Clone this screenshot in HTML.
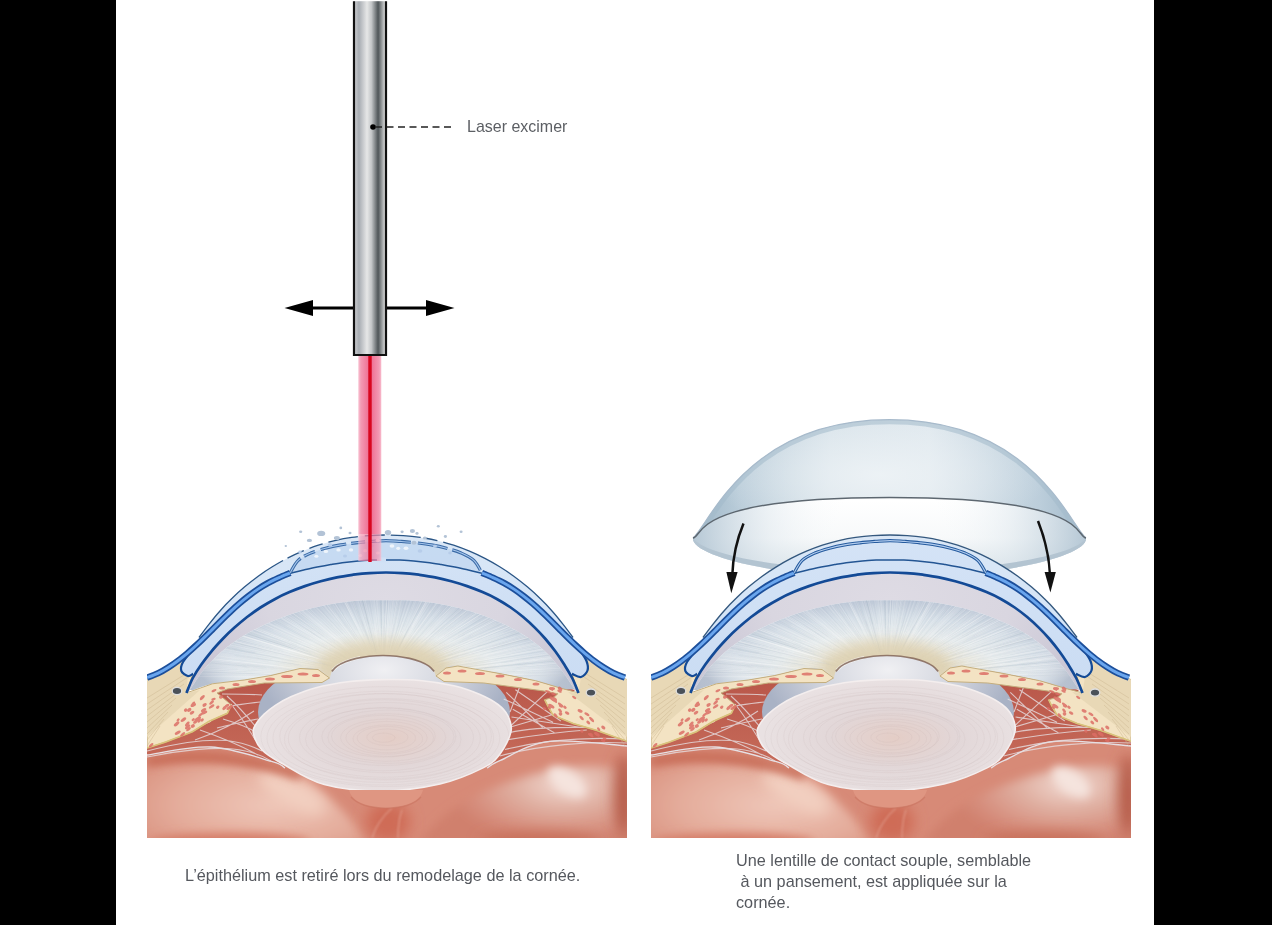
<!DOCTYPE html>
<html><head><meta charset="utf-8">
<style>
html,body{margin:0;padding:0;background:#000;}
body{width:1272px;height:925px;overflow:hidden;position:relative;}
#page{position:absolute;left:116px;top:0;width:1038px;height:925px;background:#fff;}
svg{position:absolute;left:0;top:0;}
.t{position:absolute;font-family:"Liberation Sans",sans-serif;font-size:17px;color:#55585e;white-space:pre;line-height:21.2px;transform-origin:0 0;transform:scaleX(0.955);}
</style></head>
<body>
<div id="page"></div>
<svg width="1272" height="925" viewBox="0 0 1272 925">
<defs>
  <linearGradient id="tube" x1="355" x2="385" y1="0" y2="0" gradientUnits="userSpaceOnUse">
    <stop offset="0" stop-color="#c9cacd"/>
    <stop offset="0.13" stop-color="#a7acb2"/>
    <stop offset="0.40" stop-color="#e6e7e7"/>
    <stop offset="0.55" stop-color="#c3c6c8"/>
    <stop offset="0.77" stop-color="#4e5558"/>
    <stop offset="1" stop-color="#d8d9d9"/>
  </linearGradient>
  <linearGradient id="beam" x1="358" x2="382" y1="0" y2="0" gradientUnits="userSpaceOnUse">
    <stop offset="0" stop-color="#f9c9d7"/>
    <stop offset="0.12" stop-color="#f39ab4"/>
    <stop offset="0.45" stop-color="#ee6f93"/>
    <stop offset="0.55" stop-color="#ee6f93"/>
    <stop offset="0.88" stop-color="#f39ab4"/>
    <stop offset="1" stop-color="#f9c9d7"/>
  </linearGradient>
</defs>
<defs>
<linearGradient id="pcL" x1="0" y1="680" x2="0" y2="780" gradientUnits="userSpaceOnUse"><stop offset="0" stop-color="#b9574a"/><stop offset="1" stop-color="#c86e5c"/></linearGradient>
<radialGradient id="vl1L" cx="265" cy="790" r="120" gradientUnits="userSpaceOnUse" gradientTransform="translate(265 790) rotate(14) scale(1 0.3) translate(-265 -790)"><stop offset="0" stop-color="#edc0af"/><stop offset="0.5" stop-color="#e6ab97" stop-opacity="0.7"/><stop offset="1" stop-color="#e6ab97" stop-opacity="0"/></radialGradient>
<radialGradient id="vl2L" cx="562" cy="780" r="48" gradientUnits="userSpaceOnUse" gradientTransform="translate(562 780) rotate(35) scale(1 0.5) translate(-562 -780)"><stop offset="0" stop-color="#f3ddd5"/><stop offset="0.5" stop-color="#e9bcac" stop-opacity="0.7"/><stop offset="1" stop-color="#e6ab97" stop-opacity="0"/></radialGradient>
<radialGradient id="vl3L" cx="392" cy="838" r="60" gradientUnits="userSpaceOnUse" gradientTransform="translate(392 838) scale(0.6 1) translate(-392 -838)"><stop offset="0" stop-color="#e9bcad"/><stop offset="1" stop-color="#e6b3a2" stop-opacity="0"/></radialGradient>
<linearGradient id="vtopL" x1="0" y1="745" x2="0" y2="800" gradientUnits="userSpaceOnUse"><stop offset="0" stop-color="#bd5f4b" stop-opacity="0.9"/><stop offset="1" stop-color="#bd5f4b" stop-opacity="0"/></linearGradient>
<radialGradient id="vd3L" cx="468" cy="805" r="50" gradientUnits="userSpaceOnUse" gradientTransform="translate(468 805) scale(0.7 1) translate(-468 -805)"><stop offset="0" stop-color="#c46a55" stop-opacity="0.8"/><stop offset="1" stop-color="#c46a55" stop-opacity="0"/></radialGradient>
<radialGradient id="vd1L" cx="620" cy="830" r="70" gradientUnits="userSpaceOnUse" gradientTransform="translate(620 830) scale(0.7 1) translate(-620 -830)"><stop offset="0" stop-color="#b4553f"/><stop offset="1" stop-color="#b4553f" stop-opacity="0"/></radialGradient>
<radialGradient id="vd2L" cx="150" cy="838" r="60" gradientUnits="userSpaceOnUse"><stop offset="0" stop-color="#c2624c"/><stop offset="1" stop-color="#c2624c" stop-opacity="0"/></radialGradient>
<radialGradient id="lbL" cx="384" cy="670" r="125" gradientUnits="userSpaceOnUse" gradientTransform="translate(384 670) scale(1 0.6) translate(-384 -670)"><stop offset="0" stop-color="#f0f0f3"/><stop offset="0.55" stop-color="#d2d5de"/><stop offset="1" stop-color="#a9b2c5"/></radialGradient>
<radialGradient id="lfL" cx="390" cy="738" r="130" gradientUnits="userSpaceOnUse" gradientTransform="translate(390 738) scale(1 0.45) translate(-390 -738)"><stop offset="0" stop-color="#e4cdc6"/><stop offset="0.5" stop-color="#e2d7d8"/><stop offset="1" stop-color="#e9e1e2"/></radialGradient>
<radialGradient id="acL" cx="386" cy="600" r="200" gradientUnits="userSpaceOnUse" gradientTransform="translate(386 600) scale(1 0.6) translate(-386 -600)"><stop offset="0" stop-color="#dedbe4"/><stop offset="0.6" stop-color="#d9d6e0"/><stop offset="1" stop-color="#cbc8d6"/></radialGradient>
<radialGradient id="irL" cx="384" cy="682" r="200" gradientUnits="userSpaceOnUse" gradientTransform="translate(384 682) scale(1 0.41) translate(-384 -682)"><stop offset="0" stop-color="#e0d4b6"/><stop offset="0.3" stop-color="#e3d9c0"/><stop offset="0.45" stop-color="#e9e6d9"/><stop offset="0.6" stop-color="#e8edee"/><stop offset="0.8" stop-color="#d8e1e9"/><stop offset="1" stop-color="#bfc9d8"/></radialGradient>
<filter id="blur4L" filterUnits="userSpaceOnUse" x="250" y="580" width="280" height="140"><feGaussianBlur stdDeviation="6"/></filter>
<radialGradient id="ir2L" cx="384" cy="640" r="200" gradientUnits="userSpaceOnUse" gradientTransform="translate(384 640) scale(1 0.45) translate(-384 -640)"><stop offset="0" stop-color="#fff" stop-opacity="0"/><stop offset="0.75" stop-color="#fff" stop-opacity="0"/><stop offset="1" stop-color="#a9b3c4" stop-opacity="0.6"/></radialGradient>
<linearGradient id="epL" x1="0" y1="534" x2="0" y2="640" gradientUnits="userSpaceOnUse"><stop offset="0" stop-color="#dae7f6"/><stop offset="1" stop-color="#d3e4f7"/></linearGradient>
<linearGradient id="stL" x1="0" y1="540" x2="0" y2="690" gradientUnits="userSpaceOnUse"><stop offset="0" stop-color="#d4e3f6"/><stop offset="1" stop-color="#cadcf3"/></linearGradient>
<radialGradient id="lobeLL" cx="270" cy="805" r="170" gradientUnits="userSpaceOnUse" gradientTransform="translate(270 805) scale(1 0.42) translate(-270 -805)"><stop offset="0" stop-color="#eec6b8"/><stop offset="0.55" stop-color="#e4ac9b"/><stop offset="1" stop-color="#d88d7a"/></radialGradient>
<radialGradient id="lobeRL" cx="565" cy="785" r="120" gradientUnits="userSpaceOnUse" gradientTransform="translate(565 785) scale(1 0.5) translate(-565 -785)"><stop offset="0" stop-color="#f0d8d0"/><stop offset="0.4" stop-color="#e0b0a2"/><stop offset="0.8" stop-color="#d68e7d"/><stop offset="1" stop-color="#d0806d"/></radialGradient>
<filter id="b10L" filterUnits="userSpaceOnUse" x="100" y="600" width="600" height="300"><feGaussianBlur stdDeviation="10"/></filter><filter id="b8L" filterUnits="userSpaceOnUse" x="100" y="600" width="600" height="300"><feGaussianBlur stdDeviation="7"/></filter><filter id="b1L" filterUnits="userSpaceOnUse" x="100" y="600" width="600" height="300"><feGaussianBlur stdDeviation="1.2"/></filter><filter id="b6L" filterUnits="userSpaceOnUse" x="100" y="600" width="600" height="300"><feGaussianBlur stdDeviation="5"/></filter>
<clipPath id="panelL"><rect x="147" y="440" width="480" height="398"/></clipPath>
<clipPath id="ircL"><path d="M190.0,690.0 C192.4,686.5 199.1,675.5 204.4,669.1 C209.7,662.7 215.6,656.7 221.8,651.4 C228.0,646.0 234.8,641.2 241.9,636.8 C248.9,632.4 256.4,628.5 263.9,625.0 C271.5,621.4 279.4,618.3 287.3,615.5 C295.2,612.7 303.3,610.3 311.5,608.3 C319.6,606.2 327.9,604.6 336.2,603.3 C344.5,602.0 352.8,601.1 361.1,600.6 C369.4,600.1 377.7,600.3 386.0,600.3 C394.3,600.3 402.6,600.1 410.8,600.6 C419.1,601.1 427.3,602.0 435.5,603.3 C443.6,604.6 451.7,606.2 459.7,608.3 C467.6,610.3 475.5,612.7 483.2,615.5 C490.8,618.3 498.4,621.4 505.6,625.0 C512.8,628.5 519.9,632.4 526.5,636.8 C533.0,641.2 539.4,646.0 545.1,651.4 C550.8,656.7 555.7,662.7 560.6,669.1 C565.6,675.5 572.6,686.5 575.0,690.0 L575.0,689.0 C572.8,688.9 568.2,689.8 561.7,688.4 C555.2,687.0 545.8,683.1 535.7,680.7 C525.6,678.3 514.0,676.2 501.0,673.8 C488.0,671.3 467.1,667.0 457.9,666.0 C448.7,665.0 449.6,666.3 446.0,668.0 C442.4,669.7 437.7,674.7 436.0,676.0 L436.0,677.0 C435.7,676.1 435.4,673.2 434.2,671.4 C433.0,669.6 431.2,667.9 428.9,666.2 C426.6,664.6 423.7,663.1 420.5,661.8 C417.2,660.5 413.5,659.3 409.5,658.4 C405.5,657.5 401.1,656.7 396.7,656.2 C392.3,655.8 387.6,655.5 383.0,655.5 C378.4,655.5 373.7,655.8 369.3,656.2 C364.9,656.7 360.5,657.5 356.5,658.4 C352.5,659.3 348.8,660.5 345.5,661.8 C342.3,663.1 339.4,664.6 337.1,666.2 C334.8,667.9 333.0,669.6 331.8,671.4 C330.6,673.2 330.3,676.1 330.0,677.0 L329.5,678.0 C327.6,676.6 322.9,671.1 318.0,669.5 C313.1,667.9 307.9,667.5 300.0,668.5 C292.1,669.5 280.0,673.6 270.8,675.5 C261.6,677.4 254.6,678.5 244.9,679.9 C235.2,681.3 221.1,682.1 212.4,683.8 C203.8,685.5 196.2,689.0 193.0,690.0 Z"/></clipPath>
<clipPath id="lfcL"><path d="M253.3,733.0 C252.4,728.6 254.6,726.5 256.4,723.4 C258.2,720.3 260.8,717.4 263.9,714.4 C267.0,711.4 270.9,708.2 275.3,705.3 C279.7,702.4 283.8,699.9 290.4,697.0 C297.0,694.1 305.1,690.5 315.0,687.9 C324.9,685.3 338.9,682.9 350.0,681.5 C361.1,680.1 369.9,679.8 381.6,679.6 C393.3,679.4 407.8,679.4 420.0,680.5 C432.2,681.6 445.0,683.7 455.0,686.0 C465.0,688.3 472.8,691.4 480.0,694.5 C487.2,697.6 493.3,700.9 498.0,704.5 C502.7,708.1 505.8,711.5 508.0,716.0 C510.2,720.5 512.3,725.3 511.0,731.6 C509.7,737.9 504.6,748.0 500.0,754.0 C495.4,760.0 493.5,762.6 483.5,767.6 C473.5,772.6 457.0,780.1 440.0,784.0 C423.0,787.9 400.9,790.9 381.6,791.0 C362.3,791.1 340.9,789.2 324.3,784.6 C307.7,780.0 292.2,769.2 281.8,763.4 C271.4,757.6 266.8,755.1 262.0,750.0 C257.2,744.9 254.2,737.4 253.3,733.0 Z"/></clipPath>

<linearGradient id="pcR" x1="0" y1="680" x2="0" y2="780" gradientUnits="userSpaceOnUse"><stop offset="0" stop-color="#b9574a"/><stop offset="1" stop-color="#c86e5c"/></linearGradient>
<radialGradient id="vl1R" cx="265" cy="790" r="120" gradientUnits="userSpaceOnUse" gradientTransform="translate(265 790) rotate(14) scale(1 0.3) translate(-265 -790)"><stop offset="0" stop-color="#edc0af"/><stop offset="0.5" stop-color="#e6ab97" stop-opacity="0.7"/><stop offset="1" stop-color="#e6ab97" stop-opacity="0"/></radialGradient>
<radialGradient id="vl2R" cx="562" cy="780" r="48" gradientUnits="userSpaceOnUse" gradientTransform="translate(562 780) rotate(35) scale(1 0.5) translate(-562 -780)"><stop offset="0" stop-color="#f3ddd5"/><stop offset="0.5" stop-color="#e9bcac" stop-opacity="0.7"/><stop offset="1" stop-color="#e6ab97" stop-opacity="0"/></radialGradient>
<radialGradient id="vl3R" cx="392" cy="838" r="60" gradientUnits="userSpaceOnUse" gradientTransform="translate(392 838) scale(0.6 1) translate(-392 -838)"><stop offset="0" stop-color="#e9bcad"/><stop offset="1" stop-color="#e6b3a2" stop-opacity="0"/></radialGradient>
<linearGradient id="vtopR" x1="0" y1="745" x2="0" y2="800" gradientUnits="userSpaceOnUse"><stop offset="0" stop-color="#bd5f4b" stop-opacity="0.9"/><stop offset="1" stop-color="#bd5f4b" stop-opacity="0"/></linearGradient>
<radialGradient id="vd3R" cx="468" cy="805" r="50" gradientUnits="userSpaceOnUse" gradientTransform="translate(468 805) scale(0.7 1) translate(-468 -805)"><stop offset="0" stop-color="#c46a55" stop-opacity="0.8"/><stop offset="1" stop-color="#c46a55" stop-opacity="0"/></radialGradient>
<radialGradient id="vd1R" cx="620" cy="830" r="70" gradientUnits="userSpaceOnUse" gradientTransform="translate(620 830) scale(0.7 1) translate(-620 -830)"><stop offset="0" stop-color="#b4553f"/><stop offset="1" stop-color="#b4553f" stop-opacity="0"/></radialGradient>
<radialGradient id="vd2R" cx="150" cy="838" r="60" gradientUnits="userSpaceOnUse"><stop offset="0" stop-color="#c2624c"/><stop offset="1" stop-color="#c2624c" stop-opacity="0"/></radialGradient>
<radialGradient id="lbR" cx="384" cy="670" r="125" gradientUnits="userSpaceOnUse" gradientTransform="translate(384 670) scale(1 0.6) translate(-384 -670)"><stop offset="0" stop-color="#f0f0f3"/><stop offset="0.55" stop-color="#d2d5de"/><stop offset="1" stop-color="#a9b2c5"/></radialGradient>
<radialGradient id="lfR" cx="390" cy="738" r="130" gradientUnits="userSpaceOnUse" gradientTransform="translate(390 738) scale(1 0.45) translate(-390 -738)"><stop offset="0" stop-color="#e4cdc6"/><stop offset="0.5" stop-color="#e2d7d8"/><stop offset="1" stop-color="#e9e1e2"/></radialGradient>
<radialGradient id="acR" cx="386" cy="600" r="200" gradientUnits="userSpaceOnUse" gradientTransform="translate(386 600) scale(1 0.6) translate(-386 -600)"><stop offset="0" stop-color="#dedbe4"/><stop offset="0.6" stop-color="#d9d6e0"/><stop offset="1" stop-color="#cbc8d6"/></radialGradient>
<radialGradient id="irR" cx="384" cy="682" r="200" gradientUnits="userSpaceOnUse" gradientTransform="translate(384 682) scale(1 0.41) translate(-384 -682)"><stop offset="0" stop-color="#e0d4b6"/><stop offset="0.3" stop-color="#e3d9c0"/><stop offset="0.45" stop-color="#e9e6d9"/><stop offset="0.6" stop-color="#e8edee"/><stop offset="0.8" stop-color="#d8e1e9"/><stop offset="1" stop-color="#bfc9d8"/></radialGradient>
<filter id="blur4R" filterUnits="userSpaceOnUse" x="250" y="580" width="280" height="140"><feGaussianBlur stdDeviation="6"/></filter>
<radialGradient id="ir2R" cx="384" cy="640" r="200" gradientUnits="userSpaceOnUse" gradientTransform="translate(384 640) scale(1 0.45) translate(-384 -640)"><stop offset="0" stop-color="#fff" stop-opacity="0"/><stop offset="0.75" stop-color="#fff" stop-opacity="0"/><stop offset="1" stop-color="#a9b3c4" stop-opacity="0.6"/></radialGradient>
<linearGradient id="epR" x1="0" y1="534" x2="0" y2="640" gradientUnits="userSpaceOnUse"><stop offset="0" stop-color="#dae7f6"/><stop offset="1" stop-color="#d3e4f7"/></linearGradient>
<linearGradient id="stR" x1="0" y1="540" x2="0" y2="690" gradientUnits="userSpaceOnUse"><stop offset="0" stop-color="#d4e3f6"/><stop offset="1" stop-color="#cadcf3"/></linearGradient>
<radialGradient id="lobeLR" cx="270" cy="805" r="170" gradientUnits="userSpaceOnUse" gradientTransform="translate(270 805) scale(1 0.42) translate(-270 -805)"><stop offset="0" stop-color="#eec6b8"/><stop offset="0.55" stop-color="#e4ac9b"/><stop offset="1" stop-color="#d88d7a"/></radialGradient>
<radialGradient id="lobeRR" cx="565" cy="785" r="120" gradientUnits="userSpaceOnUse" gradientTransform="translate(565 785) scale(1 0.5) translate(-565 -785)"><stop offset="0" stop-color="#f0d8d0"/><stop offset="0.4" stop-color="#e0b0a2"/><stop offset="0.8" stop-color="#d68e7d"/><stop offset="1" stop-color="#d0806d"/></radialGradient>
<filter id="b10R" filterUnits="userSpaceOnUse" x="100" y="600" width="600" height="300"><feGaussianBlur stdDeviation="10"/></filter><filter id="b8R" filterUnits="userSpaceOnUse" x="100" y="600" width="600" height="300"><feGaussianBlur stdDeviation="7"/></filter><filter id="b1R" filterUnits="userSpaceOnUse" x="100" y="600" width="600" height="300"><feGaussianBlur stdDeviation="1.2"/></filter><filter id="b6R" filterUnits="userSpaceOnUse" x="100" y="600" width="600" height="300"><feGaussianBlur stdDeviation="5"/></filter>
<clipPath id="panelR"><rect x="147" y="440" width="480" height="398"/></clipPath>
<clipPath id="ircR"><path d="M190.0,690.0 C192.4,686.5 199.1,675.5 204.4,669.1 C209.7,662.7 215.6,656.7 221.8,651.4 C228.0,646.0 234.8,641.2 241.9,636.8 C248.9,632.4 256.4,628.5 263.9,625.0 C271.5,621.4 279.4,618.3 287.3,615.5 C295.2,612.7 303.3,610.3 311.5,608.3 C319.6,606.2 327.9,604.6 336.2,603.3 C344.5,602.0 352.8,601.1 361.1,600.6 C369.4,600.1 377.7,600.3 386.0,600.3 C394.3,600.3 402.6,600.1 410.8,600.6 C419.1,601.1 427.3,602.0 435.5,603.3 C443.6,604.6 451.7,606.2 459.7,608.3 C467.6,610.3 475.5,612.7 483.2,615.5 C490.8,618.3 498.4,621.4 505.6,625.0 C512.8,628.5 519.9,632.4 526.5,636.8 C533.0,641.2 539.4,646.0 545.1,651.4 C550.8,656.7 555.7,662.7 560.6,669.1 C565.6,675.5 572.6,686.5 575.0,690.0 L575.0,689.0 C572.8,688.9 568.2,689.8 561.7,688.4 C555.2,687.0 545.8,683.1 535.7,680.7 C525.6,678.3 514.0,676.2 501.0,673.8 C488.0,671.3 467.1,667.0 457.9,666.0 C448.7,665.0 449.6,666.3 446.0,668.0 C442.4,669.7 437.7,674.7 436.0,676.0 L436.0,677.0 C435.7,676.1 435.4,673.2 434.2,671.4 C433.0,669.6 431.2,667.9 428.9,666.2 C426.6,664.6 423.7,663.1 420.5,661.8 C417.2,660.5 413.5,659.3 409.5,658.4 C405.5,657.5 401.1,656.7 396.7,656.2 C392.3,655.8 387.6,655.5 383.0,655.5 C378.4,655.5 373.7,655.8 369.3,656.2 C364.9,656.7 360.5,657.5 356.5,658.4 C352.5,659.3 348.8,660.5 345.5,661.8 C342.3,663.1 339.4,664.6 337.1,666.2 C334.8,667.9 333.0,669.6 331.8,671.4 C330.6,673.2 330.3,676.1 330.0,677.0 L329.5,678.0 C327.6,676.6 322.9,671.1 318.0,669.5 C313.1,667.9 307.9,667.5 300.0,668.5 C292.1,669.5 280.0,673.6 270.8,675.5 C261.6,677.4 254.6,678.5 244.9,679.9 C235.2,681.3 221.1,682.1 212.4,683.8 C203.8,685.5 196.2,689.0 193.0,690.0 Z"/></clipPath>
<clipPath id="lfcR"><path d="M253.3,733.0 C252.4,728.6 254.6,726.5 256.4,723.4 C258.2,720.3 260.8,717.4 263.9,714.4 C267.0,711.4 270.9,708.2 275.3,705.3 C279.7,702.4 283.8,699.9 290.4,697.0 C297.0,694.1 305.1,690.5 315.0,687.9 C324.9,685.3 338.9,682.9 350.0,681.5 C361.1,680.1 369.9,679.8 381.6,679.6 C393.3,679.4 407.8,679.4 420.0,680.5 C432.2,681.6 445.0,683.7 455.0,686.0 C465.0,688.3 472.8,691.4 480.0,694.5 C487.2,697.6 493.3,700.9 498.0,704.5 C502.7,708.1 505.8,711.5 508.0,716.0 C510.2,720.5 512.3,725.3 511.0,731.6 C509.7,737.9 504.6,748.0 500.0,754.0 C495.4,760.0 493.5,762.6 483.5,767.6 C473.5,772.6 457.0,780.1 440.0,784.0 C423.0,787.9 400.9,790.9 381.6,791.0 C362.3,791.1 340.9,789.2 324.3,784.6 C307.7,780.0 292.2,769.2 281.8,763.4 C271.4,757.6 266.8,755.1 262.0,750.0 C257.2,744.9 254.2,737.4 253.3,733.0 Z"/></clipPath>

<linearGradient id="clout" x1="692" y1="0" x2="1087" y2="0" gradientUnits="userSpaceOnUse"><stop offset="0" stop-color="#9db5c6"/><stop offset="0.12" stop-color="#b9ccd9"/><stop offset="0.35" stop-color="#d8e3ea"/><stop offset="0.6" stop-color="#dfe8ee"/><stop offset="0.88" stop-color="#bccedb"/><stop offset="1" stop-color="#a0b8c9"/></linearGradient>
<radialGradient id="clhl" cx="880" cy="475" r="130" gradientUnits="userSpaceOnUse" gradientTransform="translate(880 475) scale(1.3 0.5) translate(-880 -475)"><stop offset="0" stop-color="#eef3f6" stop-opacity="0.9"/><stop offset="1" stop-color="#eef3f6" stop-opacity="0"/></radialGradient>
<linearGradient id="clin2" x1="693" y1="0" x2="1086" y2="0" gradientUnits="userSpaceOnUse"><stop offset="0" stop-color="#aec2d1" stop-opacity="0.9"/><stop offset="0.2" stop-color="#dfe8ee" stop-opacity="0.5"/><stop offset="0.4" stop-color="#ffffff" stop-opacity="0"/><stop offset="0.6" stop-color="#ffffff" stop-opacity="0"/><stop offset="0.8" stop-color="#dfe8ee" stop-opacity="0.5"/><stop offset="1" stop-color="#aec2d1" stop-opacity="0.9"/></linearGradient>
<linearGradient id="clin" x1="0" y1="500" x2="0" y2="576" gradientUnits="userSpaceOnUse"><stop offset="0" stop-color="#ffffff"/><stop offset="0.5" stop-color="#f7f9fa"/><stop offset="1" stop-color="#cfdbe3"/></linearGradient>
</defs>
<path d="M693,538 C703.7,536.8 688.9,497.4 889.5,497.4 C1090.1,497.4 1075.3,536.8 1086,538 L1086,538 C1088,551 1040,567 975,573 C940,576 910,577 889.5,577 C869,577 839,576 804,573 C739,567 691,551 693,538 Z" fill="url(#clin)"/>
<path d="M693,538 C703.7,536.8 688.9,497.4 889.5,497.4 C1090.1,497.4 1075.3,536.8 1086,538 L1086,538 C1088,551 1040,567 975,573 C940,576 910,577 889.5,577 C869,577 839,576 804,573 C739,567 691,551 693,538 Z" fill="url(#clin2)"/>
<path d="M693,538 C691,551 739,567 804,573 C839,576 869,577 889.5,577 C910,577 940,576 975,573 C1040,567 1088,551 1086,538 C1080,549 1040,561 975,567 C940,570 910,571 889.5,571 C869,571 839,570 804,567 C739,561 700,549 693,538 Z" fill="#b3c4d1"/>
<path d="M693,538 C709.8,523.6 747.1,419.7 889.5,419.7 C1031.9,419.7 1069.2,523.6 1086,538 C1075.3,536.8 1090.1,497.4 889.5,497.4 C688.9,497.4 703.7,536.8 693,538 Z" fill="url(#clout)"/>
<path d="M693,538 C709.8,523.6 747.1,419.7 889.5,419.7 C1031.9,419.7 1069.2,523.6 1086,538 C1075.3,536.8 1090.1,497.4 889.5,497.4 C688.9,497.4 703.7,536.8 693,538 Z" fill="url(#clhl)"/>
<clipPath id="domec"><path d="M693,538 C709.8,523.6 747.1,419.7 889.5,419.7 C1031.9,419.7 1069.2,523.6 1086,538 C1075.3,536.8 1090.1,497.4 889.5,497.4 C688.9,497.4 703.7,536.8 693,538 Z"/></clipPath>
<path d="M693,538 C709.8,523.6 747.1,419.7 889.5,419.7 C1031.9,419.7 1069.2,523.6 1086,538" fill="none" stroke="#a3b9ca" stroke-width="9" opacity="0.55" clip-path="url(#domec)"/>
<path d="M693,538 C709.8,523.6 747.1,419.7 889.5,419.7 C1031.9,419.7 1069.2,523.6 1086,538" fill="none" stroke="#a7bacb" stroke-width="1.2"/>
<path d="M693,538 C703.7,536.8 688.9,497.4 889.5,497.4 C1090.1,497.4 1075.3,536.8 1086,538" fill="none" stroke="#5d6770" stroke-width="1.5"/>
<g clip-path="url(#panelL)">
<polygon points="147.0,745.0 172.5,738.3 211.0,721.8 215.0,706.4 200.0,690.0 271.6,672.0 330.0,668.0 440.0,668.0 500.0,672.0 575.0,690.0 560.0,705.0 553.0,715.2 597.0,730.6 627.0,741.3 627.0,840.0 147.0,840.0" fill="url(#pcL)"/>
<clipPath id="vcL"><path d="M147.0,755.0 C157.7,753.7 190.2,745.9 211.0,747.0 C231.8,748.1 256.8,757.6 271.6,761.4 C286.4,765.2 290.3,766.9 300.0,770.0 C309.7,773.1 315.7,777.3 330.0,780.0 C344.3,782.7 367.3,786.0 386.0,786.0 C404.7,786.0 427.7,782.7 442.0,780.0 C456.3,777.3 462.3,773.3 472.0,770.0 C481.7,766.7 487.5,765.2 500.4,760.4 C513.3,755.6 528.4,743.7 549.5,741.3 C570.6,738.9 614.1,745.2 627.0,746.0 L627,840 L147,840 Z"/></clipPath>
<g clip-path="url(#vcL)">
<rect x="147" y="740" width="480" height="100" fill="#d78a77"/>
<path d="M140,768 C175,758 255,758 298,778 C328,792 350,815 368,845 L140,845 Z" fill="url(#lobeLL)" filter="url(#b6L)"/>
<ellipse cx="292" cy="792" rx="38" ry="14" fill="#f2cfc0" transform="rotate(30 292 792)" filter="url(#b8L)"/>
<path d="M147,762 C200,752 250,758 300,776" stroke="#c4654f" stroke-width="8" fill="none" filter="url(#b6L)"/>
<ellipse cx="230" cy="842" rx="80" ry="9" fill="#d57c66" filter="url(#b6L)"/>
<ellipse cx="388" cy="822" rx="22" ry="20" fill="#cf6c56" filter="url(#b8L)"/>
<path d="M372,838 C376,825 384,815 392,808 M398,838 C398,828 399,818 402,810" stroke="#eab7a8" stroke-width="1.6" fill="none" opacity="0.45" filter="url(#b1L)"/>
<path d="M418,845 C440,812 475,792 520,778 C560,765 600,762 635,772 L635,845 Z" fill="url(#lobeRL)" filter="url(#b6L)"/>
<ellipse cx="567" cy="782" rx="22" ry="11" fill="#f5e4de" transform="rotate(35 567 782)" filter="url(#b6L)"/>
<ellipse cx="624" cy="795" rx="10" ry="40" fill="#b55a46" filter="url(#b8L)"/>
<ellipse cx="540" cy="842" rx="60" ry="10" fill="#c8705a" filter="url(#b8L)"/>
</g>
<path d="M147.0,755.0 C157.7,753.7 190.2,745.9 211.0,747.0 C231.8,748.1 259.3,757.9 271.6,761.4 C283.9,764.9 282.8,766.9 285.0,768.0" fill="none" stroke="#e6e0e4" stroke-width="1.3"/>
<path d="M487.0,768.0 C489.2,766.7 490.0,764.9 500.4,760.4 C510.8,755.9 528.4,743.7 549.5,741.3 C570.6,738.9 614.1,745.2 627.0,746.0" fill="none" stroke="#e6e0e4" stroke-width="1.3"/>
<ellipse cx="384" cy="712" rx="126" ry="58" fill="url(#lbL)"/>
<path d="M147,757 C180,750 215,747 233,749 C250,751 262,755 271,761 M147,751 C175,744 200,739 227,740.5 C240,742 252,746 262,751 M195,740 C215,733 238,722 254,711 M231,704 C240,715 248,728 256,741 M223,719 C233,722 245,726 254,731 M227,696 C237,705 247,716 256,727 M222,694 C237,694 250,694 262,695 M231,706 C242,704 252,703 260,702 M217,728 C230,725 245,721 258,719 M200,730 C220,737 240,745 258,755" fill="none" stroke="#e6dde0" stroke-width="1.1" opacity="0.8"/>
<path d="M508.9,727.5 L547.9,691.1 M508.9,727.5 L553,714.5 M508.9,732.7 C530,728 560,727 586.8,727.5 M503.7,698.9 L553,722.3 M506.3,692.4 L542.7,727.5 M515.4,689.8 L560.8,721 M499.8,756 C540,745 590,741 627,743 M505,749.5 C545,740 590,737 627,739.2 M502.4,740.5 C530,736 560,732 586.8,730 M512.8,709.3 L554.3,732.7 M511.5,717 L581.6,727.5 M520,686 L510,712" fill="none" stroke="#e6dde0" stroke-width="1.1" opacity="0.8"/>
<path d="M253.3,733.0 C252.4,728.6 254.6,726.5 256.4,723.4 C258.2,720.3 260.8,717.4 263.9,714.4 C267.0,711.4 270.9,708.2 275.3,705.3 C279.7,702.4 283.8,699.9 290.4,697.0 C297.0,694.1 305.1,690.5 315.0,687.9 C324.9,685.3 338.9,682.9 350.0,681.5 C361.1,680.1 369.9,679.8 381.6,679.6 C393.3,679.4 407.8,679.4 420.0,680.5 C432.2,681.6 445.0,683.7 455.0,686.0 C465.0,688.3 472.8,691.4 480.0,694.5 C487.2,697.6 493.3,700.9 498.0,704.5 C502.7,708.1 505.8,711.5 508.0,716.0 C510.2,720.5 512.3,725.3 511.0,731.6 C509.7,737.9 504.6,748.0 500.0,754.0 C495.4,760.0 493.5,762.6 483.5,767.6 C473.5,772.6 457.0,780.1 440.0,784.0 C423.0,787.9 400.9,790.9 381.6,791.0 C362.3,791.1 340.9,789.2 324.3,784.6 C307.7,780.0 292.2,769.2 281.8,763.4 C271.4,757.6 266.8,755.1 262.0,750.0 C257.2,744.9 254.2,737.4 253.3,733.0 Z" fill="url(#lfL)"/>
<g fill="none" stroke="#b09a9a" stroke-opacity="0.09" stroke-width="1" clip-path="url(#lfcL)"><ellipse cx="384.9" cy="736.6" rx="124.0" ry="50.0"/><ellipse cx="383.4" cy="738.1" rx="116.4" ry="46.9"/><ellipse cx="383.3" cy="738.0" rx="110.3" ry="44.5"/><ellipse cx="385.6" cy="736.3" rx="105.8" ry="42.6"/><ellipse cx="385.5" cy="739.3" rx="101.0" ry="40.7"/><ellipse cx="384.3" cy="738.5" rx="96.0" ry="38.7"/><ellipse cx="386.5" cy="737.6" rx="87.0" ry="35.1"/><ellipse cx="383.3" cy="739.4" rx="77.8" ry="31.4"/><ellipse cx="383.9" cy="736.5" rx="72.0" ry="29.0"/><ellipse cx="387.9" cy="736.7" rx="66.1" ry="26.7"/><ellipse cx="386.8" cy="737.5" rx="58.9" ry="23.8"/><ellipse cx="383.4" cy="736.2" rx="51.9" ry="20.9"/><ellipse cx="387.1" cy="737.7" rx="46.5" ry="18.7"/><ellipse cx="386.5" cy="737.8" rx="40.6" ry="16.4"/><ellipse cx="387.8" cy="738.8" rx="34.8" ry="14.0"/><ellipse cx="386.4" cy="738.1" rx="29.2" ry="11.8"/><ellipse cx="387.4" cy="737.2" rx="20.5" ry="8.3"/><ellipse cx="383.7" cy="737.7" rx="11.3" ry="4.6"/></g>
<path d="M253.3,733.0 C252.4,728.6 254.6,726.5 256.4,723.4 C258.2,720.3 260.8,717.4 263.9,714.4 C267.0,711.4 270.9,708.2 275.3,705.3 C279.7,702.4 283.8,699.9 290.4,697.0 C297.0,694.1 305.1,690.5 315.0,687.9 C324.9,685.3 338.9,682.9 350.0,681.5 C361.1,680.1 369.9,679.8 381.6,679.6 C393.3,679.4 407.8,679.4 420.0,680.5 C432.2,681.6 445.0,683.7 455.0,686.0 C465.0,688.3 472.8,691.4 480.0,694.5 C487.2,697.6 493.3,700.9 498.0,704.5 C502.7,708.1 505.8,711.5 508.0,716.0 C510.2,720.5 512.3,725.3 511.0,731.6 C509.7,737.9 504.6,748.0 500.0,754.0 C495.4,760.0 493.5,762.6 483.5,767.6 C473.5,772.6 457.0,780.1 440.0,784.0 C423.0,787.9 400.9,790.9 381.6,791.0 C362.3,791.1 340.9,789.2 324.3,784.6 C307.7,780.0 292.2,769.2 281.8,763.4 C271.4,757.6 266.8,755.1 262.0,750.0 C257.2,744.9 254.2,737.4 253.3,733.0 Z" fill="none" stroke="#f4eeee" stroke-width="1.6"/>
<path d="M349,790 C352,803 370,808 386,808 C402,808 420,803 423,790 Z" fill="#df9682"/><path d="M351,797 C358,805 372,808 386,808 C400,808 414,805 421,797" fill="none" stroke="#c97460" stroke-width="1.2" opacity="0.6"/>
<path d="M186.5,692.9 C187.5,690.4 190.3,682.8 192.8,678.0 C195.3,673.3 198.3,668.8 201.5,664.3 C204.6,659.9 208.0,655.5 211.5,651.3 C215.0,647.1 218.8,643.0 222.6,639.0 C226.4,635.1 230.4,631.2 234.5,627.6 C238.6,623.9 242.8,620.4 247.1,617.0 C251.5,613.7 255.9,610.5 260.5,607.5 C265.1,604.6 269.8,601.8 274.7,599.2 C279.5,596.6 284.5,594.2 289.5,592.1 C294.6,589.9 299.7,587.9 304.9,586.1 C310.1,584.3 315.4,582.6 320.7,581.2 C326.1,579.8 331.5,578.5 336.9,577.4 C342.3,576.3 347.8,575.5 353.2,574.7 C358.7,574.0 364.1,573.4 369.6,573.1 C375.1,572.7 380.5,572.5 386.0,572.5 C391.5,572.5 396.9,572.7 402.4,573.1 C407.9,573.4 413.3,574.0 418.8,574.7 C424.2,575.5 429.7,576.3 435.1,577.4 C440.5,578.5 445.9,579.8 451.3,581.2 C456.6,582.6 461.9,584.3 467.1,586.1 C472.3,587.9 477.4,589.9 482.5,592.1 C487.5,594.2 492.6,596.6 497.3,599.2 C502.0,601.8 506.4,604.6 510.7,607.5 C515.0,610.5 519.2,613.7 523.2,617.0 C527.2,620.4 531.1,623.9 534.8,627.6 C538.5,631.2 542.1,635.1 545.5,639.0 C548.9,643.0 552.2,647.1 555.3,651.3 C558.4,655.5 561.3,659.9 564.1,664.3 C566.9,668.8 569.8,673.3 572.2,678.0 C574.6,682.8 577.5,690.4 578.5,692.9 L575.0,690.0 C572.6,686.5 565.6,675.5 560.6,669.1 C555.7,662.7 550.8,656.7 545.1,651.4 C539.4,646.0 533.0,641.2 526.5,636.8 C519.9,632.4 512.8,628.5 505.6,625.0 C498.4,621.4 490.8,618.3 483.2,615.5 C475.5,612.7 467.6,610.3 459.7,608.3 C451.7,606.2 443.6,604.6 435.5,603.3 C427.3,602.0 419.1,601.1 410.8,600.6 C402.6,600.1 394.3,600.3 386.0,600.3 C377.7,600.3 369.4,600.1 361.1,600.6 C352.8,601.1 344.5,602.0 336.2,603.3 C327.9,604.6 319.6,606.2 311.5,608.3 C303.3,610.3 295.2,612.7 287.3,615.5 C279.4,618.3 271.5,621.4 263.9,625.0 C256.4,628.5 248.9,632.4 241.9,636.8 C234.8,641.2 228.0,646.0 221.8,651.4 C215.6,656.7 209.7,662.7 204.4,669.1 C199.1,675.5 192.4,686.5 190.0,690.0 Z" fill="url(#acL)"/>
<path d="M190.0,690.0 C192.4,686.5 199.1,675.5 204.4,669.1 C209.7,662.7 215.6,656.7 221.8,651.4 C228.0,646.0 234.8,641.2 241.9,636.8 C248.9,632.4 256.4,628.5 263.9,625.0 C271.5,621.4 279.4,618.3 287.3,615.5 C295.2,612.7 303.3,610.3 311.5,608.3 C319.6,606.2 327.9,604.6 336.2,603.3 C344.5,602.0 352.8,601.1 361.1,600.6 C369.4,600.1 377.7,600.3 386.0,600.3 C394.3,600.3 402.6,600.1 410.8,600.6 C419.1,601.1 427.3,602.0 435.5,603.3 C443.6,604.6 451.7,606.2 459.7,608.3 C467.6,610.3 475.5,612.7 483.2,615.5 C490.8,618.3 498.4,621.4 505.6,625.0 C512.8,628.5 519.9,632.4 526.5,636.8 C533.0,641.2 539.4,646.0 545.1,651.4 C550.8,656.7 555.7,662.7 560.6,669.1 C565.6,675.5 572.6,686.5 575.0,690.0 L575.0,689.0 C572.8,688.9 568.2,689.8 561.7,688.4 C555.2,687.0 545.8,683.1 535.7,680.7 C525.6,678.3 514.0,676.2 501.0,673.8 C488.0,671.3 467.1,667.0 457.9,666.0 C448.7,665.0 449.6,666.3 446.0,668.0 C442.4,669.7 437.7,674.7 436.0,676.0 L436.0,677.0 C435.7,676.1 435.4,673.2 434.2,671.4 C433.0,669.6 431.2,667.9 428.9,666.2 C426.6,664.6 423.7,663.1 420.5,661.8 C417.2,660.5 413.5,659.3 409.5,658.4 C405.5,657.5 401.1,656.7 396.7,656.2 C392.3,655.8 387.6,655.5 383.0,655.5 C378.4,655.5 373.7,655.8 369.3,656.2 C364.9,656.7 360.5,657.5 356.5,658.4 C352.5,659.3 348.8,660.5 345.5,661.8 C342.3,663.1 339.4,664.6 337.1,666.2 C334.8,667.9 333.0,669.6 331.8,671.4 C330.6,673.2 330.3,676.1 330.0,677.0 L329.5,678.0 C327.6,676.6 322.9,671.1 318.0,669.5 C313.1,667.9 307.9,667.5 300.0,668.5 C292.1,669.5 280.0,673.6 270.8,675.5 C261.6,677.4 254.6,678.5 244.9,679.9 C235.2,681.3 221.1,682.1 212.4,683.8 C203.8,685.5 196.2,689.0 193.0,690.0 Z" fill="url(#irL)"/>
<path d="M371.9,639.5 L350.3,565.0 M436.5,662.6 L544.8,631.4 M237.7,670.0 L-48.1,654.3 M276.7,675.5 L195.7,673.6 M372.0,641.7 L342.8,545.7 M431.4,645.5 L494.9,603.0 M435.6,652.1 L508.0,616.6 M341.9,630.4 L294.4,575.3 M272.8,645.7 L135.2,605.4 M433.4,634.1 L484.1,590.0 M433.2,660.0 L522.4,628.0 M291.0,656.2 L147.7,622.2 M413.1,654.7 L484.0,599.9 M453.0,659.2 L671.9,600.3 M412.1,655.1 L537.8,556.4 M339.5,650.6 L296.8,623.7 M411.6,645.4 L464.7,585.0 M451.7,666.3 L545.2,650.3 M280.1,651.5 L47.4,591.7 M413.6,643.9 L442.5,611.8 M431.9,653.5 L584.1,577.0 M424.4,659.2 L500.3,624.8 M293.9,637.4 L221.8,604.6 M309.5,672.3 L160.5,660.8 M520.5,659.0 L725.1,630.8 M322.5,675.2 L48.3,662.2 M425.0,643.4 L521.6,564.0 M400.8,632.2 L440.0,531.7 M470.2,668.7 L686.1,645.5 M490.0,646.7 L646.2,601.1 M405.1,654.7 L476.2,579.9 M340.6,634.5 L272.4,564.5 M426.5,661.6 L570.7,607.4 M382.0,635.7 L379.6,532.5 M423.7,653.6 L479.6,620.1 M466.0,666.6 L672.7,638.4 M515.3,663.7 L664.8,647.5 M381.5,628.4 L378.7,531.2 M297.8,659.0 L185.9,634.0 M381.3,645.6 L376.4,549.3 M246.7,672.2 L170.2,668.9 M431.1,664.0 L508.7,641.5 M330.6,659.7 L273.6,639.9 M443.8,634.9 L577.0,540.5 M332.3,665.9 L184.4,630.6 M327.0,638.1 L240.8,576.6 M493.4,646.0 L562.3,626.0 M366.4,635.8 L326.7,534.5 M497.4,645.9 L635.9,607.0 M480.4,654.3 L674.4,607.0 M489.8,674.5 L737.9,666.4 M352.7,656.0 L276.2,600.3 M252.2,672.9 L170.5,669.6 M439.1,661.3 L518.3,637.8 M462.7,633.7 L562.9,578.1 M390.1,646.5 L409.5,559.9 M399.1,646.3 L427.9,589.9 M512.2,653.0 L678.6,620.8 M384.1,636.0 L384.8,608.7 M471.2,653.9 L616.2,614.3 M344.7,626.3 L270.8,526.5 M356.0,630.1 L299.9,530.7 M433.8,629.0 L468.6,595.3 M292.6,648.4 L186.6,613.8 M429.2,658.4 L550.6,606.8 M364.9,644.3 L333.2,585.3 M429.1,638.5 L504.1,574.2 M290.4,646.7 L103.2,583.3 M459.2,670.6 L746.1,642.6 M436.4,654.7 L494.5,629.4 M295.6,664.0 L89.3,630.9 M522.5,662.4 L612.5,652.4 M424.6,654.3 L470.2,628.4 M388.1,637.3 L392.7,599.9 M524.8,675.5 L614.1,673.9 M447.9,655.7 L575.9,611.7 M261.3,675.4 L0.5,669.7 M360.7,650.8 L330.2,613.4 M481.5,651.2 L695.1,593.1 M385.0,623.6 L388.3,530.2 M483.3,646.2 L605.4,607.6 M477.2,646.1 L595.7,606.0 M377.2,655.8 L362.8,600.8 M499.6,669.7 L642.1,659.6 M333.1,626.2 L260.8,551.3 M269.2,674.3 L33.1,666.5 M307.7,657.9 L234.6,638.4 M386.5,624.1 L391.3,550.8 M274.0,667.5 L40.0,645.0 M376.5,650.5 L360.6,583.7 M357.1,639.8 L307.1,566.3 M398.9,647.2 L442.3,562.8 M310.5,673.9 L72.5,660.6 M237.7,668.6 L-42.3,650.4 M372.8,624.0 L364.3,578.4 M368.6,624.0 L343.6,530.0 M372.4,649.6 L361.5,620.4 M432.8,645.9 L496.4,604.9 M397.2,623.3 L424.5,517.8 M504.4,661.5 L702.5,634.7 M405.4,637.3 L448.1,560.1 M523.5,673.8 L791.8,665.8 M356.5,636.6 L335.6,603.8 M439.5,643.7 L550.0,576.6 M324.3,636.8 L203.0,551.7 M431.0,634.1 L474.6,594.1 M336.4,638.0 L219.8,537.8 M477.1,668.6 L624.1,653.9 M277.5,667.0 L105.4,649.0 M307.1,670.7 L94.7,650.3 M431.0,652.2 L487.8,621.6 M269.2,661.1 L85.4,633.7 M357.9,630.4 L331.6,580.4 M459.7,667.8 L601.4,649.0 M356.7,651.3 L289.4,582.8 M397.6,650.7 L444.4,562.9 M388.2,638.1 L397.8,564.9 M277.4,669.4 L34.8,649.6 M446.3,669.9 L647.8,644.3 M326.8,657.4 L153.9,594.1 M312.7,630.8 L205.6,558.8 M467.9,636.3 L565.4,588.5 M491.8,649.2 L712.6,590.8 M462.5,639.5 L562.2,591.2 M475.8,676.4 L581.6,674.7 M447.3,675.3 L584.7,669.6 M328.5,664.9 L183.5,630.1 M311.9,668.2 L201.8,653.1 M325.6,659.6 L225.8,627.6 M402.7,629.6 L429.2,564.6 M332.0,642.7 L196.7,548.9 M511.7,669.3 L665.0,658.9 M500.9,675.9 L622.7,673.8 M481.0,650.5 L645.6,604.2 M290.0,640.8 L163.6,590.3 M390.8,651.2 L417.0,561.2 M439.2,664.7 L548.2,638.8 M369.0,624.7 L349.3,550.2 M347.0,627.5 L324.5,595.8 M388.9,650.9 L409.4,555.5 M325.7,647.2 L194.2,576.6 M350.6,642.8 L257.2,541.3 M337.3,635.8 L291.9,593.9 M513.5,675.9 L628.3,674.0 M393.6,646.4 L411.5,593.1 M283.0,650.5 L168.1,618.9 M316.5,635.3 L272.2,606.8 M428.5,655.7 L524.8,608.5 M327.9,660.0 L255.8,636.6 M359.4,640.1 L310.8,562.1 M334.9,647.2 L299.4,624.4 M475.6,650.8 L637.9,603.1 M414.1,655.2 L483.7,604.3 M407.9,652.4 L490.5,567.6 M383.1,651.3 L383.4,565.7 M449.5,663.6 L695.0,610.5 M304.0,649.2 L141.9,590.1 M374.9,652.1 L341.6,545.0 M403.5,638.2 L427.5,591.6 M404.8,653.2 L484.4,562.8 M413.2,629.9 L438.2,590.2 M259.5,648.2 L22.2,591.0 M445.9,652.4 L582.7,596.7 M375.8,651.4 L360.4,593.9 M309.3,647.8 L213.0,608.2 M253.6,653.8 L70.4,619.6 M453.4,638.9 L586.6,564.9 M468.5,662.0 L617.7,634.1 M390.6,641.8 L411.9,540.3 M501.0,663.1 L694.7,638.8 M314.4,671.9 L149.0,657.3 M443.5,645.6 L513.2,608.4 M246.1,666.1 L-35.6,641.7 M447.3,660.9 L641.4,609.3 M438.5,662.0 L589.0,618.5 M331.4,651.4 L283.6,626.8 M334.9,640.7 L301.2,614.6 M382.3,625.2 L380.9,517.1 M517.7,664.8 L626.4,654.2 M265.6,651.3 L13.6,593.8 M442.1,669.0 L527.0,656.1 M495.1,659.3 L584.9,644.4 M306.4,670.4 L173.2,657.1 M296.1,648.1 L113.8,585.3 M405.0,649.6 L442.6,601.0 M411.4,655.4 L534.8,556.9 M271.6,671.4 L140.4,663.7 M304.6,641.1 L227.8,605.1 M522.1,659.9 L593.1,650.7 M484.0,669.0 L589.8,659.5 M444.0,635.8 L531.8,575.1 M392.2,624.7 L399.0,585.0 M310.7,653.1 L131.3,591.4 M380.3,648.7 L373.5,574.5 M451.3,645.9 L617.0,567.9 M381.8,641.7 L379.8,579.1 M488.0,665.7 L671.3,644.3 M348.0,658.5 L270.6,615.5 M401.3,654.0 L470.9,562.8 M457.5,637.0 L596.0,560.8 M270.5,643.6 L210.9,625.4 M293.7,661.3 L80.7,621.6 M298.3,662.6 L176.3,640.3 M510.4,676.6 L746.2,674.0 M310.7,652.1 L108.3,579.7 M404.3,656.1 L458.3,600.3 M460.6,636.4 L576.0,574.6 M464.7,661.3 L680.7,617.0 M394.3,650.9 L411.9,609.1 M358.8,624.0 L322.3,542.3 M265.6,667.2 L119.3,653.7 M319.5,652.1 L131.4,575.6 M257.3,652.9 L125.2,626.5 M295.2,675.4 L140.0,670.7 M461.8,651.9 L521.5,632.1 M283.6,658.5 L217.5,645.6 M272.3,658.7 L157.2,638.6 M316.0,659.0 L132.6,606.9 M318.8,657.1 L208.5,621.3 M426.3,640.6 L526.0,554.5 M458.8,670.3 L676.4,648.1 M298.0,648.9 L233.3,626.7 M351.6,647.3 L287.2,584.4 M377.3,650.6 L360.4,569.3 M365.6,651.8 L317.5,579.4 M289.1,674.9 L138.6,669.9 M381.5,636.7 L379.0,571.8 M319.5,632.3 L229.2,567.3 M372.1,635.9 L344.8,530.2 M469.1,649.6 L625.9,597.9 M500.7,651.5 L633.2,621.6 M384.9,645.8 L388.2,590.2 M293.4,648.4 L202.7,618.6 M308.1,651.6 L151.2,596.2 M507.8,650.2 L631.2,622.6 M458.4,642.8 L598.4,577.5 M421.0,642.5 L493.7,574.7 M391.5,648.3 L404.6,602.4 M323.3,668.4 L246.9,656.2 M363.8,631.1 L337.1,565.9 M302.4,672.5 L121.5,660.0 M297.2,645.3 L197.9,607.4 M476.7,656.7 L616.6,624.9 M439.8,662.5 L563.8,628.7 M271.6,675.5 L-11.3,669.2 M354.3,636.5 L315.0,579.6 M426.0,657.6 L473.5,635.0 M300.9,665.5 L232.8,655.1 M310.0,637.8 L164.7,558.0 M490.8,641.1 L605.9,601.6 M316.3,665.3 L234.3,649.8 M301.4,665.5 L235.0,655.4 M331.5,655.5 L216.5,605.1 M247.3,666.9 L112.1,655.8 M460.4,677.2 L726.8,674.7 M362.5,655.3 L300.9,587.3 M516.5,667.6 L805.9,645.1 M330.8,665.8 L241.0,644.7 M444.7,655.3 L576.2,606.8 M276.8,676.0 L23.7,671.1 M490.6,649.0 L687.7,595.9 M346.5,634.8 L309.1,590.6 M312.5,655.0 L198.4,617.6 M420.8,647.4 L475.5,603.0 M321.4,637.5 L264.4,600.1 M325.0,664.3 L240.4,644.3 M383.8,642.7 L384.9,590.4 M464.4,665.6 L687.0,631.9 M461.3,674.1 L621.0,666.2 M458.3,632.6 L532.3,588.0 M280.0,658.3 L143.0,632.0 M509.7,660.0 L707.4,631.9 M487.7,655.7 L636.4,624.0 M299.0,650.0 L151.0,600.8 M364.5,637.0 L331.0,562.5 M508.1,676.2 L647.3,674.1 M447.3,667.1 L715.3,621.7 M446.9,630.6 L562.2,545.2 M249.3,667.0 L24.0,648.4 M398.4,627.8 L411.0,586.4 M405.0,630.7 L435.7,565.0 M463.8,651.3 L669.0,583.3 M323.7,670.5 L184.7,652.9 M304.5,658.9 L85.3,605.4 M460.7,676.4 L672.3,672.1 M431.9,646.6 L467.3,623.8 M311.2,645.6 L167.0,580.7 M375.6,651.9 L365.8,617.2 M263.1,645.8 L79.9,596.7 M362.6,652.3 L302.9,576.8 M369.0,639.6 L331.1,535.5 M403.7,647.5 L468.9,551.4 M363.1,625.7 L341.3,568.3 M288.5,670.3 L159.6,659.8 M450.9,641.7 L521.3,604.0 M315.5,652.3 L213.7,613.5 M392.7,653.0 L431.6,552.8 M459.0,644.1 L552.6,602.4 M423.6,643.7 L484.1,592.6 M430.0,626.9 L523.9,524.6 M437.7,637.7 L570.9,539.6 M419.7,652.2 L557.1,555.6 M342.7,634.0 L314.8,603.6 M439.0,655.8 L612.3,587.2 M377.1,655.6 L351.4,558.0 M335.2,642.5 L250.4,579.5 M384.6,651.9 L389.1,578.6 M306.2,639.8 L232.0,602.9 M366.7,638.0 L340.8,574.7 M254.9,652.2 L89.8,618.9 M478.4,673.4 L547.8,670.0 M428.0,656.5 L544.2,601.2 M498.8,672.7 L758.9,660.9 M336.1,659.1 L147.8,583.2 M517.0,658.8 L701.5,632.3 M309.9,640.3 L235.9,602.2 M341.4,645.2 L268.6,587.9 M392.4,638.1 L406.1,579.3 M327.1,646.2 L261.5,608.8 M341.4,626.4 L321.6,601.8 M410.7,645.4 L451.7,597.1 M382.2,639.0 L380.5,549.9 M297.7,641.5 L189.5,595.3 M418.5,657.0 L574.1,564.8 M491.5,651.7 L671.4,608.2 M424.0,640.8 L529.9,544.6 M461.5,648.9 L510.1,630.9 M523.8,674.4 L608.3,672.3 M346.2,643.8 L284.1,586.1 M315.3,671.9 L63.7,649.1 M302.4,665.9 L36.9,626.0 M355.0,639.7 L286.9,546.7 M285.8,673.8 L132.6,667.3 M435.2,649.1 L571.9,573.2 M403.4,650.3 L442.1,597.8 M388.8,643.2 L401.2,569.6 M374.1,623.7 L365.4,571.0 M455.6,647.1 L538.6,611.7 M444.0,649.6 L574.4,589.0 M368.9,640.3 L352.4,596.1 M438.1,667.1 L639.0,627.3 M255.7,653.0 L41.1,610.7 M323.8,659.7 L177.8,614.5 M418.3,628.0 L489.2,527.8 M436.6,653.4 L602.6,577.2 M276.1,674.8 L150.8,671.1 M379.1,647.0 L372.8,597.9 M264.6,653.2 L35.2,605.1 M395.7,634.5 L425.5,531.9 M472.6,670.8 L715.1,651.2 M476.8,637.8 L596.7,586.3 M451.2,673.6 L730.3,655.5 M279.3,664.7 L189.6,653.1 M266.8,668.9 L185.5,662.5 M456.8,635.9 L591.5,558.9 M294.7,656.1 L171.1,625.4 M356.9,641.2 L335.1,610.6 M396.6,652.0 L422.4,602.4 M526.4,673.1 L805.1,663.6 M379.4,636.5 L372.2,553.3 M281.6,667.0 L5.6,636.9 M443.8,674.6 L517.8,670.4 M414.2,632.5 L476.5,541.7 M516.1,673.4 L676.4,667.8 M444.6,657.5 L594.9,607.6 M371.8,648.6 L334.1,549.6 M374.6,630.2 L365.2,577.1 M388.8,647.7 L407.8,548.4 M320.3,638.3 L208.1,567.3 M442.3,657.5 L528.1,627.7 M322.4,631.0 L195.2,532.5 M451.8,656.8 L643.2,597.8 M452.4,650.4 L626.5,581.3 M245.5,666.6 L147.5,658.5 M470.5,670.4 L744.2,646.6 M324.6,662.7 L142.5,614.9 M369.7,644.1 L356.1,609.2 M308.0,659.3 L242.6,643.1 M392.0,638.3 L408.5,565.3 M306.6,670.2 L224.6,661.7 M383.9,650.7 L385.6,597.6 M482.8,674.2 L687.7,666.4 M526.9,667.7 L598.6,662.5 M318.2,664.2 L113.3,620.4 M466.2,655.0 L640.4,606.8 M347.0,658.8 L274.2,620.1 M415.9,647.9 L472.0,596.7 M395.5,641.1 L413.4,588.3 M505.8,654.7 L599.0,636.9 M277.3,654.1 L173.7,630.6 M340.7,658.3 L200.7,592.9 M484.7,668.1 L634.1,653.5 M409.4,636.3 L449.1,573.7 M445.0,629.1 L501.0,584.9 M285.1,644.5 L101.0,581.5 M358.3,638.7 L293.6,536.1 M473.9,659.1 L601.3,632.7 M501.6,646.1 L726.6,585.6 M490.3,650.3 L578.8,627.4 M442.3,672.0 L620.6,653.9" stroke="#9aa6b8" stroke-width="0.5" opacity="0.12" fill="none" clip-path="url(#ircL)"/>
<path d="M366.9,638.0 L325.7,535.5 M295.8,656.3 L119.7,612.6 M257.3,663.6 L40.7,638.9 M435.6,640.4 L483.3,606.4 M316.6,660.9 L255.5,645.1 M389.9,634.9 L400.7,567.6 M531.1,676.6 L791.3,674.3 M343.0,658.7 L194.7,587.3 M516.4,670.6 L583.3,667.0 M477.5,675.2 L561.5,672.8 M297.6,668.6 L20.8,638.2 M321.8,670.2 L85.0,640.0 M280.9,651.6 L200.9,630.9 M318.1,658.6 L92.1,591.1 M309.0,656.2 L102.8,595.4 M318.9,658.8 L128.5,601.8 M276.6,665.9 L158.7,652.5 M484.4,672.5 L681.7,661.9 M509.3,663.4 L628.4,649.7 M266.4,646.6 L48.0,587.9 M239.2,670.6 L118.1,664.4 M408.3,647.7 L440.1,609.6 M407.8,628.7 L446.1,552.8 M299.8,675.9 L130.4,671.5 M398.8,652.3 L432.3,597.9 M445.4,643.8 L501.2,613.2 M467.9,634.4 L510.2,612.6 M303.8,631.5 L258.6,604.9 M465.0,644.5 L632.7,576.0 M512.8,661.8 L667.5,642.4 M418.4,646.0 L494.6,577.0 M520.7,676.1 L755.1,672.7 M358.4,629.2 L342.4,597.6 M378.3,648.5 L364.8,564.2 M341.4,661.8 L247.5,625.0 M495.6,664.6 L656.4,645.5 M304.2,656.5 L100.8,601.1 M405.4,646.6 L430.6,611.3 M470.9,635.7 L550.8,597.3 M308.3,655.5 L144.5,606.2 M482.4,675.3 L566.9,673.0 M449.6,645.5 L533.1,604.6 M374.4,655.4 L338.3,560.8 M421.7,644.2 L504.6,571.9 M424.8,654.0 L520.6,599.1 M429.5,656.0 L509.8,618.2 M427.1,634.0 L482.1,579.2 M503.6,667.7 L598.4,659.6 M341.9,640.2 L241.3,547.7 M418.2,652.4 L523.8,575.4 M274.5,645.5 L47.0,577.4 M308.6,633.9 L168.9,550.9 M402.9,631.2 L430.8,565.6 M443.0,661.5 L558.9,629.6 M389.4,632.2 L402.7,535.9 M449.0,673.7 L565.5,666.0 M427.3,642.3 L536.5,554.5 M505.7,653.3 L606.9,632.9 M400.4,650.1 L443.2,581.4 M487.7,673.6 L646.1,667.0 M419.5,658.0 L526.4,599.3 M316.3,649.6 L252.8,622.7 M376.6,645.6 L368.5,604.5 M429.9,663.3 L515.3,636.5 M333.2,639.8 L293.4,609.2 M329.1,657.6 L196.7,607.6 M389.7,650.8 L400.1,608.7 M484.1,658.5 L718.4,613.4 M466.1,667.8 L598.8,651.5 M449.6,668.5 L563.9,652.3 M466.2,659.6 L679.8,612.3 M305.9,675.9 L82.4,669.9 M385.2,631.0 L388.5,563.3 M324.0,670.1 L141.5,645.6 M318.6,662.0 L102.4,608.3 M242.0,666.9 L72.2,653.5 M387.6,641.8 L397.4,565.9 M299.5,657.7 L101.2,609.5 M385.4,655.5 L396.0,554.7 M420.3,645.5 L500.6,575.6 M287.1,639.9 L124.4,575.4 M513.0,661.0 L727.0,633.1 M424.9,659.3 L518.0,617.6 M431.0,639.3 L481.5,598.7 M435.5,642.1 L525.9,580.3 M457.5,639.8 L628.6,552.0 M317.7,652.4 L263.4,631.0 M285.1,640.9 L149.7,589.6 M499.2,676.6 L752.3,673.5 M242.5,669.7 L139.6,663.7 M404.9,655.5 L501.2,556.4 M348.6,649.3 L260.2,575.5 M347.1,659.9 L273.8,623.0 M336.3,629.4 L256.1,545.9 M247.1,665.4 L86.0,650.4 M393.4,625.2 L410.3,539.0 M405.0,653.5 L471.7,579.5 M389.1,652.0 L403.9,589.6 M407.5,643.3 L469.6,555.1 M436.6,655.7 L498.9,629.8 M347.6,650.0 L252.4,574.6 M437.1,658.0 L525.3,625.5 M318.8,674.6 L190.4,667.9 M391.5,653.8 L402.8,621.7 M343.8,643.1 L299.4,603.5 M315.1,671.6 L69.6,648.6 M363.8,648.3 L304.8,557.1 M327.1,643.7 L203.9,567.9 M252.5,662.0 L171.3,652.1 M429.8,651.3 L563.5,575.0 M299.7,669.4 L74.4,646.2 M329.9,636.5 L265.1,585.7 M520.9,663.8 L788.0,636.4 M332.0,648.3 L180.6,560.2 M345.8,646.9 L281.6,593.3 M468.8,654.0 L675.6,596.0 M461.2,666.2 L528.4,656.0 M499.6,672.7 L749.8,661.4 M318.9,671.2 L91.4,647.1 M270.5,657.1 L77.0,621.2 M391.5,630.9 L402.1,572.5 M380.9,638.3 L376.3,552.0 M483.8,654.7 L707.4,603.1 M498.2,671.6 L683.8,661.3 M365.3,652.0 L307.2,566.7 M305.7,656.1 L198.8,625.9 M274.0,662.1 L45.4,628.9 M419.3,627.8 L438.8,600.6 M292.7,646.9 L143.2,595.5 M275.0,653.3 L156.8,626.2 M289.2,640.3 L101.4,564.7 M378.7,648.7 L374.5,619.6 M392.0,639.1 L403.2,591.0 M281.6,676.1 L129.0,673.2 M318.8,664.8 L195.2,639.4 M444.0,628.1 L497.2,584.7 M250.4,676.9 L-11.2,674.8 M425.4,658.3 L536.1,606.8 M460.4,663.8 L683.2,622.8 M449.2,662.7 L612.3,625.1 M334.8,651.1 L287.9,624.9 M332.1,637.5 L293.3,606.7 M483.5,655.4 L543.6,641.8 M402.8,641.6 L416.7,616.2 M413.1,648.4 L467.3,595.2 M344.0,636.4 L302.4,592.2 M490.6,670.4 L720.1,654.2 M322.1,667.0 L121.7,630.7 M480.2,657.2 L556.5,640.9 M364.2,654.6 L284.6,555.7 M480.7,644.8 L595.8,605.8 M346.0,635.0 L257.1,531.7 M294.4,675.5 L148.7,671.5 M386.8,630.0 L394.2,534.9 M485.8,665.4 L626.7,648.2 M488.2,675.7 L719.5,670.7 M412.6,651.7 L446.0,622.1 M311.0,632.6 L234.9,584.5 M256.3,656.0 L82.3,625.7 M524.2,661.9 L768.0,634.0 M297.9,637.1 L223.0,601.1 M392.8,653.8 L403.9,626.3 M424.0,649.7 L528.7,577.3 M432.3,664.8 L524.0,640.2 M399.0,650.9 L439.1,583.3 M409.8,657.0 L504.1,582.8 M374.0,642.6 L354.4,564.9 M376.5,623.2 L365.0,527.1 M411.5,627.2 L449.8,559.0 M349.0,657.8 L225.3,584.2 M444.0,655.3 L587.6,601.8 M383.8,642.9 L384.4,613.5 M329.4,649.1 L260.6,612.0 M450.3,634.0 L531.1,581.0 M411.8,627.3 L430.4,594.6 M441.6,674.3 L563.3,666.6 M507.4,661.5 L656.8,641.8 M244.5,672.1 L107.2,666.3 M376.4,649.3 L364.9,599.4 M461.9,661.2 L614.5,628.8 M290.5,652.2 L201.5,627.4 M439.3,653.3 L616.2,575.7 M464.8,634.6 L561.8,583.0 M429.8,655.4 L496.1,623.3 M337.3,637.5 L233.0,545.1 M498.3,667.3 L625.4,655.6 M363.4,639.2 L328.5,570.3 M291.5,643.3 L230.3,620.1 M314.4,647.0 L244.5,615.4 M368.0,631.6 L349.5,574.3 M403.2,635.4 L429.2,580.6 M385.4,628.1 L389.3,545.0 M439.6,660.3 L597.7,610.8 M484.0,647.7 L578.5,619.4 M382.8,654.8 L382.1,579.1 M321.9,663.3 L261.9,648.8 M295.3,642.2 L238.8,619.1 M446.4,659.6 L526.0,636.5 M422.1,641.4 L469.2,597.2 M313.0,662.1 L224.2,641.9 M289.1,670.7 L141.2,659.2 M378.9,630.9 L369.3,522.1 M302.9,673.8 L33.8,659.9 M367.6,654.1 L350.1,627.0 M322.0,657.7 L177.5,609.7 M346.3,647.8 L226.3,548.9 M412.0,656.6 L477.6,608.2 M476.8,664.5 L623.8,643.4 M313.1,656.8 L228.3,631.0 M304.6,654.4 L197.4,622.0 M453.1,665.7 L593.4,640.9 M343.6,660.7 L273.2,629.8 M434.7,653.8 L527.9,610.1 M474.0,646.9 L676.6,577.6 M250.2,664.1 L113.4,649.7 M356.9,649.7 L332.1,622.8 M329.5,648.0 L223.6,588.5 M459.5,644.4 L524.8,615.7 M355.8,644.7 L278.6,550.4 M334.3,663.2 L277.8,646.0 M468.6,675.0 L689.0,667.4 M454.5,631.5 L586.5,545.6 M362.0,643.9 L343.9,614.6 M336.5,656.9 L235.5,611.0 M334.1,660.7 L228.5,623.3 M446.6,645.4 L580.3,576.9 M289.7,670.5 L211.5,664.3 M340.7,652.0 L303.1,628.9 M302.8,645.5 L228.6,615.3 M337.2,640.7 L219.7,545.0 M356.7,643.6 L320.9,597.0 M443.0,671.2 L537.3,660.4 M455.5,675.6 L566.7,671.9 M275.2,677.2 L117.3,676.0 M400.1,635.9 L429.4,564.0 M319.6,632.5 L255.6,586.6 M514.7,671.6 L618.0,666.7 M349.5,649.1 L255.1,567.6 M344.1,654.2 L248.2,595.4 M267.6,663.1 L179.4,651.7 M264.6,652.8 L33.2,603.4 M458.1,656.9 L642.7,604.9 M320.3,637.1 L191.5,553.0 M451.9,643.9 L606.7,567.4 M423.2,652.4 L478.3,617.2 M453.9,675.1 L677.8,666.0 M526.8,665.8 L603.5,659.4 M306.2,641.7 L123.9,555.5 M396.5,640.4 L416.7,584.1 M324.3,650.7 L194.0,590.0 M444.3,645.0 L586.7,568.4 M462.8,671.3 L637.8,656.5 M397.7,651.8 L440.6,575.3 M349.6,650.1 L317.5,623.2 M309.9,670.8 L137.5,653.7 M378.3,642.4 L365.9,548.9 M436.8,640.4 L498.2,597.5 M359.5,629.3 L318.5,544.0 M321.8,668.8 L183.0,647.9 M305.0,676.6 L17.7,671.2 M481.5,649.5 L606.9,613.3 M451.3,676.5 L736.3,670.0 M441.8,671.3 L632.8,649.6 M444.7,634.9 L515.5,585.5 M466.8,668.0 L551.6,657.8 M457.1,648.9 L610.4,588.6 M339.2,645.6 L307.9,622.6 M399.6,624.9 L412.8,582.8 M244.8,659.1 L88.9,637.7 M427.9,655.6 L505.7,617.0 M307.1,659.3 L61.8,598.8 M416.9,651.8 L507.2,582.1 M384.7,637.3 L386.1,602.6 M430.6,646.8 L507.2,596.6 M385.9,655.0 L395.9,576.7 M454.0,671.8 L624.5,657.1 M482.0,637.5 L589.2,593.6 M380.8,648.3 L373.6,551.9 M466.8,654.6 L702.8,588.7 M291.2,643.2 L171.1,597.8 M309.2,644.5 L255.8,620.3 M289.1,644.4 L99.5,576.4 M441.1,661.7 L561.8,627.8 M504.1,657.0 L589.7,642.2 M432.7,629.6 L462.6,600.6 M497.4,660.0 L601.2,643.7 M341.2,649.5 L239.8,580.6 M323.7,663.7 L133.9,617.7 M494.5,669.6 L641.0,658.6 M444.3,652.8 L537.2,614.7 M352.3,630.3 L314.9,572.1 M326.9,637.8 L271.1,597.9 M299.5,638.4 L162.4,573.4 M460.5,647.6 L577.4,601.6 M356.6,625.4 L332.0,576.3 M363.7,652.6 L289.6,555.3 M496.4,650.8 L666.8,609.9 M295.1,668.2 L148.1,651.8 M519.0,660.5 L587.8,651.6 M373.5,645.8 L349.3,564.2 M477.5,676.6 L735.0,672.7 M284.9,669.7 L129.3,656.6 M310.5,656.8 L231.8,633.8 M282.2,655.8 L101.2,616.0 M467.5,642.1 L529.9,615.6 M519.7,668.3 L591.5,663.2 M261.7,660.9 L133.9,643.0 M321.6,667.8 L152.7,639.9 M366.0,655.1 L335.0,613.1 M443.9,666.2 L676.7,621.2 M350.3,637.6 L274.2,543.3 M266.6,654.7 L58.9,613.2 M314.2,675.3 L178.4,669.9 M287.8,672.3 L203.4,667.2 M330.8,645.1 L220.4,575.7 M383.4,626.2 L383.9,567.6 M344.0,644.8 L273.4,584.8 M251.1,669.5 L170.6,664.4 M331.2,661.5 L215.2,624.7 M454.9,650.8 L503.6,632.4 M424.5,626.5 L467.8,572.8 M420.2,638.9 L466.8,590.1 M316.4,673.5 L193.2,665.0 M468.7,662.6 L588.4,641.0 M459.0,661.1 L579.3,634.3 M257.9,668.9 L180.9,663.3 M408.6,657.3 L526.4,562.5 M447.9,651.5 L597.9,590.1 M458.7,654.6 L642.7,597.5 M301.5,665.8 L82.6,633.0 M436.4,643.1 L482.6,613.0 M409.3,626.5 L430.9,584.3 M256.6,658.2 L94.6,632.8 M456.3,632.9 L549.5,575.5 M264.8,662.3 L165.3,649.1 M304.7,661.1 L129.0,623.3 M462.8,661.6 L638.9,625.3 M429.2,653.7 L502.5,615.1 M253.2,667.4 L102.7,655.1 M409.9,624.7 L460.7,524.2 M431.5,660.1 L529.1,624.0 M405.8,638.7 L436.0,586.6 M438.4,663.3 L639.6,610.0 M406.5,653.5 L487.8,568.7 M433.9,649.7 L592.5,561.6 M436.8,654.6 L517.6,619.4 M333.9,653.7 L275.3,624.8 M316.2,648.1 L145.4,571.6 M419.0,640.3 L497.6,558.0 M445.3,657.9 L505.6,638.5 M309.5,653.0 L197.2,614.8 M401.4,645.2 L426.0,601.4 M413.9,656.5 L542.6,566.7 M469.8,676.3 L737.1,671.2 M273.4,673.5 L-17.9,661.7 M387.4,653.5 L399.8,583.9 M382.8,649.5 L382.0,564.6 M378.6,637.6 L366.8,530.1 M323.4,638.6 L185.1,547.2 M511.1,654.7 L575.8,642.9 M422.1,638.3 L518.8,540.3 M314.1,675.0 L49.0,663.5 M486.2,654.8 L645.8,618.8 M317.6,677.5 L67.8,675.7 M338.8,648.8 L304.2,625.9 M390.2,645.0 L408.3,562.9 M321.5,663.6 L215.2,638.8 M297.5,648.0 L205.1,615.7 M316.5,661.5 L203.0,633.3 M467.4,653.3 L534.5,633.7 M344.2,625.3 L304.1,570.7 M358.5,653.1 L273.0,566.6 M351.9,648.7 L277.4,578.5 M279.3,675.7 L124.8,672.2 M273.9,646.9 L45.8,581.8 M272.6,657.9 L17.4,611.3 M498.2,660.8 L762.9,621.4 M290.3,637.7 L235.9,614.0 M340.3,654.9 L286.3,625.6 M460.4,651.0 L667.6,578.6 M312.0,638.9 L156.0,553.0 M401.1,647.0 L453.7,556.7 M471.7,660.2 L569.6,640.6 M452.3,653.9 L510.1,633.7 M335.3,663.9 L243.2,636.6 M374.8,650.1 L367.1,624.0 M416.3,646.1 L479.8,585.3 M486.3,662.8 L638.0,640.5 M459.9,669.6 L730.8,640.2 M387.0,623.5 L390.7,574.0 M401.9,651.7 L475.1,549.7 M333.0,642.0 L250.0,582.2 M279.4,677.1 L150.2,676.1 M283.8,666.8 L113.5,647.5 M371.2,653.6 L326.7,562.1 M286.4,640.5 L160.0,591.5 M379.8,640.1 L375.6,590.4 M319.4,660.9 L109.9,604.6 M454.0,637.5 L579.5,565.7 M454.7,660.1 L557.1,634.5" stroke="#ffffff" stroke-width="0.6" opacity="0.22" fill="none" clip-path="url(#ircL)"/>
<path d="M190.0,690.0 C192.4,686.5 199.1,675.5 204.4,669.1 C209.7,662.7 215.6,656.7 221.8,651.4 C228.0,646.0 234.8,641.2 241.9,636.8 C248.9,632.4 256.4,628.5 263.9,625.0 C271.5,621.4 279.4,618.3 287.3,615.5 C295.2,612.7 303.3,610.3 311.5,608.3 C319.6,606.2 327.9,604.6 336.2,603.3 C344.5,602.0 352.8,601.1 361.1,600.6 C369.4,600.1 377.7,600.3 386.0,600.3 C394.3,600.3 402.6,600.1 410.8,600.6 C419.1,601.1 427.3,602.0 435.5,603.3 C443.6,604.6 451.7,606.2 459.7,608.3 C467.6,610.3 475.5,612.7 483.2,615.5 C490.8,618.3 498.4,621.4 505.6,625.0 C512.8,628.5 519.9,632.4 526.5,636.8 C533.0,641.2 539.4,646.0 545.1,651.4 C550.8,656.7 555.7,662.7 560.6,669.1 C565.6,675.5 572.6,686.5 575.0,690.0 L575.0,689.0 C572.8,688.9 568.2,689.8 561.7,688.4 C555.2,687.0 545.8,683.1 535.7,680.7 C525.6,678.3 514.0,676.2 501.0,673.8 C488.0,671.3 467.1,667.0 457.9,666.0 C448.7,665.0 449.6,666.3 446.0,668.0 C442.4,669.7 437.7,674.7 436.0,676.0 L436.0,677.0 C435.7,676.1 435.4,673.2 434.2,671.4 C433.0,669.6 431.2,667.9 428.9,666.2 C426.6,664.6 423.7,663.1 420.5,661.8 C417.2,660.5 413.5,659.3 409.5,658.4 C405.5,657.5 401.1,656.7 396.7,656.2 C392.3,655.8 387.6,655.5 383.0,655.5 C378.4,655.5 373.7,655.8 369.3,656.2 C364.9,656.7 360.5,657.5 356.5,658.4 C352.5,659.3 348.8,660.5 345.5,661.8 C342.3,663.1 339.4,664.6 337.1,666.2 C334.8,667.9 333.0,669.6 331.8,671.4 C330.6,673.2 330.3,676.1 330.0,677.0 L329.5,678.0 C327.6,676.6 322.9,671.1 318.0,669.5 C313.1,667.9 307.9,667.5 300.0,668.5 C292.1,669.5 280.0,673.6 270.8,675.5 C261.6,677.4 254.6,678.5 244.9,679.9 C235.2,681.3 221.1,682.1 212.4,683.8 C203.8,685.5 196.2,689.0 193.0,690.0 Z" fill="url(#ir2L)"/>
<path d="M436.0,677.0 C435.7,676.1 435.4,673.2 434.2,671.4 C433.0,669.6 431.2,667.9 428.9,666.2 C426.6,664.6 423.7,663.1 420.5,661.8 C417.2,660.5 413.5,659.3 409.5,658.4 C405.5,657.5 401.1,656.7 396.7,656.2 C392.3,655.8 387.6,655.5 383.0,655.5 C378.4,655.5 373.7,655.8 369.3,656.2 C364.9,656.7 360.5,657.5 356.5,658.4 C352.5,659.3 348.8,660.5 345.5,661.8 C342.3,663.1 339.4,664.6 337.1,666.2 C334.8,667.9 333.0,669.6 331.8,671.4 C330.6,673.2 330.3,676.1 330.0,677.0" fill="none" stroke="#dccfae" stroke-width="30" opacity="0.75" filter="url(#blur4L)" clip-path="url(#ircL)"/>
<path d="M333,670 C338,664 348,660 360,657.5" fill="none" stroke="#f6f6f4" stroke-width="3" opacity="0.7"/>
<path d="M434.2,671.4 C433.3,670.6 431.2,667.9 428.9,666.2 C426.6,664.6 423.7,663.1 420.5,661.8 C417.2,660.5 413.5,659.3 409.5,658.4 C405.5,657.5 401.1,656.7 396.7,656.2 C392.3,655.8 387.6,655.5 383.0,655.5 C378.4,655.5 373.7,655.8 369.3,656.2 C364.9,656.7 360.5,657.5 356.5,658.4 C352.5,659.3 348.8,660.5 345.5,661.8 C342.3,663.1 339.4,664.6 337.1,666.2 C334.8,667.9 332.7,670.6 331.8,671.4" fill="none" stroke="#7d5f52" stroke-width="1.6" opacity="0.8"/>
<polygon points="147.0,679.6 165.0,672.5 180.0,661.5 186.0,656.0 183.0,662.0 181.3,670.8 187.8,676.0 193.0,673.4 186.5,692.9 212.4,683.8 244.9,679.9 270.8,675.5 300.0,668.5 318.0,669.5 329.5,678.0 322.0,682.5 264.3,683.0 227.3,689.0 217.0,693.0 222.0,697.0 231.4,705.0 227.3,713.3 208.8,721.5 192.4,731.8 165.7,742.0 147.0,748.0" fill="#f3e3c3" stroke="#c4ae7e" stroke-width="1"/>
<polygon points="627.0,679.6 609.0,672.5 594.0,661.5 588.0,656.0 586.5,661.0 587.5,670.5 581.0,677.0 572.0,673.9 578.5,692.9 561.7,688.4 535.7,680.7 501.0,673.8 457.9,666.0 446.0,668.0 436.0,676.0 444.0,681.5 483.8,683.0 544.0,691.0 557.8,693.8 554.2,697.0 544.7,699.7 547.0,704.5 553.0,715.2 573.2,723.5 597.0,730.6 627.0,741.3" fill="#f3e3c3" stroke="#c4ae7e" stroke-width="1"/>
<polygon points="147.0,679.6 165.0,672.5 180.0,661.5 186.0,656.0 183.0,662.0 181.3,670.8 187.8,676.0 186.5,692.9 200.0,690.0 147.0,737.0" fill="#e8d8b6"/>
<polygon points="627.0,679.6 609.0,672.5 594.0,661.5 588.0,656.0 586.5,661.0 587.5,670.5 581.0,677.0 578.5,692.9 568.0,692.0 627.0,737.0" fill="#e8d8b6"/>
<path d="M147,698 L192,670 M147,704 L188,677 M147,710 L184,684 M147,716 L180,691 M147,722 L176,698 M147,728 L172,705 M147,734 L168,712 M147,740 L164,719 M147,746 L160,726" stroke="#cdb891" stroke-width="0.8" opacity="0.6" fill="none"/>
<path d="M147,698 L192,670 M147,704 L188,677 M147,710 L184,684 M147,716 L180,691 M147,722 L176,698 M147,728 L172,705 M147,734 L168,712 M147,740 L164,719 M147,746 L160,726" stroke="#cdb891" stroke-width="0.8" opacity="0.6" fill="none" transform="translate(772 0) scale(-1 1)"/>
<path d="M147,748 L165.7,742 L192.4,731.8 L208.8,721.5 L227.3,713.3 L231.4,705" fill="none" stroke="#d9c27a" stroke-width="1.6"/>
<path d="M627,741.3 L597,730.6 L573.2,723.5 L553,715.2 L547,704.5 L544.7,699.7" fill="none" stroke="#d9c27a" stroke-width="1.6"/>
<g fill="#dc6e66" opacity="0.85"><ellipse cx="193.2" cy="719.6" rx="1.8" ry="1.2" transform="rotate(-41 193.2 719.6)"/><ellipse cx="221.1" cy="697.0" rx="2.2" ry="1.7" transform="rotate(-23 221.1 697.0)"/><ellipse cx="192.8" cy="726.0" rx="2.2" ry="1.7" transform="rotate(-29 192.8 726.0)"/><ellipse cx="204.6" cy="704.9" rx="2.4" ry="1.6" transform="rotate(-35 204.6 704.9)"/><ellipse cx="178.1" cy="719.9" rx="1.8" ry="1.1" transform="rotate(-44 178.1 719.9)"/><ellipse cx="227.1" cy="705.4" rx="2.5" ry="1.4" transform="rotate(-26 227.1 705.4)"/><ellipse cx="193.3" cy="703.4" rx="2.4" ry="1.2" transform="rotate(-47 193.3 703.4)"/><ellipse cx="151.1" cy="745.2" rx="2.9" ry="1.3" transform="rotate(-42 151.1 745.2)"/><ellipse cx="185.7" cy="710.1" rx="1.9" ry="1.6" transform="rotate(-49 185.7 710.1)"/><ellipse cx="214.0" cy="690.6" rx="2.7" ry="1.2" transform="rotate(-24 214.0 690.6)"/><ellipse cx="188.5" cy="729.2" rx="2.8" ry="1.3" transform="rotate(-37 188.5 729.2)"/><ellipse cx="200.3" cy="715.0" rx="2.5" ry="1.2" transform="rotate(-41 200.3 715.0)"/><ellipse cx="177.7" cy="732.7" rx="3.3" ry="1.5" transform="rotate(-30 177.7 732.7)"/><ellipse cx="211.6" cy="706.5" rx="3.2" ry="1.3" transform="rotate(-35 211.6 706.5)"/><ellipse cx="202.2" cy="720.0" rx="1.8" ry="1.4" transform="rotate(-42 202.2 720.0)"/><ellipse cx="204.1" cy="712.7" rx="3.4" ry="1.5" transform="rotate(-26 204.1 712.7)"/><ellipse cx="176.6" cy="723.9" rx="3.3" ry="1.6" transform="rotate(-39 176.6 723.9)"/><ellipse cx="187.6" cy="726.9" rx="3.2" ry="1.5" transform="rotate(-44 187.6 726.9)"/><ellipse cx="203.6" cy="710.1" rx="3.0" ry="1.6" transform="rotate(-30 203.6 710.1)"/><ellipse cx="202.3" cy="697.6" rx="3.2" ry="1.5" transform="rotate(-48 202.3 697.6)"/><ellipse cx="199.0" cy="720.6" rx="2.3" ry="1.6" transform="rotate(-49 199.0 720.6)"/><ellipse cx="217.7" cy="707.2" rx="1.9" ry="1.5" transform="rotate(-47 217.7 707.2)"/><ellipse cx="193.3" cy="705.0" rx="3.0" ry="1.7" transform="rotate(-25 193.3 705.0)"/><ellipse cx="182.6" cy="734.4" rx="3.1" ry="1.3" transform="rotate(-45 182.6 734.4)"/><ellipse cx="197.7" cy="719.0" rx="3.7" ry="1.7" transform="rotate(-31 197.7 719.0)"/><ellipse cx="195.1" cy="722.1" rx="2.1" ry="1.5" transform="rotate(-23 195.1 722.1)"/><ellipse cx="229.7" cy="707.5" rx="3.7" ry="1.6" transform="rotate(-32 229.7 707.5)"/><ellipse cx="189.2" cy="709.8" rx="2.4" ry="1.7" transform="rotate(-35 189.2 709.8)"/><ellipse cx="213.5" cy="699.2" rx="2.3" ry="1.2" transform="rotate(-20 213.5 699.2)"/><ellipse cx="187.3" cy="724.0" rx="3.0" ry="1.5" transform="rotate(-46 187.3 724.0)"/><ellipse cx="211.6" cy="702.6" rx="2.9" ry="1.3" transform="rotate(-41 211.6 702.6)"/><ellipse cx="192.0" cy="712.8" rx="2.5" ry="1.5" transform="rotate(-32 192.0 712.8)"/><ellipse cx="183.4" cy="719.7" rx="3.2" ry="1.5" transform="rotate(-35 183.4 719.7)"/><ellipse cx="224.5" cy="707.9" rx="2.6" ry="1.6" transform="rotate(-44 224.5 707.9)"/><ellipse cx="581.6" cy="718.0" rx="2.8" ry="1.3" transform="rotate(45 581.6 718.0)"/><ellipse cx="591.0" cy="734.3" rx="1.9" ry="1.2" transform="rotate(25 591.0 734.3)"/><ellipse cx="549.4" cy="707.5" rx="1.9" ry="1.1" transform="rotate(32 549.4 707.5)"/><ellipse cx="604.6" cy="738.5" rx="2.1" ry="1.4" transform="rotate(40 604.6 738.5)"/><ellipse cx="588.3" cy="722.5" rx="2.3" ry="1.4" transform="rotate(42 588.3 722.5)"/><ellipse cx="551.6" cy="698.5" rx="2.5" ry="1.5" transform="rotate(44 551.6 698.5)"/><ellipse cx="547.9" cy="691.7" rx="3.0" ry="1.2" transform="rotate(23 547.9 691.7)"/><ellipse cx="597.9" cy="734.9" rx="2.1" ry="1.5" transform="rotate(39 597.9 734.9)"/><ellipse cx="560.4" cy="704.7" rx="3.0" ry="1.3" transform="rotate(38 560.4 704.7)"/><ellipse cx="596.4" cy="733.9" rx="2.7" ry="1.6" transform="rotate(34 596.4 733.9)"/><ellipse cx="591.6" cy="719.5" rx="3.3" ry="1.3" transform="rotate(47 591.6 719.5)"/><ellipse cx="581.8" cy="731.1" rx="1.8" ry="1.4" transform="rotate(23 581.8 731.1)"/><ellipse cx="553.5" cy="693.9" rx="2.5" ry="1.3" transform="rotate(23 553.5 693.9)"/><ellipse cx="553.2" cy="699.8" rx="2.4" ry="1.2" transform="rotate(41 553.2 699.8)"/><ellipse cx="560.5" cy="713.9" rx="1.9" ry="1.7" transform="rotate(38 560.5 713.9)"/><ellipse cx="598.7" cy="729.2" rx="2.1" ry="1.2" transform="rotate(49 598.7 729.2)"/><ellipse cx="560.1" cy="688.8" rx="2.6" ry="1.7" transform="rotate(39 560.1 688.8)"/><ellipse cx="567.1" cy="713.0" rx="2.4" ry="1.5" transform="rotate(28 567.1 713.0)"/><ellipse cx="554.2" cy="698.9" rx="3.1" ry="1.7" transform="rotate(30 554.2 698.9)"/><ellipse cx="544.4" cy="708.6" rx="1.9" ry="1.3" transform="rotate(37 544.4 708.6)"/><ellipse cx="555.6" cy="715.5" rx="2.6" ry="1.4" transform="rotate(47 555.6 715.5)"/><ellipse cx="586.9" cy="714.2" rx="2.9" ry="1.3" transform="rotate(31 586.9 714.2)"/><ellipse cx="603.1" cy="740.6" rx="2.4" ry="1.4" transform="rotate(25 603.1 740.6)"/><ellipse cx="559.5" cy="691.2" rx="2.4" ry="1.2" transform="rotate(26 559.5 691.2)"/><ellipse cx="551.3" cy="689.1" rx="2.3" ry="1.2" transform="rotate(37 551.3 689.1)"/><ellipse cx="564.9" cy="707.2" rx="2.0" ry="1.4" transform="rotate(40 564.9 707.2)"/><ellipse cx="603.3" cy="727.5" rx="2.3" ry="1.6" transform="rotate(38 603.3 727.5)"/><ellipse cx="554.7" cy="700.3" rx="3.2" ry="1.3" transform="rotate(48 554.7 700.3)"/><ellipse cx="551.3" cy="706.1" rx="3.5" ry="1.7" transform="rotate(31 551.3 706.1)"/><ellipse cx="560.1" cy="710.6" rx="2.5" ry="1.3" transform="rotate(49 560.1 710.6)"/><ellipse cx="590.8" cy="735.3" rx="3.3" ry="1.2" transform="rotate(34 590.8 735.3)"/><ellipse cx="580.1" cy="710.9" rx="2.7" ry="1.6" transform="rotate(21 580.1 710.9)"/><ellipse cx="574.2" cy="697.4" rx="2.4" ry="1.2" transform="rotate(33 574.2 697.4)"/><ellipse cx="561.0" cy="705.8" rx="2.3" ry="1.7" transform="rotate(24 561.0 705.8)"/><ellipse cx="222.0" cy="688.0" rx="3.0" ry="1.6"/><ellipse cx="236.0" cy="684.5" rx="3.5" ry="1.6"/><ellipse cx="252.0" cy="681.5" rx="4.0" ry="1.6"/><ellipse cx="270.0" cy="679.0" rx="5.0" ry="1.6"/><ellipse cx="287.0" cy="676.5" rx="6.0" ry="1.6"/><ellipse cx="303.0" cy="674.0" rx="5.5" ry="1.6"/><ellipse cx="316.0" cy="675.5" rx="4.0" ry="1.6"/><ellipse cx="447.0" cy="673.0" rx="4.0" ry="1.6"/><ellipse cx="462.0" cy="671.0" rx="4.5" ry="1.6"/><ellipse cx="480.0" cy="673.5" rx="5.0" ry="1.6"/><ellipse cx="500.0" cy="676.0" rx="4.5" ry="1.6"/><ellipse cx="518.0" cy="679.5" rx="4.0" ry="1.6"/><ellipse cx="536.0" cy="684.0" rx="3.5" ry="1.6"/><ellipse cx="552.0" cy="688.5" rx="3.0" ry="1.6"/></g>
<ellipse cx="177" cy="691" rx="4.8" ry="3.6" fill="#4a5159" stroke="#dedede" stroke-width="1.3"/>
<ellipse cx="591" cy="692.6" rx="4.8" ry="3.6" fill="#4a5159" stroke="#dedede" stroke-width="1.3"/>
<path d="M199.0,637.5 C200.7,635.2 205.8,628.3 209.3,623.9 C212.8,619.4 216.4,614.9 220.2,610.7 C224.0,606.4 228.0,602.2 232.1,598.3 C236.1,594.3 240.4,590.4 244.7,586.8 C249.1,583.1 253.6,579.6 258.2,576.2 C262.8,572.9 267.5,569.7 272.3,566.8 C277.1,563.8 282.1,561.0 287.1,558.4 C292.2,555.8 297.3,553.4 302.5,551.2 C307.7,549.0 313.1,547.0 318.4,545.2 C323.8,543.5 329.3,541.9 334.8,540.6 C340.4,539.3 346.0,538.2 351.7,537.4 C357.3,536.6 363.1,536.0 368.8,535.6 C374.5,535.2 380.3,535.0 386.0,535.0 C391.7,535.0 397.5,535.2 403.2,535.6 C408.9,536.0 414.7,536.6 420.3,537.4 C426.0,538.2 431.6,539.3 437.2,540.6 C442.7,541.9 448.2,543.5 453.6,545.2 C458.9,547.0 464.3,549.0 469.5,551.2 C474.7,553.4 479.8,555.8 484.9,558.4 C489.9,561.0 494.9,563.8 499.7,566.8 C504.5,569.7 509.2,572.9 513.8,576.2 C518.4,579.6 522.9,583.1 527.3,586.8 C531.6,590.4 535.9,594.3 539.9,598.3 C544.0,602.2 548.0,606.4 551.8,610.7 C555.6,614.9 559.2,619.4 562.7,623.9 C566.2,628.3 571.3,635.2 573.0,637.5 L580.0,650.5 C579.3,649.6 577.8,647.4 575.7,645.2 C573.5,642.9 569.9,639.7 567.1,636.9 C564.2,634.1 561.4,631.2 558.6,628.4 C555.8,625.6 553.0,622.8 550.2,620.0 C547.3,617.2 544.5,614.4 541.6,611.6 C538.7,608.9 535.8,606.2 532.8,603.6 C529.8,601.0 526.7,598.5 523.6,596.1 C520.5,593.7 517.3,591.3 514.0,589.1 C510.7,586.9 507.3,584.8 503.8,582.9 C500.3,581.0 496.6,579.3 492.9,577.6 C489.2,575.9 483.6,573.6 481.8,572.8 L481.8,572.8 C480.5,570.7 477.3,563.7 473.8,560.4 C470.4,557.1 465.6,555.0 461.1,553.0 C456.5,551.0 451.5,549.6 446.5,548.2 C441.6,546.9 436.4,545.8 431.4,544.9 C426.3,544.0 421.1,543.4 416.0,542.8 C410.9,542.2 405.8,541.8 400.8,541.4 C395.8,541.1 390.9,540.6 386.0,540.6 C381.1,540.6 376.2,541.1 371.2,541.4 C366.2,541.8 361.1,542.2 356.0,542.8 C350.9,543.4 345.7,544.0 340.6,544.9 C335.6,545.8 330.4,546.9 325.5,548.2 C320.5,549.6 315.5,551.0 310.9,553.0 C306.4,555.0 301.6,557.1 298.2,560.4 C294.7,563.7 291.5,570.7 290.2,572.8 L290.2,572.8 C288.4,573.6 282.8,575.9 279.1,577.6 C275.4,579.3 271.7,581.0 268.2,582.9 C264.7,584.8 261.3,586.9 258.0,589.1 C254.7,591.3 251.5,593.7 248.4,596.1 C245.3,598.5 242.2,601.0 239.2,603.6 C236.2,606.2 233.3,608.9 230.4,611.6 C227.5,614.4 224.7,617.2 221.8,620.0 C219.0,622.8 216.2,625.6 213.4,628.4 C210.6,631.2 207.8,634.1 204.9,636.9 C202.1,639.7 198.5,642.9 196.3,645.2 C194.2,647.4 192.7,649.6 192.0,650.5 Z" fill="url(#epL)"/>
<path d="M290.2,572.8 C291.5,570.7 294.7,563.7 298.2,560.4 C301.6,557.1 306.4,555.0 310.9,553.0 C315.5,551.0 320.5,549.6 325.5,548.2 C330.4,546.9 335.6,545.8 340.6,544.9 C345.7,544.0 350.9,543.4 356.0,542.8 C361.1,542.2 366.2,541.8 371.2,541.4 C376.2,541.1 381.1,540.6 386.0,540.6 C390.9,540.6 395.8,541.1 400.8,541.4 C405.8,541.8 410.9,542.2 416.0,542.8 C421.1,543.4 426.3,544.0 431.4,544.9 C436.4,545.8 441.6,546.9 446.5,548.2 C451.5,549.6 456.5,551.0 461.1,553.0 C465.6,555.0 470.4,557.1 473.8,560.4 C477.3,563.7 480.5,570.7 481.8,572.8 L481.8,572.8 C483.6,573.6 489.2,575.9 492.9,577.6 C496.6,579.3 500.3,581.0 503.8,582.9 C507.3,584.8 510.7,586.9 514.0,589.1 C517.3,591.3 520.5,593.7 523.6,596.1 C526.7,598.5 529.8,601.0 532.8,603.6 C535.8,606.2 538.7,608.9 541.6,611.6 C544.5,614.4 547.3,617.2 550.2,620.0 C553.0,622.8 555.8,625.6 558.6,628.4 C561.4,631.2 564.2,634.1 567.1,636.9 C569.9,639.7 573.5,642.9 575.7,645.2 C577.8,647.4 578.2,647.9 580.0,650.5 C581.8,653.1 585.2,657.7 586.5,661.0 C587.8,664.3 588.4,667.8 587.5,670.5 C586.6,673.2 583.6,676.4 581.0,677.0 C578.4,677.6 573.5,674.4 572.0,673.9 L564.1,664.3 C562.6,662.2 558.4,655.5 555.3,651.3 C552.2,647.1 548.9,643.0 545.5,639.0 C542.1,635.1 538.5,631.2 534.8,627.6 C531.1,623.9 527.2,620.4 523.2,617.0 C519.2,613.7 515.0,610.5 510.7,607.5 C506.4,604.6 502.0,601.8 497.3,599.2 C492.6,596.6 487.5,594.2 482.5,592.1 C477.4,589.9 472.3,587.9 467.1,586.1 C461.9,584.3 456.6,582.6 451.3,581.2 C445.9,579.8 440.5,578.5 435.1,577.4 C429.7,576.3 424.2,575.5 418.8,574.7 C413.3,574.0 407.9,573.4 402.4,573.1 C396.9,572.7 388.7,572.6 386.0,572.5 L386.0,572.5 C383.3,572.6 375.1,572.7 369.6,573.1 C364.1,573.4 358.7,574.0 353.2,574.7 C347.8,575.5 342.3,576.3 336.9,577.4 C331.5,578.5 326.1,579.8 320.7,581.2 C315.4,582.6 310.1,584.3 304.9,586.1 C299.7,587.9 294.6,589.9 289.5,592.1 C284.5,594.2 279.5,596.6 274.7,599.2 C269.8,601.8 265.1,604.6 260.5,607.5 C255.9,610.5 251.5,613.7 247.1,617.0 C242.8,620.4 238.6,623.9 234.5,627.6 C230.4,631.2 226.4,635.1 222.6,639.0 C218.8,643.0 215.0,647.1 211.5,651.3 C208.0,655.5 203.1,662.2 201.5,664.3 L193.0,673.9 C192.1,674.2 189.8,676.5 187.8,676.0 C185.9,675.5 182.1,673.1 181.3,670.8 C180.5,668.5 181.2,665.4 183.0,662.0 C184.8,658.6 189.8,653.3 192.0,650.5 C194.2,647.7 194.2,647.4 196.3,645.2 C198.5,642.9 202.1,639.7 204.9,636.9 C207.8,634.1 210.6,631.2 213.4,628.4 C216.2,625.6 219.0,622.8 221.8,620.0 C224.7,617.2 227.5,614.4 230.4,611.6 C233.3,608.9 236.2,606.2 239.2,603.6 C242.2,601.0 245.3,598.5 248.4,596.1 C251.5,593.7 254.7,591.3 258.0,589.1 C261.3,586.9 264.7,584.8 268.2,582.9 C271.7,581.0 275.4,579.3 279.1,577.6 C282.8,575.9 288.4,573.6 290.2,572.8 Z" fill="url(#stL)"/>
<path d="M186.5,692.9 C187.5,690.4 190.3,682.8 192.8,678.0 C195.3,673.3 198.3,668.8 201.5,664.3 C204.6,659.9 208.0,655.5 211.5,651.3 C215.0,647.1 218.8,643.0 222.6,639.0 C226.4,635.1 230.4,631.2 234.5,627.6 C238.6,623.9 242.8,620.4 247.1,617.0 C251.5,613.7 255.9,610.5 260.5,607.5 C265.1,604.6 269.8,601.8 274.7,599.2 C279.5,596.6 284.5,594.2 289.5,592.1 C294.6,589.9 299.7,587.9 304.9,586.1 C310.1,584.3 315.4,582.6 320.7,581.2 C326.1,579.8 331.5,578.5 336.9,577.4 C342.3,576.3 347.8,575.5 353.2,574.7 C358.7,574.0 364.1,573.4 369.6,573.1 C375.1,572.7 380.5,572.5 386.0,572.5 C391.5,572.5 396.9,572.7 402.4,573.1 C407.9,573.4 413.3,574.0 418.8,574.7 C424.2,575.5 429.7,576.3 435.1,577.4 C440.5,578.5 445.9,579.8 451.3,581.2 C456.6,582.6 461.9,584.3 467.1,586.1 C472.3,587.9 477.4,589.9 482.5,592.1 C487.5,594.2 492.6,596.6 497.3,599.2 C502.0,601.8 506.4,604.6 510.7,607.5 C515.0,610.5 519.2,613.7 523.2,617.0 C527.2,620.4 531.1,623.9 534.8,627.6 C538.5,631.2 542.1,635.1 545.5,639.0 C548.9,643.0 552.2,647.1 555.3,651.3 C558.4,655.5 561.3,659.9 564.1,664.3 C566.9,668.8 569.8,673.3 572.2,678.0 C574.6,682.8 577.5,690.4 578.5,692.9" fill="none" stroke="#134a96" stroke-width="2.7"/>
<path d="M192.0,650.5 C190.5,652.4 184.8,658.6 183.0,662.0 C181.2,665.4 180.5,668.5 181.3,670.8 C182.1,673.1 185.9,675.5 187.8,676.0 C189.8,676.5 192.1,674.2 193.0,673.9" fill="none" stroke="#134a96" stroke-width="2.2"/>
<path d="M580.0,650.5 C581.1,652.2 585.2,657.7 586.5,661.0 C587.8,664.3 588.4,667.8 587.5,670.5 C586.6,673.2 583.6,676.4 581.0,677.0 C578.4,677.6 573.5,674.4 572.0,673.9" fill="none" stroke="#134a96" stroke-width="2.2"/>
<path d="M147.0,677.6 C148.9,676.9 154.7,674.9 158.3,673.1 C161.9,671.4 165.3,669.3 168.6,667.2 C172.0,665.1 175.2,662.9 178.3,660.5 C181.5,658.1 184.5,655.6 187.5,653.1 C190.5,650.5 193.4,647.9 196.3,645.2 C199.2,642.5 202.1,639.7 204.9,636.9 C207.8,634.1 210.6,631.2 213.4,628.4 C216.2,625.6 219.0,622.8 221.8,620.0 C224.7,617.2 227.5,614.4 230.4,611.6 C233.3,608.9 236.2,606.2 239.2,603.6 C242.2,601.0 245.3,598.5 248.4,596.1 C251.5,593.7 254.7,591.3 258.0,589.1 C261.3,586.9 264.7,584.8 268.2,582.9 C271.7,581.0 275.4,579.3 279.1,577.6 C282.8,575.9 288.4,573.6 290.2,572.8" fill="none" stroke="#1c4f9b" stroke-width="6.4"/>
<path d="M147.0,677.6 C148.9,676.9 154.7,674.9 158.3,673.1 C161.9,671.4 165.3,669.3 168.6,667.2 C172.0,665.1 175.2,662.9 178.3,660.5 C181.5,658.1 184.5,655.6 187.5,653.1 C190.5,650.5 193.4,647.9 196.3,645.2 C199.2,642.5 202.1,639.7 204.9,636.9 C207.8,634.1 210.6,631.2 213.4,628.4 C216.2,625.6 219.0,622.8 221.8,620.0 C224.7,617.2 227.5,614.4 230.4,611.6 C233.3,608.9 236.2,606.2 239.2,603.6 C242.2,601.0 245.3,598.5 248.4,596.1 C251.5,593.7 254.7,591.3 258.0,589.1 C261.3,586.9 264.7,584.8 268.2,582.9 C271.7,581.0 275.4,579.3 279.1,577.6 C282.8,575.9 288.4,573.6 290.2,572.8" fill="none" stroke="#6aa6ee" stroke-width="2.9"/>
<path d="M625.0,677.6 C623.1,676.9 617.3,674.9 613.7,673.1 C610.1,671.4 606.7,669.3 603.4,667.2 C600.0,665.1 596.8,662.9 593.7,660.5 C590.5,658.1 587.5,655.6 584.5,653.1 C581.5,650.5 578.6,647.9 575.7,645.2 C572.8,642.5 569.9,639.7 567.1,636.9 C564.2,634.1 561.4,631.2 558.6,628.4 C555.8,625.6 553.0,622.8 550.2,620.0 C547.3,617.2 544.5,614.4 541.6,611.6 C538.7,608.9 535.8,606.2 532.8,603.6 C529.8,601.0 526.7,598.5 523.6,596.1 C520.5,593.7 517.3,591.3 514.0,589.1 C510.7,586.9 507.3,584.8 503.8,582.9 C500.3,581.0 496.6,579.3 492.9,577.6 C489.2,575.9 483.6,573.6 481.8,572.8" fill="none" stroke="#1c4f9b" stroke-width="6.4"/>
<path d="M625.0,677.6 C623.1,676.9 617.3,674.9 613.7,673.1 C610.1,671.4 606.7,669.3 603.4,667.2 C600.0,665.1 596.8,662.9 593.7,660.5 C590.5,658.1 587.5,655.6 584.5,653.1 C581.5,650.5 578.6,647.9 575.7,645.2 C572.8,642.5 569.9,639.7 567.1,636.9 C564.2,634.1 561.4,631.2 558.6,628.4 C555.8,625.6 553.0,622.8 550.2,620.0 C547.3,617.2 544.5,614.4 541.6,611.6 C538.7,608.9 535.8,606.2 532.8,603.6 C529.8,601.0 526.7,598.5 523.6,596.1 C520.5,593.7 517.3,591.3 514.0,589.1 C510.7,586.9 507.3,584.8 503.8,582.9 C500.3,581.0 496.6,579.3 492.9,577.6 C489.2,575.9 483.6,573.6 481.8,572.8" fill="none" stroke="#6aa6ee" stroke-width="2.9"/>
<path d="M290.2,572.8 C291.5,570.7 294.7,563.7 298.2,560.4 C301.6,557.1 306.4,555.0 310.9,553.0 C315.5,551.0 320.5,549.6 325.5,548.2 C330.4,546.9 335.6,545.8 340.6,544.9 C345.7,544.0 350.9,543.4 356.0,542.8 C361.1,542.2 366.2,541.8 371.2,541.4 C376.2,541.1 381.1,540.6 386.0,540.6 C390.9,540.6 395.8,541.1 400.8,541.4 C405.8,541.8 410.9,542.2 416.0,542.8 C421.1,543.4 426.3,544.0 431.4,544.9 C436.4,545.8 441.6,546.9 446.5,548.2 C451.5,549.6 456.5,551.0 461.1,553.0 C465.6,555.0 470.4,557.1 473.8,560.4 C477.3,563.7 480.5,570.7 481.8,572.8 L481.8,573.2 C479.6,572.7 472.8,571.1 468.3,570.0 C463.8,569.0 459.3,567.9 454.8,567.0 C450.3,566.1 445.7,565.2 441.2,564.4 C436.6,563.7 432.1,563.0 427.5,562.4 C422.9,561.8 418.3,561.3 413.7,560.9 C409.1,560.5 404.5,560.3 399.9,560.1 C395.3,559.9 390.6,560.0 386.0,560.0 C381.4,560.0 376.7,559.9 372.1,560.1 C367.5,560.3 362.9,560.5 358.3,560.9 C353.7,561.3 349.1,561.8 344.5,562.4 C339.9,563.0 335.4,563.7 330.8,564.4 C326.3,565.2 321.7,566.1 317.2,567.0 C312.7,567.9 308.2,569.0 303.7,570.0 C299.2,571.1 292.4,572.7 290.2,573.2 Z" fill="#c4d9f2" opacity="0.9"/>
<path d="M290.2,573.2 C292.4,572.7 299.2,571.1 303.7,570.0 C308.2,569.0 312.7,567.9 317.2,567.0 C321.7,566.1 326.3,565.2 330.8,564.4 C335.4,563.7 339.9,563.0 344.5,562.4 C349.1,561.8 353.7,561.3 358.3,560.9 C362.9,560.5 367.5,560.3 372.1,560.1 C376.7,559.9 381.4,560.0 386.0,560.0 C390.6,560.0 395.3,559.9 399.9,560.1 C404.5,560.3 409.1,560.5 413.7,560.9 C418.3,561.3 422.9,561.8 427.5,562.4 C432.1,563.0 436.6,563.7 441.2,564.4 C445.7,565.2 450.3,566.1 454.8,567.0 C459.3,567.9 463.8,569.0 468.3,570.0 C472.8,571.1 479.6,572.7 481.8,573.2" fill="none" stroke="#235593" stroke-width="1.5"/>
<path d="M290.2,572.8 C291.5,570.7 294.7,563.7 298.2,560.4 C301.6,557.1 306.4,555.0 310.9,553.0 C315.5,551.0 320.5,549.6 325.5,548.2 C330.4,546.9 335.6,545.8 340.6,544.9 C345.7,544.0 350.9,543.4 356.0,542.8 C361.1,542.2 366.2,541.8 371.2,541.4 C376.2,541.1 381.1,540.6 386.0,540.6 C390.9,540.6 395.8,541.1 400.8,541.4 C405.8,541.8 410.9,542.2 416.0,542.8 C421.1,543.4 426.3,544.0 431.4,544.9 C436.4,545.8 441.6,546.9 446.5,548.2 C451.5,549.6 456.5,551.0 461.1,553.0 C465.6,555.0 470.4,557.1 473.8,560.4 C477.3,563.7 480.5,570.7 481.8,572.8" fill="none" stroke="#3a6aa6" stroke-width="3.2" stroke-dasharray="18,4,12,6,26,5,14,6,40,7,30,5,36,6,20,6,30,6,60"/>
<path d="M290.2,572.8 C291.5,570.7 294.7,563.7 298.2,560.4 C301.6,557.1 306.4,555.0 310.9,553.0 C315.5,551.0 320.5,549.6 325.5,548.2 C330.4,546.9 335.6,545.8 340.6,544.9 C345.7,544.0 350.9,543.4 356.0,542.8 C361.1,542.2 366.2,541.8 371.2,541.4 C376.2,541.1 381.1,540.6 386.0,540.6 C390.9,540.6 395.8,541.1 400.8,541.4 C405.8,541.8 410.9,542.2 416.0,542.8 C421.1,543.4 426.3,544.0 431.4,544.9 C436.4,545.8 441.6,546.9 446.5,548.2 C451.5,549.6 456.5,551.0 461.1,553.0 C465.6,555.0 470.4,557.1 473.8,560.4 C477.3,563.7 480.5,570.7 481.8,572.8" fill="none" stroke="#a6c6ec" stroke-width="1.1" stroke-dasharray="18,4,12,6,26,5,14,6,40,7,30,5,36,6,20,6,30,6,60"/>
<rect x="377" y="557.5" width="9" height="5" fill="#cfe0f5"/>
<path d="M199.0,637.5 C200.7,635.2 205.8,628.3 209.3,623.9 C212.8,619.4 216.4,614.9 220.2,610.7 C224.0,606.4 228.0,602.2 232.1,598.3 C236.1,594.3 240.4,590.4 244.7,586.8 C249.1,583.1 253.6,579.6 258.2,576.2 C262.8,572.9 267.5,569.7 272.3,566.8 C277.1,563.8 282.1,561.0 287.1,558.4 C292.2,555.8 297.3,553.4 302.5,551.2 C307.7,549.0 313.1,547.0 318.4,545.2 C323.8,543.5 329.3,541.9 334.8,540.6 C340.4,539.3 346.0,538.2 351.7,537.4 C357.3,536.6 363.1,536.0 368.8,535.6 C374.5,535.2 380.3,535.0 386.0,535.0 C391.7,535.0 397.5,535.2 403.2,535.6 C408.9,536.0 414.7,536.6 420.3,537.4 C426.0,538.2 431.6,539.3 437.2,540.6 C442.7,541.9 448.2,543.5 453.6,545.2 C458.9,547.0 464.3,549.0 469.5,551.2 C474.7,553.4 479.8,555.8 484.9,558.4 C489.9,561.0 494.9,563.8 499.7,566.8 C504.5,569.7 509.2,572.9 513.8,576.2 C518.4,579.6 522.9,583.1 527.3,586.8 C531.6,590.4 535.9,594.3 539.9,598.3 C544.0,602.2 548.0,606.4 551.8,610.7 C555.6,614.9 559.2,619.4 562.7,623.9 C566.2,628.3 571.3,635.2 573.0,637.5" fill="none" stroke="#2b5686" stroke-width="1.3" stroke-dasharray="115,5,18,6,14,6,30,7,20,6,30,5,12,6,200"/>
</g>
<g fill="#b3c3d6"><ellipse cx="300.7" cy="531.8" rx="1.6" ry="1.3"/><ellipse cx="321.2" cy="533.4" rx="4.0" ry="2.6"/><ellipse cx="309.4" cy="540.4" rx="2.6" ry="1.6"/><ellipse cx="340.8" cy="527.9" rx="1.4" ry="1.3"/><ellipse cx="336.9" cy="538.0" rx="3.0" ry="2.0"/><ellipse cx="388.0" cy="532.6" rx="3.2" ry="2.6"/><ellipse cx="402.1" cy="531.8" rx="1.6" ry="1.4"/><ellipse cx="412.4" cy="531.0" rx="2.6" ry="2.0"/><ellipse cx="417.0" cy="533.4" rx="1.6" ry="1.4"/><ellipse cx="438.3" cy="526.3" rx="1.5" ry="1.3"/><ellipse cx="461.1" cy="531.8" rx="1.5" ry="1.3"/><ellipse cx="445.4" cy="536.5" rx="1.6" ry="1.4"/><ellipse cx="424.9" cy="538.0" rx="2.0" ry="1.6"/><ellipse cx="414.0" cy="542.8" rx="2.5" ry="2.0"/><ellipse cx="285.8" cy="546.0" rx="1.2" ry="1.1"/><ellipse cx="350.0" cy="533.0" rx="1.5" ry="1.3"/></g><g fill="#b7cdea"><ellipse cx="330.0" cy="545.0" rx="2.4" ry="1.8"/><ellipse cx="345.0" cy="556.0" rx="2.0" ry="1.5"/><ellipse cx="420.0" cy="551.0" rx="2.4" ry="1.8"/><ellipse cx="435.0" cy="546.0" rx="2.0" ry="1.6"/><ellipse cx="450.0" cy="553.0" rx="1.8" ry="1.4"/><ellipse cx="300.0" cy="552.0" rx="1.8" ry="1.4"/><ellipse cx="372.0" cy="546.0" rx="1.8" ry="1.4"/></g><g fill="#eef4fb"><ellipse cx="338.5" cy="549.9" rx="2.2" ry="1.6"/><ellipse cx="351.0" cy="549.9" rx="2.2" ry="1.6"/><ellipse cx="360.5" cy="555.4" rx="1.8" ry="1.5"/><ellipse cx="365.2" cy="550.7" rx="2.0" ry="1.6"/><ellipse cx="377.8" cy="553.0" rx="2.0" ry="1.6"/><ellipse cx="392.0" cy="546.0" rx="2.4" ry="1.8"/><ellipse cx="398.2" cy="548.3" rx="2.0" ry="1.6"/><ellipse cx="406.0" cy="548.3" rx="2.4" ry="1.8"/><ellipse cx="316.4" cy="556.2" rx="2.0" ry="1.5"/><ellipse cx="325.9" cy="551.4" rx="2.2" ry="1.6"/><ellipse cx="377.8" cy="540.4" rx="2.2" ry="1.8"/></g>
<g transform="translate(504 0)"><g clip-path="url(#panelR)">
<polygon points="147.0,745.0 172.5,738.3 211.0,721.8 215.0,706.4 200.0,690.0 271.6,672.0 330.0,668.0 440.0,668.0 500.0,672.0 575.0,690.0 560.0,705.0 553.0,715.2 597.0,730.6 627.0,741.3 627.0,840.0 147.0,840.0" fill="url(#pcR)"/>
<clipPath id="vcR"><path d="M147.0,755.0 C157.7,753.7 190.2,745.9 211.0,747.0 C231.8,748.1 256.8,757.6 271.6,761.4 C286.4,765.2 290.3,766.9 300.0,770.0 C309.7,773.1 315.7,777.3 330.0,780.0 C344.3,782.7 367.3,786.0 386.0,786.0 C404.7,786.0 427.7,782.7 442.0,780.0 C456.3,777.3 462.3,773.3 472.0,770.0 C481.7,766.7 487.5,765.2 500.4,760.4 C513.3,755.6 528.4,743.7 549.5,741.3 C570.6,738.9 614.1,745.2 627.0,746.0 L627,840 L147,840 Z"/></clipPath>
<g clip-path="url(#vcR)">
<rect x="147" y="740" width="480" height="100" fill="#d78a77"/>
<path d="M140,768 C175,758 255,758 298,778 C328,792 350,815 368,845 L140,845 Z" fill="url(#lobeLR)" filter="url(#b6R)"/>
<ellipse cx="292" cy="792" rx="38" ry="14" fill="#f2cfc0" transform="rotate(30 292 792)" filter="url(#b8R)"/>
<path d="M147,762 C200,752 250,758 300,776" stroke="#c4654f" stroke-width="8" fill="none" filter="url(#b6R)"/>
<ellipse cx="230" cy="842" rx="80" ry="9" fill="#d57c66" filter="url(#b6R)"/>
<ellipse cx="388" cy="822" rx="22" ry="20" fill="#cf6c56" filter="url(#b8R)"/>
<path d="M372,838 C376,825 384,815 392,808 M398,838 C398,828 399,818 402,810" stroke="#eab7a8" stroke-width="1.6" fill="none" opacity="0.45" filter="url(#b1R)"/>
<path d="M418,845 C440,812 475,792 520,778 C560,765 600,762 635,772 L635,845 Z" fill="url(#lobeRR)" filter="url(#b6R)"/>
<ellipse cx="567" cy="782" rx="22" ry="11" fill="#f5e4de" transform="rotate(35 567 782)" filter="url(#b6R)"/>
<ellipse cx="624" cy="795" rx="10" ry="40" fill="#b55a46" filter="url(#b8R)"/>
<ellipse cx="540" cy="842" rx="60" ry="10" fill="#c8705a" filter="url(#b8R)"/>
</g>
<path d="M147.0,755.0 C157.7,753.7 190.2,745.9 211.0,747.0 C231.8,748.1 259.3,757.9 271.6,761.4 C283.9,764.9 282.8,766.9 285.0,768.0" fill="none" stroke="#e6e0e4" stroke-width="1.3"/>
<path d="M487.0,768.0 C489.2,766.7 490.0,764.9 500.4,760.4 C510.8,755.9 528.4,743.7 549.5,741.3 C570.6,738.9 614.1,745.2 627.0,746.0" fill="none" stroke="#e6e0e4" stroke-width="1.3"/>
<ellipse cx="384" cy="712" rx="126" ry="58" fill="url(#lbR)"/>
<path d="M147,757 C180,750 215,747 233,749 C250,751 262,755 271,761 M147,751 C175,744 200,739 227,740.5 C240,742 252,746 262,751 M195,740 C215,733 238,722 254,711 M231,704 C240,715 248,728 256,741 M223,719 C233,722 245,726 254,731 M227,696 C237,705 247,716 256,727 M222,694 C237,694 250,694 262,695 M231,706 C242,704 252,703 260,702 M217,728 C230,725 245,721 258,719 M200,730 C220,737 240,745 258,755" fill="none" stroke="#e6dde0" stroke-width="1.1" opacity="0.8"/>
<path d="M508.9,727.5 L547.9,691.1 M508.9,727.5 L553,714.5 M508.9,732.7 C530,728 560,727 586.8,727.5 M503.7,698.9 L553,722.3 M506.3,692.4 L542.7,727.5 M515.4,689.8 L560.8,721 M499.8,756 C540,745 590,741 627,743 M505,749.5 C545,740 590,737 627,739.2 M502.4,740.5 C530,736 560,732 586.8,730 M512.8,709.3 L554.3,732.7 M511.5,717 L581.6,727.5 M520,686 L510,712" fill="none" stroke="#e6dde0" stroke-width="1.1" opacity="0.8"/>
<path d="M253.3,733.0 C252.4,728.6 254.6,726.5 256.4,723.4 C258.2,720.3 260.8,717.4 263.9,714.4 C267.0,711.4 270.9,708.2 275.3,705.3 C279.7,702.4 283.8,699.9 290.4,697.0 C297.0,694.1 305.1,690.5 315.0,687.9 C324.9,685.3 338.9,682.9 350.0,681.5 C361.1,680.1 369.9,679.8 381.6,679.6 C393.3,679.4 407.8,679.4 420.0,680.5 C432.2,681.6 445.0,683.7 455.0,686.0 C465.0,688.3 472.8,691.4 480.0,694.5 C487.2,697.6 493.3,700.9 498.0,704.5 C502.7,708.1 505.8,711.5 508.0,716.0 C510.2,720.5 512.3,725.3 511.0,731.6 C509.7,737.9 504.6,748.0 500.0,754.0 C495.4,760.0 493.5,762.6 483.5,767.6 C473.5,772.6 457.0,780.1 440.0,784.0 C423.0,787.9 400.9,790.9 381.6,791.0 C362.3,791.1 340.9,789.2 324.3,784.6 C307.7,780.0 292.2,769.2 281.8,763.4 C271.4,757.6 266.8,755.1 262.0,750.0 C257.2,744.9 254.2,737.4 253.3,733.0 Z" fill="url(#lfR)"/>
<g fill="none" stroke="#b09a9a" stroke-opacity="0.09" stroke-width="1" clip-path="url(#lfcR)"><ellipse cx="384.9" cy="736.6" rx="124.0" ry="50.0"/><ellipse cx="383.4" cy="738.1" rx="116.4" ry="46.9"/><ellipse cx="383.3" cy="738.0" rx="110.3" ry="44.5"/><ellipse cx="385.6" cy="736.3" rx="105.8" ry="42.6"/><ellipse cx="385.5" cy="739.3" rx="101.0" ry="40.7"/><ellipse cx="384.3" cy="738.5" rx="96.0" ry="38.7"/><ellipse cx="386.5" cy="737.6" rx="87.0" ry="35.1"/><ellipse cx="383.3" cy="739.4" rx="77.8" ry="31.4"/><ellipse cx="383.9" cy="736.5" rx="72.0" ry="29.0"/><ellipse cx="387.9" cy="736.7" rx="66.1" ry="26.7"/><ellipse cx="386.8" cy="737.5" rx="58.9" ry="23.8"/><ellipse cx="383.4" cy="736.2" rx="51.9" ry="20.9"/><ellipse cx="387.1" cy="737.7" rx="46.5" ry="18.7"/><ellipse cx="386.5" cy="737.8" rx="40.6" ry="16.4"/><ellipse cx="387.8" cy="738.8" rx="34.8" ry="14.0"/><ellipse cx="386.4" cy="738.1" rx="29.2" ry="11.8"/><ellipse cx="387.4" cy="737.2" rx="20.5" ry="8.3"/><ellipse cx="383.7" cy="737.7" rx="11.3" ry="4.6"/></g>
<path d="M253.3,733.0 C252.4,728.6 254.6,726.5 256.4,723.4 C258.2,720.3 260.8,717.4 263.9,714.4 C267.0,711.4 270.9,708.2 275.3,705.3 C279.7,702.4 283.8,699.9 290.4,697.0 C297.0,694.1 305.1,690.5 315.0,687.9 C324.9,685.3 338.9,682.9 350.0,681.5 C361.1,680.1 369.9,679.8 381.6,679.6 C393.3,679.4 407.8,679.4 420.0,680.5 C432.2,681.6 445.0,683.7 455.0,686.0 C465.0,688.3 472.8,691.4 480.0,694.5 C487.2,697.6 493.3,700.9 498.0,704.5 C502.7,708.1 505.8,711.5 508.0,716.0 C510.2,720.5 512.3,725.3 511.0,731.6 C509.7,737.9 504.6,748.0 500.0,754.0 C495.4,760.0 493.5,762.6 483.5,767.6 C473.5,772.6 457.0,780.1 440.0,784.0 C423.0,787.9 400.9,790.9 381.6,791.0 C362.3,791.1 340.9,789.2 324.3,784.6 C307.7,780.0 292.2,769.2 281.8,763.4 C271.4,757.6 266.8,755.1 262.0,750.0 C257.2,744.9 254.2,737.4 253.3,733.0 Z" fill="none" stroke="#f4eeee" stroke-width="1.6"/>
<path d="M349,790 C352,803 370,808 386,808 C402,808 420,803 423,790 Z" fill="#df9682"/><path d="M351,797 C358,805 372,808 386,808 C400,808 414,805 421,797" fill="none" stroke="#c97460" stroke-width="1.2" opacity="0.6"/>
<path d="M186.5,692.9 C187.5,690.4 190.3,682.8 192.8,678.0 C195.3,673.3 198.3,668.8 201.5,664.3 C204.6,659.9 208.0,655.5 211.5,651.3 C215.0,647.1 218.8,643.0 222.6,639.0 C226.4,635.1 230.4,631.2 234.5,627.6 C238.6,623.9 242.8,620.4 247.1,617.0 C251.5,613.7 255.9,610.5 260.5,607.5 C265.1,604.6 269.8,601.8 274.7,599.2 C279.5,596.6 284.5,594.2 289.5,592.1 C294.6,589.9 299.7,587.9 304.9,586.1 C310.1,584.3 315.4,582.6 320.7,581.2 C326.1,579.8 331.5,578.5 336.9,577.4 C342.3,576.3 347.8,575.5 353.2,574.7 C358.7,574.0 364.1,573.4 369.6,573.1 C375.1,572.7 380.5,572.5 386.0,572.5 C391.5,572.5 396.9,572.7 402.4,573.1 C407.9,573.4 413.3,574.0 418.8,574.7 C424.2,575.5 429.7,576.3 435.1,577.4 C440.5,578.5 445.9,579.8 451.3,581.2 C456.6,582.6 461.9,584.3 467.1,586.1 C472.3,587.9 477.4,589.9 482.5,592.1 C487.5,594.2 492.6,596.6 497.3,599.2 C502.0,601.8 506.4,604.6 510.7,607.5 C515.0,610.5 519.2,613.7 523.2,617.0 C527.2,620.4 531.1,623.9 534.8,627.6 C538.5,631.2 542.1,635.1 545.5,639.0 C548.9,643.0 552.2,647.1 555.3,651.3 C558.4,655.5 561.3,659.9 564.1,664.3 C566.9,668.8 569.8,673.3 572.2,678.0 C574.6,682.8 577.5,690.4 578.5,692.9 L575.0,690.0 C572.6,686.5 565.6,675.5 560.6,669.1 C555.7,662.7 550.8,656.7 545.1,651.4 C539.4,646.0 533.0,641.2 526.5,636.8 C519.9,632.4 512.8,628.5 505.6,625.0 C498.4,621.4 490.8,618.3 483.2,615.5 C475.5,612.7 467.6,610.3 459.7,608.3 C451.7,606.2 443.6,604.6 435.5,603.3 C427.3,602.0 419.1,601.1 410.8,600.6 C402.6,600.1 394.3,600.3 386.0,600.3 C377.7,600.3 369.4,600.1 361.1,600.6 C352.8,601.1 344.5,602.0 336.2,603.3 C327.9,604.6 319.6,606.2 311.5,608.3 C303.3,610.3 295.2,612.7 287.3,615.5 C279.4,618.3 271.5,621.4 263.9,625.0 C256.4,628.5 248.9,632.4 241.9,636.8 C234.8,641.2 228.0,646.0 221.8,651.4 C215.6,656.7 209.7,662.7 204.4,669.1 C199.1,675.5 192.4,686.5 190.0,690.0 Z" fill="url(#acR)"/>
<path d="M190.0,690.0 C192.4,686.5 199.1,675.5 204.4,669.1 C209.7,662.7 215.6,656.7 221.8,651.4 C228.0,646.0 234.8,641.2 241.9,636.8 C248.9,632.4 256.4,628.5 263.9,625.0 C271.5,621.4 279.4,618.3 287.3,615.5 C295.2,612.7 303.3,610.3 311.5,608.3 C319.6,606.2 327.9,604.6 336.2,603.3 C344.5,602.0 352.8,601.1 361.1,600.6 C369.4,600.1 377.7,600.3 386.0,600.3 C394.3,600.3 402.6,600.1 410.8,600.6 C419.1,601.1 427.3,602.0 435.5,603.3 C443.6,604.6 451.7,606.2 459.7,608.3 C467.6,610.3 475.5,612.7 483.2,615.5 C490.8,618.3 498.4,621.4 505.6,625.0 C512.8,628.5 519.9,632.4 526.5,636.8 C533.0,641.2 539.4,646.0 545.1,651.4 C550.8,656.7 555.7,662.7 560.6,669.1 C565.6,675.5 572.6,686.5 575.0,690.0 L575.0,689.0 C572.8,688.9 568.2,689.8 561.7,688.4 C555.2,687.0 545.8,683.1 535.7,680.7 C525.6,678.3 514.0,676.2 501.0,673.8 C488.0,671.3 467.1,667.0 457.9,666.0 C448.7,665.0 449.6,666.3 446.0,668.0 C442.4,669.7 437.7,674.7 436.0,676.0 L436.0,677.0 C435.7,676.1 435.4,673.2 434.2,671.4 C433.0,669.6 431.2,667.9 428.9,666.2 C426.6,664.6 423.7,663.1 420.5,661.8 C417.2,660.5 413.5,659.3 409.5,658.4 C405.5,657.5 401.1,656.7 396.7,656.2 C392.3,655.8 387.6,655.5 383.0,655.5 C378.4,655.5 373.7,655.8 369.3,656.2 C364.9,656.7 360.5,657.5 356.5,658.4 C352.5,659.3 348.8,660.5 345.5,661.8 C342.3,663.1 339.4,664.6 337.1,666.2 C334.8,667.9 333.0,669.6 331.8,671.4 C330.6,673.2 330.3,676.1 330.0,677.0 L329.5,678.0 C327.6,676.6 322.9,671.1 318.0,669.5 C313.1,667.9 307.9,667.5 300.0,668.5 C292.1,669.5 280.0,673.6 270.8,675.5 C261.6,677.4 254.6,678.5 244.9,679.9 C235.2,681.3 221.1,682.1 212.4,683.8 C203.8,685.5 196.2,689.0 193.0,690.0 Z" fill="url(#irR)"/>
<path d="M371.9,639.5 L350.3,565.0 M436.5,662.6 L544.8,631.4 M237.7,670.0 L-48.1,654.3 M276.7,675.5 L195.7,673.6 M372.0,641.7 L342.8,545.7 M431.4,645.5 L494.9,603.0 M435.6,652.1 L508.0,616.6 M341.9,630.4 L294.4,575.3 M272.8,645.7 L135.2,605.4 M433.4,634.1 L484.1,590.0 M433.2,660.0 L522.4,628.0 M291.0,656.2 L147.7,622.2 M413.1,654.7 L484.0,599.9 M453.0,659.2 L671.9,600.3 M412.1,655.1 L537.8,556.4 M339.5,650.6 L296.8,623.7 M411.6,645.4 L464.7,585.0 M451.7,666.3 L545.2,650.3 M280.1,651.5 L47.4,591.7 M413.6,643.9 L442.5,611.8 M431.9,653.5 L584.1,577.0 M424.4,659.2 L500.3,624.8 M293.9,637.4 L221.8,604.6 M309.5,672.3 L160.5,660.8 M520.5,659.0 L725.1,630.8 M322.5,675.2 L48.3,662.2 M425.0,643.4 L521.6,564.0 M400.8,632.2 L440.0,531.7 M470.2,668.7 L686.1,645.5 M490.0,646.7 L646.2,601.1 M405.1,654.7 L476.2,579.9 M340.6,634.5 L272.4,564.5 M426.5,661.6 L570.7,607.4 M382.0,635.7 L379.6,532.5 M423.7,653.6 L479.6,620.1 M466.0,666.6 L672.7,638.4 M515.3,663.7 L664.8,647.5 M381.5,628.4 L378.7,531.2 M297.8,659.0 L185.9,634.0 M381.3,645.6 L376.4,549.3 M246.7,672.2 L170.2,668.9 M431.1,664.0 L508.7,641.5 M330.6,659.7 L273.6,639.9 M443.8,634.9 L577.0,540.5 M332.3,665.9 L184.4,630.6 M327.0,638.1 L240.8,576.6 M493.4,646.0 L562.3,626.0 M366.4,635.8 L326.7,534.5 M497.4,645.9 L635.9,607.0 M480.4,654.3 L674.4,607.0 M489.8,674.5 L737.9,666.4 M352.7,656.0 L276.2,600.3 M252.2,672.9 L170.5,669.6 M439.1,661.3 L518.3,637.8 M462.7,633.7 L562.9,578.1 M390.1,646.5 L409.5,559.9 M399.1,646.3 L427.9,589.9 M512.2,653.0 L678.6,620.8 M384.1,636.0 L384.8,608.7 M471.2,653.9 L616.2,614.3 M344.7,626.3 L270.8,526.5 M356.0,630.1 L299.9,530.7 M433.8,629.0 L468.6,595.3 M292.6,648.4 L186.6,613.8 M429.2,658.4 L550.6,606.8 M364.9,644.3 L333.2,585.3 M429.1,638.5 L504.1,574.2 M290.4,646.7 L103.2,583.3 M459.2,670.6 L746.1,642.6 M436.4,654.7 L494.5,629.4 M295.6,664.0 L89.3,630.9 M522.5,662.4 L612.5,652.4 M424.6,654.3 L470.2,628.4 M388.1,637.3 L392.7,599.9 M524.8,675.5 L614.1,673.9 M447.9,655.7 L575.9,611.7 M261.3,675.4 L0.5,669.7 M360.7,650.8 L330.2,613.4 M481.5,651.2 L695.1,593.1 M385.0,623.6 L388.3,530.2 M483.3,646.2 L605.4,607.6 M477.2,646.1 L595.7,606.0 M377.2,655.8 L362.8,600.8 M499.6,669.7 L642.1,659.6 M333.1,626.2 L260.8,551.3 M269.2,674.3 L33.1,666.5 M307.7,657.9 L234.6,638.4 M386.5,624.1 L391.3,550.8 M274.0,667.5 L40.0,645.0 M376.5,650.5 L360.6,583.7 M357.1,639.8 L307.1,566.3 M398.9,647.2 L442.3,562.8 M310.5,673.9 L72.5,660.6 M237.7,668.6 L-42.3,650.4 M372.8,624.0 L364.3,578.4 M368.6,624.0 L343.6,530.0 M372.4,649.6 L361.5,620.4 M432.8,645.9 L496.4,604.9 M397.2,623.3 L424.5,517.8 M504.4,661.5 L702.5,634.7 M405.4,637.3 L448.1,560.1 M523.5,673.8 L791.8,665.8 M356.5,636.6 L335.6,603.8 M439.5,643.7 L550.0,576.6 M324.3,636.8 L203.0,551.7 M431.0,634.1 L474.6,594.1 M336.4,638.0 L219.8,537.8 M477.1,668.6 L624.1,653.9 M277.5,667.0 L105.4,649.0 M307.1,670.7 L94.7,650.3 M431.0,652.2 L487.8,621.6 M269.2,661.1 L85.4,633.7 M357.9,630.4 L331.6,580.4 M459.7,667.8 L601.4,649.0 M356.7,651.3 L289.4,582.8 M397.6,650.7 L444.4,562.9 M388.2,638.1 L397.8,564.9 M277.4,669.4 L34.8,649.6 M446.3,669.9 L647.8,644.3 M326.8,657.4 L153.9,594.1 M312.7,630.8 L205.6,558.8 M467.9,636.3 L565.4,588.5 M491.8,649.2 L712.6,590.8 M462.5,639.5 L562.2,591.2 M475.8,676.4 L581.6,674.7 M447.3,675.3 L584.7,669.6 M328.5,664.9 L183.5,630.1 M311.9,668.2 L201.8,653.1 M325.6,659.6 L225.8,627.6 M402.7,629.6 L429.2,564.6 M332.0,642.7 L196.7,548.9 M511.7,669.3 L665.0,658.9 M500.9,675.9 L622.7,673.8 M481.0,650.5 L645.6,604.2 M290.0,640.8 L163.6,590.3 M390.8,651.2 L417.0,561.2 M439.2,664.7 L548.2,638.8 M369.0,624.7 L349.3,550.2 M347.0,627.5 L324.5,595.8 M388.9,650.9 L409.4,555.5 M325.7,647.2 L194.2,576.6 M350.6,642.8 L257.2,541.3 M337.3,635.8 L291.9,593.9 M513.5,675.9 L628.3,674.0 M393.6,646.4 L411.5,593.1 M283.0,650.5 L168.1,618.9 M316.5,635.3 L272.2,606.8 M428.5,655.7 L524.8,608.5 M327.9,660.0 L255.8,636.6 M359.4,640.1 L310.8,562.1 M334.9,647.2 L299.4,624.4 M475.6,650.8 L637.9,603.1 M414.1,655.2 L483.7,604.3 M407.9,652.4 L490.5,567.6 M383.1,651.3 L383.4,565.7 M449.5,663.6 L695.0,610.5 M304.0,649.2 L141.9,590.1 M374.9,652.1 L341.6,545.0 M403.5,638.2 L427.5,591.6 M404.8,653.2 L484.4,562.8 M413.2,629.9 L438.2,590.2 M259.5,648.2 L22.2,591.0 M445.9,652.4 L582.7,596.7 M375.8,651.4 L360.4,593.9 M309.3,647.8 L213.0,608.2 M253.6,653.8 L70.4,619.6 M453.4,638.9 L586.6,564.9 M468.5,662.0 L617.7,634.1 M390.6,641.8 L411.9,540.3 M501.0,663.1 L694.7,638.8 M314.4,671.9 L149.0,657.3 M443.5,645.6 L513.2,608.4 M246.1,666.1 L-35.6,641.7 M447.3,660.9 L641.4,609.3 M438.5,662.0 L589.0,618.5 M331.4,651.4 L283.6,626.8 M334.9,640.7 L301.2,614.6 M382.3,625.2 L380.9,517.1 M517.7,664.8 L626.4,654.2 M265.6,651.3 L13.6,593.8 M442.1,669.0 L527.0,656.1 M495.1,659.3 L584.9,644.4 M306.4,670.4 L173.2,657.1 M296.1,648.1 L113.8,585.3 M405.0,649.6 L442.6,601.0 M411.4,655.4 L534.8,556.9 M271.6,671.4 L140.4,663.7 M304.6,641.1 L227.8,605.1 M522.1,659.9 L593.1,650.7 M484.0,669.0 L589.8,659.5 M444.0,635.8 L531.8,575.1 M392.2,624.7 L399.0,585.0 M310.7,653.1 L131.3,591.4 M380.3,648.7 L373.5,574.5 M451.3,645.9 L617.0,567.9 M381.8,641.7 L379.8,579.1 M488.0,665.7 L671.3,644.3 M348.0,658.5 L270.6,615.5 M401.3,654.0 L470.9,562.8 M457.5,637.0 L596.0,560.8 M270.5,643.6 L210.9,625.4 M293.7,661.3 L80.7,621.6 M298.3,662.6 L176.3,640.3 M510.4,676.6 L746.2,674.0 M310.7,652.1 L108.3,579.7 M404.3,656.1 L458.3,600.3 M460.6,636.4 L576.0,574.6 M464.7,661.3 L680.7,617.0 M394.3,650.9 L411.9,609.1 M358.8,624.0 L322.3,542.3 M265.6,667.2 L119.3,653.7 M319.5,652.1 L131.4,575.6 M257.3,652.9 L125.2,626.5 M295.2,675.4 L140.0,670.7 M461.8,651.9 L521.5,632.1 M283.6,658.5 L217.5,645.6 M272.3,658.7 L157.2,638.6 M316.0,659.0 L132.6,606.9 M318.8,657.1 L208.5,621.3 M426.3,640.6 L526.0,554.5 M458.8,670.3 L676.4,648.1 M298.0,648.9 L233.3,626.7 M351.6,647.3 L287.2,584.4 M377.3,650.6 L360.4,569.3 M365.6,651.8 L317.5,579.4 M289.1,674.9 L138.6,669.9 M381.5,636.7 L379.0,571.8 M319.5,632.3 L229.2,567.3 M372.1,635.9 L344.8,530.2 M469.1,649.6 L625.9,597.9 M500.7,651.5 L633.2,621.6 M384.9,645.8 L388.2,590.2 M293.4,648.4 L202.7,618.6 M308.1,651.6 L151.2,596.2 M507.8,650.2 L631.2,622.6 M458.4,642.8 L598.4,577.5 M421.0,642.5 L493.7,574.7 M391.5,648.3 L404.6,602.4 M323.3,668.4 L246.9,656.2 M363.8,631.1 L337.1,565.9 M302.4,672.5 L121.5,660.0 M297.2,645.3 L197.9,607.4 M476.7,656.7 L616.6,624.9 M439.8,662.5 L563.8,628.7 M271.6,675.5 L-11.3,669.2 M354.3,636.5 L315.0,579.6 M426.0,657.6 L473.5,635.0 M300.9,665.5 L232.8,655.1 M310.0,637.8 L164.7,558.0 M490.8,641.1 L605.9,601.6 M316.3,665.3 L234.3,649.8 M301.4,665.5 L235.0,655.4 M331.5,655.5 L216.5,605.1 M247.3,666.9 L112.1,655.8 M460.4,677.2 L726.8,674.7 M362.5,655.3 L300.9,587.3 M516.5,667.6 L805.9,645.1 M330.8,665.8 L241.0,644.7 M444.7,655.3 L576.2,606.8 M276.8,676.0 L23.7,671.1 M490.6,649.0 L687.7,595.9 M346.5,634.8 L309.1,590.6 M312.5,655.0 L198.4,617.6 M420.8,647.4 L475.5,603.0 M321.4,637.5 L264.4,600.1 M325.0,664.3 L240.4,644.3 M383.8,642.7 L384.9,590.4 M464.4,665.6 L687.0,631.9 M461.3,674.1 L621.0,666.2 M458.3,632.6 L532.3,588.0 M280.0,658.3 L143.0,632.0 M509.7,660.0 L707.4,631.9 M487.7,655.7 L636.4,624.0 M299.0,650.0 L151.0,600.8 M364.5,637.0 L331.0,562.5 M508.1,676.2 L647.3,674.1 M447.3,667.1 L715.3,621.7 M446.9,630.6 L562.2,545.2 M249.3,667.0 L24.0,648.4 M398.4,627.8 L411.0,586.4 M405.0,630.7 L435.7,565.0 M463.8,651.3 L669.0,583.3 M323.7,670.5 L184.7,652.9 M304.5,658.9 L85.3,605.4 M460.7,676.4 L672.3,672.1 M431.9,646.6 L467.3,623.8 M311.2,645.6 L167.0,580.7 M375.6,651.9 L365.8,617.2 M263.1,645.8 L79.9,596.7 M362.6,652.3 L302.9,576.8 M369.0,639.6 L331.1,535.5 M403.7,647.5 L468.9,551.4 M363.1,625.7 L341.3,568.3 M288.5,670.3 L159.6,659.8 M450.9,641.7 L521.3,604.0 M315.5,652.3 L213.7,613.5 M392.7,653.0 L431.6,552.8 M459.0,644.1 L552.6,602.4 M423.6,643.7 L484.1,592.6 M430.0,626.9 L523.9,524.6 M437.7,637.7 L570.9,539.6 M419.7,652.2 L557.1,555.6 M342.7,634.0 L314.8,603.6 M439.0,655.8 L612.3,587.2 M377.1,655.6 L351.4,558.0 M335.2,642.5 L250.4,579.5 M384.6,651.9 L389.1,578.6 M306.2,639.8 L232.0,602.9 M366.7,638.0 L340.8,574.7 M254.9,652.2 L89.8,618.9 M478.4,673.4 L547.8,670.0 M428.0,656.5 L544.2,601.2 M498.8,672.7 L758.9,660.9 M336.1,659.1 L147.8,583.2 M517.0,658.8 L701.5,632.3 M309.9,640.3 L235.9,602.2 M341.4,645.2 L268.6,587.9 M392.4,638.1 L406.1,579.3 M327.1,646.2 L261.5,608.8 M341.4,626.4 L321.6,601.8 M410.7,645.4 L451.7,597.1 M382.2,639.0 L380.5,549.9 M297.7,641.5 L189.5,595.3 M418.5,657.0 L574.1,564.8 M491.5,651.7 L671.4,608.2 M424.0,640.8 L529.9,544.6 M461.5,648.9 L510.1,630.9 M523.8,674.4 L608.3,672.3 M346.2,643.8 L284.1,586.1 M315.3,671.9 L63.7,649.1 M302.4,665.9 L36.9,626.0 M355.0,639.7 L286.9,546.7 M285.8,673.8 L132.6,667.3 M435.2,649.1 L571.9,573.2 M403.4,650.3 L442.1,597.8 M388.8,643.2 L401.2,569.6 M374.1,623.7 L365.4,571.0 M455.6,647.1 L538.6,611.7 M444.0,649.6 L574.4,589.0 M368.9,640.3 L352.4,596.1 M438.1,667.1 L639.0,627.3 M255.7,653.0 L41.1,610.7 M323.8,659.7 L177.8,614.5 M418.3,628.0 L489.2,527.8 M436.6,653.4 L602.6,577.2 M276.1,674.8 L150.8,671.1 M379.1,647.0 L372.8,597.9 M264.6,653.2 L35.2,605.1 M395.7,634.5 L425.5,531.9 M472.6,670.8 L715.1,651.2 M476.8,637.8 L596.7,586.3 M451.2,673.6 L730.3,655.5 M279.3,664.7 L189.6,653.1 M266.8,668.9 L185.5,662.5 M456.8,635.9 L591.5,558.9 M294.7,656.1 L171.1,625.4 M356.9,641.2 L335.1,610.6 M396.6,652.0 L422.4,602.4 M526.4,673.1 L805.1,663.6 M379.4,636.5 L372.2,553.3 M281.6,667.0 L5.6,636.9 M443.8,674.6 L517.8,670.4 M414.2,632.5 L476.5,541.7 M516.1,673.4 L676.4,667.8 M444.6,657.5 L594.9,607.6 M371.8,648.6 L334.1,549.6 M374.6,630.2 L365.2,577.1 M388.8,647.7 L407.8,548.4 M320.3,638.3 L208.1,567.3 M442.3,657.5 L528.1,627.7 M322.4,631.0 L195.2,532.5 M451.8,656.8 L643.2,597.8 M452.4,650.4 L626.5,581.3 M245.5,666.6 L147.5,658.5 M470.5,670.4 L744.2,646.6 M324.6,662.7 L142.5,614.9 M369.7,644.1 L356.1,609.2 M308.0,659.3 L242.6,643.1 M392.0,638.3 L408.5,565.3 M306.6,670.2 L224.6,661.7 M383.9,650.7 L385.6,597.6 M482.8,674.2 L687.7,666.4 M526.9,667.7 L598.6,662.5 M318.2,664.2 L113.3,620.4 M466.2,655.0 L640.4,606.8 M347.0,658.8 L274.2,620.1 M415.9,647.9 L472.0,596.7 M395.5,641.1 L413.4,588.3 M505.8,654.7 L599.0,636.9 M277.3,654.1 L173.7,630.6 M340.7,658.3 L200.7,592.9 M484.7,668.1 L634.1,653.5 M409.4,636.3 L449.1,573.7 M445.0,629.1 L501.0,584.9 M285.1,644.5 L101.0,581.5 M358.3,638.7 L293.6,536.1 M473.9,659.1 L601.3,632.7 M501.6,646.1 L726.6,585.6 M490.3,650.3 L578.8,627.4 M442.3,672.0 L620.6,653.9" stroke="#9aa6b8" stroke-width="0.5" opacity="0.12" fill="none" clip-path="url(#ircR)"/>
<path d="M366.9,638.0 L325.7,535.5 M295.8,656.3 L119.7,612.6 M257.3,663.6 L40.7,638.9 M435.6,640.4 L483.3,606.4 M316.6,660.9 L255.5,645.1 M389.9,634.9 L400.7,567.6 M531.1,676.6 L791.3,674.3 M343.0,658.7 L194.7,587.3 M516.4,670.6 L583.3,667.0 M477.5,675.2 L561.5,672.8 M297.6,668.6 L20.8,638.2 M321.8,670.2 L85.0,640.0 M280.9,651.6 L200.9,630.9 M318.1,658.6 L92.1,591.1 M309.0,656.2 L102.8,595.4 M318.9,658.8 L128.5,601.8 M276.6,665.9 L158.7,652.5 M484.4,672.5 L681.7,661.9 M509.3,663.4 L628.4,649.7 M266.4,646.6 L48.0,587.9 M239.2,670.6 L118.1,664.4 M408.3,647.7 L440.1,609.6 M407.8,628.7 L446.1,552.8 M299.8,675.9 L130.4,671.5 M398.8,652.3 L432.3,597.9 M445.4,643.8 L501.2,613.2 M467.9,634.4 L510.2,612.6 M303.8,631.5 L258.6,604.9 M465.0,644.5 L632.7,576.0 M512.8,661.8 L667.5,642.4 M418.4,646.0 L494.6,577.0 M520.7,676.1 L755.1,672.7 M358.4,629.2 L342.4,597.6 M378.3,648.5 L364.8,564.2 M341.4,661.8 L247.5,625.0 M495.6,664.6 L656.4,645.5 M304.2,656.5 L100.8,601.1 M405.4,646.6 L430.6,611.3 M470.9,635.7 L550.8,597.3 M308.3,655.5 L144.5,606.2 M482.4,675.3 L566.9,673.0 M449.6,645.5 L533.1,604.6 M374.4,655.4 L338.3,560.8 M421.7,644.2 L504.6,571.9 M424.8,654.0 L520.6,599.1 M429.5,656.0 L509.8,618.2 M427.1,634.0 L482.1,579.2 M503.6,667.7 L598.4,659.6 M341.9,640.2 L241.3,547.7 M418.2,652.4 L523.8,575.4 M274.5,645.5 L47.0,577.4 M308.6,633.9 L168.9,550.9 M402.9,631.2 L430.8,565.6 M443.0,661.5 L558.9,629.6 M389.4,632.2 L402.7,535.9 M449.0,673.7 L565.5,666.0 M427.3,642.3 L536.5,554.5 M505.7,653.3 L606.9,632.9 M400.4,650.1 L443.2,581.4 M487.7,673.6 L646.1,667.0 M419.5,658.0 L526.4,599.3 M316.3,649.6 L252.8,622.7 M376.6,645.6 L368.5,604.5 M429.9,663.3 L515.3,636.5 M333.2,639.8 L293.4,609.2 M329.1,657.6 L196.7,607.6 M389.7,650.8 L400.1,608.7 M484.1,658.5 L718.4,613.4 M466.1,667.8 L598.8,651.5 M449.6,668.5 L563.9,652.3 M466.2,659.6 L679.8,612.3 M305.9,675.9 L82.4,669.9 M385.2,631.0 L388.5,563.3 M324.0,670.1 L141.5,645.6 M318.6,662.0 L102.4,608.3 M242.0,666.9 L72.2,653.5 M387.6,641.8 L397.4,565.9 M299.5,657.7 L101.2,609.5 M385.4,655.5 L396.0,554.7 M420.3,645.5 L500.6,575.6 M287.1,639.9 L124.4,575.4 M513.0,661.0 L727.0,633.1 M424.9,659.3 L518.0,617.6 M431.0,639.3 L481.5,598.7 M435.5,642.1 L525.9,580.3 M457.5,639.8 L628.6,552.0 M317.7,652.4 L263.4,631.0 M285.1,640.9 L149.7,589.6 M499.2,676.6 L752.3,673.5 M242.5,669.7 L139.6,663.7 M404.9,655.5 L501.2,556.4 M348.6,649.3 L260.2,575.5 M347.1,659.9 L273.8,623.0 M336.3,629.4 L256.1,545.9 M247.1,665.4 L86.0,650.4 M393.4,625.2 L410.3,539.0 M405.0,653.5 L471.7,579.5 M389.1,652.0 L403.9,589.6 M407.5,643.3 L469.6,555.1 M436.6,655.7 L498.9,629.8 M347.6,650.0 L252.4,574.6 M437.1,658.0 L525.3,625.5 M318.8,674.6 L190.4,667.9 M391.5,653.8 L402.8,621.7 M343.8,643.1 L299.4,603.5 M315.1,671.6 L69.6,648.6 M363.8,648.3 L304.8,557.1 M327.1,643.7 L203.9,567.9 M252.5,662.0 L171.3,652.1 M429.8,651.3 L563.5,575.0 M299.7,669.4 L74.4,646.2 M329.9,636.5 L265.1,585.7 M520.9,663.8 L788.0,636.4 M332.0,648.3 L180.6,560.2 M345.8,646.9 L281.6,593.3 M468.8,654.0 L675.6,596.0 M461.2,666.2 L528.4,656.0 M499.6,672.7 L749.8,661.4 M318.9,671.2 L91.4,647.1 M270.5,657.1 L77.0,621.2 M391.5,630.9 L402.1,572.5 M380.9,638.3 L376.3,552.0 M483.8,654.7 L707.4,603.1 M498.2,671.6 L683.8,661.3 M365.3,652.0 L307.2,566.7 M305.7,656.1 L198.8,625.9 M274.0,662.1 L45.4,628.9 M419.3,627.8 L438.8,600.6 M292.7,646.9 L143.2,595.5 M275.0,653.3 L156.8,626.2 M289.2,640.3 L101.4,564.7 M378.7,648.7 L374.5,619.6 M392.0,639.1 L403.2,591.0 M281.6,676.1 L129.0,673.2 M318.8,664.8 L195.2,639.4 M444.0,628.1 L497.2,584.7 M250.4,676.9 L-11.2,674.8 M425.4,658.3 L536.1,606.8 M460.4,663.8 L683.2,622.8 M449.2,662.7 L612.3,625.1 M334.8,651.1 L287.9,624.9 M332.1,637.5 L293.3,606.7 M483.5,655.4 L543.6,641.8 M402.8,641.6 L416.7,616.2 M413.1,648.4 L467.3,595.2 M344.0,636.4 L302.4,592.2 M490.6,670.4 L720.1,654.2 M322.1,667.0 L121.7,630.7 M480.2,657.2 L556.5,640.9 M364.2,654.6 L284.6,555.7 M480.7,644.8 L595.8,605.8 M346.0,635.0 L257.1,531.7 M294.4,675.5 L148.7,671.5 M386.8,630.0 L394.2,534.9 M485.8,665.4 L626.7,648.2 M488.2,675.7 L719.5,670.7 M412.6,651.7 L446.0,622.1 M311.0,632.6 L234.9,584.5 M256.3,656.0 L82.3,625.7 M524.2,661.9 L768.0,634.0 M297.9,637.1 L223.0,601.1 M392.8,653.8 L403.9,626.3 M424.0,649.7 L528.7,577.3 M432.3,664.8 L524.0,640.2 M399.0,650.9 L439.1,583.3 M409.8,657.0 L504.1,582.8 M374.0,642.6 L354.4,564.9 M376.5,623.2 L365.0,527.1 M411.5,627.2 L449.8,559.0 M349.0,657.8 L225.3,584.2 M444.0,655.3 L587.6,601.8 M383.8,642.9 L384.4,613.5 M329.4,649.1 L260.6,612.0 M450.3,634.0 L531.1,581.0 M411.8,627.3 L430.4,594.6 M441.6,674.3 L563.3,666.6 M507.4,661.5 L656.8,641.8 M244.5,672.1 L107.2,666.3 M376.4,649.3 L364.9,599.4 M461.9,661.2 L614.5,628.8 M290.5,652.2 L201.5,627.4 M439.3,653.3 L616.2,575.7 M464.8,634.6 L561.8,583.0 M429.8,655.4 L496.1,623.3 M337.3,637.5 L233.0,545.1 M498.3,667.3 L625.4,655.6 M363.4,639.2 L328.5,570.3 M291.5,643.3 L230.3,620.1 M314.4,647.0 L244.5,615.4 M368.0,631.6 L349.5,574.3 M403.2,635.4 L429.2,580.6 M385.4,628.1 L389.3,545.0 M439.6,660.3 L597.7,610.8 M484.0,647.7 L578.5,619.4 M382.8,654.8 L382.1,579.1 M321.9,663.3 L261.9,648.8 M295.3,642.2 L238.8,619.1 M446.4,659.6 L526.0,636.5 M422.1,641.4 L469.2,597.2 M313.0,662.1 L224.2,641.9 M289.1,670.7 L141.2,659.2 M378.9,630.9 L369.3,522.1 M302.9,673.8 L33.8,659.9 M367.6,654.1 L350.1,627.0 M322.0,657.7 L177.5,609.7 M346.3,647.8 L226.3,548.9 M412.0,656.6 L477.6,608.2 M476.8,664.5 L623.8,643.4 M313.1,656.8 L228.3,631.0 M304.6,654.4 L197.4,622.0 M453.1,665.7 L593.4,640.9 M343.6,660.7 L273.2,629.8 M434.7,653.8 L527.9,610.1 M474.0,646.9 L676.6,577.6 M250.2,664.1 L113.4,649.7 M356.9,649.7 L332.1,622.8 M329.5,648.0 L223.6,588.5 M459.5,644.4 L524.8,615.7 M355.8,644.7 L278.6,550.4 M334.3,663.2 L277.8,646.0 M468.6,675.0 L689.0,667.4 M454.5,631.5 L586.5,545.6 M362.0,643.9 L343.9,614.6 M336.5,656.9 L235.5,611.0 M334.1,660.7 L228.5,623.3 M446.6,645.4 L580.3,576.9 M289.7,670.5 L211.5,664.3 M340.7,652.0 L303.1,628.9 M302.8,645.5 L228.6,615.3 M337.2,640.7 L219.7,545.0 M356.7,643.6 L320.9,597.0 M443.0,671.2 L537.3,660.4 M455.5,675.6 L566.7,671.9 M275.2,677.2 L117.3,676.0 M400.1,635.9 L429.4,564.0 M319.6,632.5 L255.6,586.6 M514.7,671.6 L618.0,666.7 M349.5,649.1 L255.1,567.6 M344.1,654.2 L248.2,595.4 M267.6,663.1 L179.4,651.7 M264.6,652.8 L33.2,603.4 M458.1,656.9 L642.7,604.9 M320.3,637.1 L191.5,553.0 M451.9,643.9 L606.7,567.4 M423.2,652.4 L478.3,617.2 M453.9,675.1 L677.8,666.0 M526.8,665.8 L603.5,659.4 M306.2,641.7 L123.9,555.5 M396.5,640.4 L416.7,584.1 M324.3,650.7 L194.0,590.0 M444.3,645.0 L586.7,568.4 M462.8,671.3 L637.8,656.5 M397.7,651.8 L440.6,575.3 M349.6,650.1 L317.5,623.2 M309.9,670.8 L137.5,653.7 M378.3,642.4 L365.9,548.9 M436.8,640.4 L498.2,597.5 M359.5,629.3 L318.5,544.0 M321.8,668.8 L183.0,647.9 M305.0,676.6 L17.7,671.2 M481.5,649.5 L606.9,613.3 M451.3,676.5 L736.3,670.0 M441.8,671.3 L632.8,649.6 M444.7,634.9 L515.5,585.5 M466.8,668.0 L551.6,657.8 M457.1,648.9 L610.4,588.6 M339.2,645.6 L307.9,622.6 M399.6,624.9 L412.8,582.8 M244.8,659.1 L88.9,637.7 M427.9,655.6 L505.7,617.0 M307.1,659.3 L61.8,598.8 M416.9,651.8 L507.2,582.1 M384.7,637.3 L386.1,602.6 M430.6,646.8 L507.2,596.6 M385.9,655.0 L395.9,576.7 M454.0,671.8 L624.5,657.1 M482.0,637.5 L589.2,593.6 M380.8,648.3 L373.6,551.9 M466.8,654.6 L702.8,588.7 M291.2,643.2 L171.1,597.8 M309.2,644.5 L255.8,620.3 M289.1,644.4 L99.5,576.4 M441.1,661.7 L561.8,627.8 M504.1,657.0 L589.7,642.2 M432.7,629.6 L462.6,600.6 M497.4,660.0 L601.2,643.7 M341.2,649.5 L239.8,580.6 M323.7,663.7 L133.9,617.7 M494.5,669.6 L641.0,658.6 M444.3,652.8 L537.2,614.7 M352.3,630.3 L314.9,572.1 M326.9,637.8 L271.1,597.9 M299.5,638.4 L162.4,573.4 M460.5,647.6 L577.4,601.6 M356.6,625.4 L332.0,576.3 M363.7,652.6 L289.6,555.3 M496.4,650.8 L666.8,609.9 M295.1,668.2 L148.1,651.8 M519.0,660.5 L587.8,651.6 M373.5,645.8 L349.3,564.2 M477.5,676.6 L735.0,672.7 M284.9,669.7 L129.3,656.6 M310.5,656.8 L231.8,633.8 M282.2,655.8 L101.2,616.0 M467.5,642.1 L529.9,615.6 M519.7,668.3 L591.5,663.2 M261.7,660.9 L133.9,643.0 M321.6,667.8 L152.7,639.9 M366.0,655.1 L335.0,613.1 M443.9,666.2 L676.7,621.2 M350.3,637.6 L274.2,543.3 M266.6,654.7 L58.9,613.2 M314.2,675.3 L178.4,669.9 M287.8,672.3 L203.4,667.2 M330.8,645.1 L220.4,575.7 M383.4,626.2 L383.9,567.6 M344.0,644.8 L273.4,584.8 M251.1,669.5 L170.6,664.4 M331.2,661.5 L215.2,624.7 M454.9,650.8 L503.6,632.4 M424.5,626.5 L467.8,572.8 M420.2,638.9 L466.8,590.1 M316.4,673.5 L193.2,665.0 M468.7,662.6 L588.4,641.0 M459.0,661.1 L579.3,634.3 M257.9,668.9 L180.9,663.3 M408.6,657.3 L526.4,562.5 M447.9,651.5 L597.9,590.1 M458.7,654.6 L642.7,597.5 M301.5,665.8 L82.6,633.0 M436.4,643.1 L482.6,613.0 M409.3,626.5 L430.9,584.3 M256.6,658.2 L94.6,632.8 M456.3,632.9 L549.5,575.5 M264.8,662.3 L165.3,649.1 M304.7,661.1 L129.0,623.3 M462.8,661.6 L638.9,625.3 M429.2,653.7 L502.5,615.1 M253.2,667.4 L102.7,655.1 M409.9,624.7 L460.7,524.2 M431.5,660.1 L529.1,624.0 M405.8,638.7 L436.0,586.6 M438.4,663.3 L639.6,610.0 M406.5,653.5 L487.8,568.7 M433.9,649.7 L592.5,561.6 M436.8,654.6 L517.6,619.4 M333.9,653.7 L275.3,624.8 M316.2,648.1 L145.4,571.6 M419.0,640.3 L497.6,558.0 M445.3,657.9 L505.6,638.5 M309.5,653.0 L197.2,614.8 M401.4,645.2 L426.0,601.4 M413.9,656.5 L542.6,566.7 M469.8,676.3 L737.1,671.2 M273.4,673.5 L-17.9,661.7 M387.4,653.5 L399.8,583.9 M382.8,649.5 L382.0,564.6 M378.6,637.6 L366.8,530.1 M323.4,638.6 L185.1,547.2 M511.1,654.7 L575.8,642.9 M422.1,638.3 L518.8,540.3 M314.1,675.0 L49.0,663.5 M486.2,654.8 L645.8,618.8 M317.6,677.5 L67.8,675.7 M338.8,648.8 L304.2,625.9 M390.2,645.0 L408.3,562.9 M321.5,663.6 L215.2,638.8 M297.5,648.0 L205.1,615.7 M316.5,661.5 L203.0,633.3 M467.4,653.3 L534.5,633.7 M344.2,625.3 L304.1,570.7 M358.5,653.1 L273.0,566.6 M351.9,648.7 L277.4,578.5 M279.3,675.7 L124.8,672.2 M273.9,646.9 L45.8,581.8 M272.6,657.9 L17.4,611.3 M498.2,660.8 L762.9,621.4 M290.3,637.7 L235.9,614.0 M340.3,654.9 L286.3,625.6 M460.4,651.0 L667.6,578.6 M312.0,638.9 L156.0,553.0 M401.1,647.0 L453.7,556.7 M471.7,660.2 L569.6,640.6 M452.3,653.9 L510.1,633.7 M335.3,663.9 L243.2,636.6 M374.8,650.1 L367.1,624.0 M416.3,646.1 L479.8,585.3 M486.3,662.8 L638.0,640.5 M459.9,669.6 L730.8,640.2 M387.0,623.5 L390.7,574.0 M401.9,651.7 L475.1,549.7 M333.0,642.0 L250.0,582.2 M279.4,677.1 L150.2,676.1 M283.8,666.8 L113.5,647.5 M371.2,653.6 L326.7,562.1 M286.4,640.5 L160.0,591.5 M379.8,640.1 L375.6,590.4 M319.4,660.9 L109.9,604.6 M454.0,637.5 L579.5,565.7 M454.7,660.1 L557.1,634.5" stroke="#ffffff" stroke-width="0.6" opacity="0.22" fill="none" clip-path="url(#ircR)"/>
<path d="M190.0,690.0 C192.4,686.5 199.1,675.5 204.4,669.1 C209.7,662.7 215.6,656.7 221.8,651.4 C228.0,646.0 234.8,641.2 241.9,636.8 C248.9,632.4 256.4,628.5 263.9,625.0 C271.5,621.4 279.4,618.3 287.3,615.5 C295.2,612.7 303.3,610.3 311.5,608.3 C319.6,606.2 327.9,604.6 336.2,603.3 C344.5,602.0 352.8,601.1 361.1,600.6 C369.4,600.1 377.7,600.3 386.0,600.3 C394.3,600.3 402.6,600.1 410.8,600.6 C419.1,601.1 427.3,602.0 435.5,603.3 C443.6,604.6 451.7,606.2 459.7,608.3 C467.6,610.3 475.5,612.7 483.2,615.5 C490.8,618.3 498.4,621.4 505.6,625.0 C512.8,628.5 519.9,632.4 526.5,636.8 C533.0,641.2 539.4,646.0 545.1,651.4 C550.8,656.7 555.7,662.7 560.6,669.1 C565.6,675.5 572.6,686.5 575.0,690.0 L575.0,689.0 C572.8,688.9 568.2,689.8 561.7,688.4 C555.2,687.0 545.8,683.1 535.7,680.7 C525.6,678.3 514.0,676.2 501.0,673.8 C488.0,671.3 467.1,667.0 457.9,666.0 C448.7,665.0 449.6,666.3 446.0,668.0 C442.4,669.7 437.7,674.7 436.0,676.0 L436.0,677.0 C435.7,676.1 435.4,673.2 434.2,671.4 C433.0,669.6 431.2,667.9 428.9,666.2 C426.6,664.6 423.7,663.1 420.5,661.8 C417.2,660.5 413.5,659.3 409.5,658.4 C405.5,657.5 401.1,656.7 396.7,656.2 C392.3,655.8 387.6,655.5 383.0,655.5 C378.4,655.5 373.7,655.8 369.3,656.2 C364.9,656.7 360.5,657.5 356.5,658.4 C352.5,659.3 348.8,660.5 345.5,661.8 C342.3,663.1 339.4,664.6 337.1,666.2 C334.8,667.9 333.0,669.6 331.8,671.4 C330.6,673.2 330.3,676.1 330.0,677.0 L329.5,678.0 C327.6,676.6 322.9,671.1 318.0,669.5 C313.1,667.9 307.9,667.5 300.0,668.5 C292.1,669.5 280.0,673.6 270.8,675.5 C261.6,677.4 254.6,678.5 244.9,679.9 C235.2,681.3 221.1,682.1 212.4,683.8 C203.8,685.5 196.2,689.0 193.0,690.0 Z" fill="url(#ir2R)"/>
<path d="M436.0,677.0 C435.7,676.1 435.4,673.2 434.2,671.4 C433.0,669.6 431.2,667.9 428.9,666.2 C426.6,664.6 423.7,663.1 420.5,661.8 C417.2,660.5 413.5,659.3 409.5,658.4 C405.5,657.5 401.1,656.7 396.7,656.2 C392.3,655.8 387.6,655.5 383.0,655.5 C378.4,655.5 373.7,655.8 369.3,656.2 C364.9,656.7 360.5,657.5 356.5,658.4 C352.5,659.3 348.8,660.5 345.5,661.8 C342.3,663.1 339.4,664.6 337.1,666.2 C334.8,667.9 333.0,669.6 331.8,671.4 C330.6,673.2 330.3,676.1 330.0,677.0" fill="none" stroke="#dccfae" stroke-width="30" opacity="0.75" filter="url(#blur4R)" clip-path="url(#ircR)"/>
<path d="M333,670 C338,664 348,660 360,657.5" fill="none" stroke="#f6f6f4" stroke-width="3" opacity="0.7"/>
<path d="M434.2,671.4 C433.3,670.6 431.2,667.9 428.9,666.2 C426.6,664.6 423.7,663.1 420.5,661.8 C417.2,660.5 413.5,659.3 409.5,658.4 C405.5,657.5 401.1,656.7 396.7,656.2 C392.3,655.8 387.6,655.5 383.0,655.5 C378.4,655.5 373.7,655.8 369.3,656.2 C364.9,656.7 360.5,657.5 356.5,658.4 C352.5,659.3 348.8,660.5 345.5,661.8 C342.3,663.1 339.4,664.6 337.1,666.2 C334.8,667.9 332.7,670.6 331.8,671.4" fill="none" stroke="#7d5f52" stroke-width="1.6" opacity="0.8"/>
<polygon points="147.0,679.6 165.0,672.5 180.0,661.5 186.0,656.0 183.0,662.0 181.3,670.8 187.8,676.0 193.0,673.4 186.5,692.9 212.4,683.8 244.9,679.9 270.8,675.5 300.0,668.5 318.0,669.5 329.5,678.0 322.0,682.5 264.3,683.0 227.3,689.0 217.0,693.0 222.0,697.0 231.4,705.0 227.3,713.3 208.8,721.5 192.4,731.8 165.7,742.0 147.0,748.0" fill="#f3e3c3" stroke="#c4ae7e" stroke-width="1"/>
<polygon points="627.0,679.6 609.0,672.5 594.0,661.5 588.0,656.0 586.5,661.0 587.5,670.5 581.0,677.0 572.0,673.9 578.5,692.9 561.7,688.4 535.7,680.7 501.0,673.8 457.9,666.0 446.0,668.0 436.0,676.0 444.0,681.5 483.8,683.0 544.0,691.0 557.8,693.8 554.2,697.0 544.7,699.7 547.0,704.5 553.0,715.2 573.2,723.5 597.0,730.6 627.0,741.3" fill="#f3e3c3" stroke="#c4ae7e" stroke-width="1"/>
<polygon points="147.0,679.6 165.0,672.5 180.0,661.5 186.0,656.0 183.0,662.0 181.3,670.8 187.8,676.0 186.5,692.9 200.0,690.0 147.0,737.0" fill="#e8d8b6"/>
<polygon points="627.0,679.6 609.0,672.5 594.0,661.5 588.0,656.0 586.5,661.0 587.5,670.5 581.0,677.0 578.5,692.9 568.0,692.0 627.0,737.0" fill="#e8d8b6"/>
<path d="M147,698 L192,670 M147,704 L188,677 M147,710 L184,684 M147,716 L180,691 M147,722 L176,698 M147,728 L172,705 M147,734 L168,712 M147,740 L164,719 M147,746 L160,726" stroke="#cdb891" stroke-width="0.8" opacity="0.6" fill="none"/>
<path d="M147,698 L192,670 M147,704 L188,677 M147,710 L184,684 M147,716 L180,691 M147,722 L176,698 M147,728 L172,705 M147,734 L168,712 M147,740 L164,719 M147,746 L160,726" stroke="#cdb891" stroke-width="0.8" opacity="0.6" fill="none" transform="translate(772 0) scale(-1 1)"/>
<path d="M147,748 L165.7,742 L192.4,731.8 L208.8,721.5 L227.3,713.3 L231.4,705" fill="none" stroke="#d9c27a" stroke-width="1.6"/>
<path d="M627,741.3 L597,730.6 L573.2,723.5 L553,715.2 L547,704.5 L544.7,699.7" fill="none" stroke="#d9c27a" stroke-width="1.6"/>
<g fill="#dc6e66" opacity="0.85"><ellipse cx="193.2" cy="719.6" rx="1.8" ry="1.2" transform="rotate(-41 193.2 719.6)"/><ellipse cx="221.1" cy="697.0" rx="2.2" ry="1.7" transform="rotate(-23 221.1 697.0)"/><ellipse cx="192.8" cy="726.0" rx="2.2" ry="1.7" transform="rotate(-29 192.8 726.0)"/><ellipse cx="204.6" cy="704.9" rx="2.4" ry="1.6" transform="rotate(-35 204.6 704.9)"/><ellipse cx="178.1" cy="719.9" rx="1.8" ry="1.1" transform="rotate(-44 178.1 719.9)"/><ellipse cx="227.1" cy="705.4" rx="2.5" ry="1.4" transform="rotate(-26 227.1 705.4)"/><ellipse cx="193.3" cy="703.4" rx="2.4" ry="1.2" transform="rotate(-47 193.3 703.4)"/><ellipse cx="151.1" cy="745.2" rx="2.9" ry="1.3" transform="rotate(-42 151.1 745.2)"/><ellipse cx="185.7" cy="710.1" rx="1.9" ry="1.6" transform="rotate(-49 185.7 710.1)"/><ellipse cx="214.0" cy="690.6" rx="2.7" ry="1.2" transform="rotate(-24 214.0 690.6)"/><ellipse cx="188.5" cy="729.2" rx="2.8" ry="1.3" transform="rotate(-37 188.5 729.2)"/><ellipse cx="200.3" cy="715.0" rx="2.5" ry="1.2" transform="rotate(-41 200.3 715.0)"/><ellipse cx="177.7" cy="732.7" rx="3.3" ry="1.5" transform="rotate(-30 177.7 732.7)"/><ellipse cx="211.6" cy="706.5" rx="3.2" ry="1.3" transform="rotate(-35 211.6 706.5)"/><ellipse cx="202.2" cy="720.0" rx="1.8" ry="1.4" transform="rotate(-42 202.2 720.0)"/><ellipse cx="204.1" cy="712.7" rx="3.4" ry="1.5" transform="rotate(-26 204.1 712.7)"/><ellipse cx="176.6" cy="723.9" rx="3.3" ry="1.6" transform="rotate(-39 176.6 723.9)"/><ellipse cx="187.6" cy="726.9" rx="3.2" ry="1.5" transform="rotate(-44 187.6 726.9)"/><ellipse cx="203.6" cy="710.1" rx="3.0" ry="1.6" transform="rotate(-30 203.6 710.1)"/><ellipse cx="202.3" cy="697.6" rx="3.2" ry="1.5" transform="rotate(-48 202.3 697.6)"/><ellipse cx="199.0" cy="720.6" rx="2.3" ry="1.6" transform="rotate(-49 199.0 720.6)"/><ellipse cx="217.7" cy="707.2" rx="1.9" ry="1.5" transform="rotate(-47 217.7 707.2)"/><ellipse cx="193.3" cy="705.0" rx="3.0" ry="1.7" transform="rotate(-25 193.3 705.0)"/><ellipse cx="182.6" cy="734.4" rx="3.1" ry="1.3" transform="rotate(-45 182.6 734.4)"/><ellipse cx="197.7" cy="719.0" rx="3.7" ry="1.7" transform="rotate(-31 197.7 719.0)"/><ellipse cx="195.1" cy="722.1" rx="2.1" ry="1.5" transform="rotate(-23 195.1 722.1)"/><ellipse cx="229.7" cy="707.5" rx="3.7" ry="1.6" transform="rotate(-32 229.7 707.5)"/><ellipse cx="189.2" cy="709.8" rx="2.4" ry="1.7" transform="rotate(-35 189.2 709.8)"/><ellipse cx="213.5" cy="699.2" rx="2.3" ry="1.2" transform="rotate(-20 213.5 699.2)"/><ellipse cx="187.3" cy="724.0" rx="3.0" ry="1.5" transform="rotate(-46 187.3 724.0)"/><ellipse cx="211.6" cy="702.6" rx="2.9" ry="1.3" transform="rotate(-41 211.6 702.6)"/><ellipse cx="192.0" cy="712.8" rx="2.5" ry="1.5" transform="rotate(-32 192.0 712.8)"/><ellipse cx="183.4" cy="719.7" rx="3.2" ry="1.5" transform="rotate(-35 183.4 719.7)"/><ellipse cx="224.5" cy="707.9" rx="2.6" ry="1.6" transform="rotate(-44 224.5 707.9)"/><ellipse cx="581.6" cy="718.0" rx="2.8" ry="1.3" transform="rotate(45 581.6 718.0)"/><ellipse cx="591.0" cy="734.3" rx="1.9" ry="1.2" transform="rotate(25 591.0 734.3)"/><ellipse cx="549.4" cy="707.5" rx="1.9" ry="1.1" transform="rotate(32 549.4 707.5)"/><ellipse cx="604.6" cy="738.5" rx="2.1" ry="1.4" transform="rotate(40 604.6 738.5)"/><ellipse cx="588.3" cy="722.5" rx="2.3" ry="1.4" transform="rotate(42 588.3 722.5)"/><ellipse cx="551.6" cy="698.5" rx="2.5" ry="1.5" transform="rotate(44 551.6 698.5)"/><ellipse cx="547.9" cy="691.7" rx="3.0" ry="1.2" transform="rotate(23 547.9 691.7)"/><ellipse cx="597.9" cy="734.9" rx="2.1" ry="1.5" transform="rotate(39 597.9 734.9)"/><ellipse cx="560.4" cy="704.7" rx="3.0" ry="1.3" transform="rotate(38 560.4 704.7)"/><ellipse cx="596.4" cy="733.9" rx="2.7" ry="1.6" transform="rotate(34 596.4 733.9)"/><ellipse cx="591.6" cy="719.5" rx="3.3" ry="1.3" transform="rotate(47 591.6 719.5)"/><ellipse cx="581.8" cy="731.1" rx="1.8" ry="1.4" transform="rotate(23 581.8 731.1)"/><ellipse cx="553.5" cy="693.9" rx="2.5" ry="1.3" transform="rotate(23 553.5 693.9)"/><ellipse cx="553.2" cy="699.8" rx="2.4" ry="1.2" transform="rotate(41 553.2 699.8)"/><ellipse cx="560.5" cy="713.9" rx="1.9" ry="1.7" transform="rotate(38 560.5 713.9)"/><ellipse cx="598.7" cy="729.2" rx="2.1" ry="1.2" transform="rotate(49 598.7 729.2)"/><ellipse cx="560.1" cy="688.8" rx="2.6" ry="1.7" transform="rotate(39 560.1 688.8)"/><ellipse cx="567.1" cy="713.0" rx="2.4" ry="1.5" transform="rotate(28 567.1 713.0)"/><ellipse cx="554.2" cy="698.9" rx="3.1" ry="1.7" transform="rotate(30 554.2 698.9)"/><ellipse cx="544.4" cy="708.6" rx="1.9" ry="1.3" transform="rotate(37 544.4 708.6)"/><ellipse cx="555.6" cy="715.5" rx="2.6" ry="1.4" transform="rotate(47 555.6 715.5)"/><ellipse cx="586.9" cy="714.2" rx="2.9" ry="1.3" transform="rotate(31 586.9 714.2)"/><ellipse cx="603.1" cy="740.6" rx="2.4" ry="1.4" transform="rotate(25 603.1 740.6)"/><ellipse cx="559.5" cy="691.2" rx="2.4" ry="1.2" transform="rotate(26 559.5 691.2)"/><ellipse cx="551.3" cy="689.1" rx="2.3" ry="1.2" transform="rotate(37 551.3 689.1)"/><ellipse cx="564.9" cy="707.2" rx="2.0" ry="1.4" transform="rotate(40 564.9 707.2)"/><ellipse cx="603.3" cy="727.5" rx="2.3" ry="1.6" transform="rotate(38 603.3 727.5)"/><ellipse cx="554.7" cy="700.3" rx="3.2" ry="1.3" transform="rotate(48 554.7 700.3)"/><ellipse cx="551.3" cy="706.1" rx="3.5" ry="1.7" transform="rotate(31 551.3 706.1)"/><ellipse cx="560.1" cy="710.6" rx="2.5" ry="1.3" transform="rotate(49 560.1 710.6)"/><ellipse cx="590.8" cy="735.3" rx="3.3" ry="1.2" transform="rotate(34 590.8 735.3)"/><ellipse cx="580.1" cy="710.9" rx="2.7" ry="1.6" transform="rotate(21 580.1 710.9)"/><ellipse cx="574.2" cy="697.4" rx="2.4" ry="1.2" transform="rotate(33 574.2 697.4)"/><ellipse cx="561.0" cy="705.8" rx="2.3" ry="1.7" transform="rotate(24 561.0 705.8)"/><ellipse cx="222.0" cy="688.0" rx="3.0" ry="1.6"/><ellipse cx="236.0" cy="684.5" rx="3.5" ry="1.6"/><ellipse cx="252.0" cy="681.5" rx="4.0" ry="1.6"/><ellipse cx="270.0" cy="679.0" rx="5.0" ry="1.6"/><ellipse cx="287.0" cy="676.5" rx="6.0" ry="1.6"/><ellipse cx="303.0" cy="674.0" rx="5.5" ry="1.6"/><ellipse cx="316.0" cy="675.5" rx="4.0" ry="1.6"/><ellipse cx="447.0" cy="673.0" rx="4.0" ry="1.6"/><ellipse cx="462.0" cy="671.0" rx="4.5" ry="1.6"/><ellipse cx="480.0" cy="673.5" rx="5.0" ry="1.6"/><ellipse cx="500.0" cy="676.0" rx="4.5" ry="1.6"/><ellipse cx="518.0" cy="679.5" rx="4.0" ry="1.6"/><ellipse cx="536.0" cy="684.0" rx="3.5" ry="1.6"/><ellipse cx="552.0" cy="688.5" rx="3.0" ry="1.6"/></g>
<ellipse cx="177" cy="691" rx="4.8" ry="3.6" fill="#4a5159" stroke="#dedede" stroke-width="1.3"/>
<ellipse cx="591" cy="692.6" rx="4.8" ry="3.6" fill="#4a5159" stroke="#dedede" stroke-width="1.3"/>
<path d="M199.0,637.5 C200.7,635.2 205.8,628.3 209.3,623.9 C212.8,619.4 216.4,614.9 220.2,610.7 C224.0,606.4 228.0,602.2 232.1,598.3 C236.1,594.3 240.4,590.4 244.7,586.8 C249.1,583.1 253.6,579.6 258.2,576.2 C262.8,572.9 267.5,569.7 272.3,566.8 C277.1,563.8 282.1,561.0 287.1,558.4 C292.2,555.8 297.3,553.4 302.5,551.2 C307.7,549.0 313.1,547.0 318.4,545.2 C323.8,543.5 329.3,541.9 334.8,540.6 C340.4,539.3 346.0,538.2 351.7,537.4 C357.3,536.6 363.1,536.0 368.8,535.6 C374.5,535.2 380.3,535.0 386.0,535.0 C391.7,535.0 397.5,535.2 403.2,535.6 C408.9,536.0 414.7,536.6 420.3,537.4 C426.0,538.2 431.6,539.3 437.2,540.6 C442.7,541.9 448.2,543.5 453.6,545.2 C458.9,547.0 464.3,549.0 469.5,551.2 C474.7,553.4 479.8,555.8 484.9,558.4 C489.9,561.0 494.9,563.8 499.7,566.8 C504.5,569.7 509.2,572.9 513.8,576.2 C518.4,579.6 522.9,583.1 527.3,586.8 C531.6,590.4 535.9,594.3 539.9,598.3 C544.0,602.2 548.0,606.4 551.8,610.7 C555.6,614.9 559.2,619.4 562.7,623.9 C566.2,628.3 571.3,635.2 573.0,637.5 L580.0,650.5 C579.3,649.6 577.8,647.4 575.7,645.2 C573.5,642.9 569.9,639.7 567.1,636.9 C564.2,634.1 561.4,631.2 558.6,628.4 C555.8,625.6 553.0,622.8 550.2,620.0 C547.3,617.2 544.5,614.4 541.6,611.6 C538.7,608.9 535.8,606.2 532.8,603.6 C529.8,601.0 526.7,598.5 523.6,596.1 C520.5,593.7 517.3,591.3 514.0,589.1 C510.7,586.9 507.3,584.8 503.8,582.9 C500.3,581.0 496.6,579.3 492.9,577.6 C489.2,575.9 483.6,573.6 481.8,572.8 L481.8,572.8 C480.5,570.7 477.3,563.7 473.8,560.4 C470.4,557.1 465.6,555.0 461.1,553.0 C456.5,551.0 451.5,549.6 446.5,548.2 C441.6,546.9 436.4,545.8 431.4,544.9 C426.3,544.0 421.1,543.4 416.0,542.8 C410.9,542.2 405.8,541.8 400.8,541.4 C395.8,541.1 390.9,540.6 386.0,540.6 C381.1,540.6 376.2,541.1 371.2,541.4 C366.2,541.8 361.1,542.2 356.0,542.8 C350.9,543.4 345.7,544.0 340.6,544.9 C335.6,545.8 330.4,546.9 325.5,548.2 C320.5,549.6 315.5,551.0 310.9,553.0 C306.4,555.0 301.6,557.1 298.2,560.4 C294.7,563.7 291.5,570.7 290.2,572.8 L290.2,572.8 C288.4,573.6 282.8,575.9 279.1,577.6 C275.4,579.3 271.7,581.0 268.2,582.9 C264.7,584.8 261.3,586.9 258.0,589.1 C254.7,591.3 251.5,593.7 248.4,596.1 C245.3,598.5 242.2,601.0 239.2,603.6 C236.2,606.2 233.3,608.9 230.4,611.6 C227.5,614.4 224.7,617.2 221.8,620.0 C219.0,622.8 216.2,625.6 213.4,628.4 C210.6,631.2 207.8,634.1 204.9,636.9 C202.1,639.7 198.5,642.9 196.3,645.2 C194.2,647.4 192.7,649.6 192.0,650.5 Z" fill="url(#epR)"/>
<path d="M290.2,572.8 C291.5,570.7 294.7,563.7 298.2,560.4 C301.6,557.1 306.4,555.0 310.9,553.0 C315.5,551.0 320.5,549.6 325.5,548.2 C330.4,546.9 335.6,545.8 340.6,544.9 C345.7,544.0 350.9,543.4 356.0,542.8 C361.1,542.2 366.2,541.8 371.2,541.4 C376.2,541.1 381.1,540.6 386.0,540.6 C390.9,540.6 395.8,541.1 400.8,541.4 C405.8,541.8 410.9,542.2 416.0,542.8 C421.1,543.4 426.3,544.0 431.4,544.9 C436.4,545.8 441.6,546.9 446.5,548.2 C451.5,549.6 456.5,551.0 461.1,553.0 C465.6,555.0 470.4,557.1 473.8,560.4 C477.3,563.7 480.5,570.7 481.8,572.8 L481.8,572.8 C483.6,573.6 489.2,575.9 492.9,577.6 C496.6,579.3 500.3,581.0 503.8,582.9 C507.3,584.8 510.7,586.9 514.0,589.1 C517.3,591.3 520.5,593.7 523.6,596.1 C526.7,598.5 529.8,601.0 532.8,603.6 C535.8,606.2 538.7,608.9 541.6,611.6 C544.5,614.4 547.3,617.2 550.2,620.0 C553.0,622.8 555.8,625.6 558.6,628.4 C561.4,631.2 564.2,634.1 567.1,636.9 C569.9,639.7 573.5,642.9 575.7,645.2 C577.8,647.4 578.2,647.9 580.0,650.5 C581.8,653.1 585.2,657.7 586.5,661.0 C587.8,664.3 588.4,667.8 587.5,670.5 C586.6,673.2 583.6,676.4 581.0,677.0 C578.4,677.6 573.5,674.4 572.0,673.9 L564.1,664.3 C562.6,662.2 558.4,655.5 555.3,651.3 C552.2,647.1 548.9,643.0 545.5,639.0 C542.1,635.1 538.5,631.2 534.8,627.6 C531.1,623.9 527.2,620.4 523.2,617.0 C519.2,613.7 515.0,610.5 510.7,607.5 C506.4,604.6 502.0,601.8 497.3,599.2 C492.6,596.6 487.5,594.2 482.5,592.1 C477.4,589.9 472.3,587.9 467.1,586.1 C461.9,584.3 456.6,582.6 451.3,581.2 C445.9,579.8 440.5,578.5 435.1,577.4 C429.7,576.3 424.2,575.5 418.8,574.7 C413.3,574.0 407.9,573.4 402.4,573.1 C396.9,572.7 388.7,572.6 386.0,572.5 L386.0,572.5 C383.3,572.6 375.1,572.7 369.6,573.1 C364.1,573.4 358.7,574.0 353.2,574.7 C347.8,575.5 342.3,576.3 336.9,577.4 C331.5,578.5 326.1,579.8 320.7,581.2 C315.4,582.6 310.1,584.3 304.9,586.1 C299.7,587.9 294.6,589.9 289.5,592.1 C284.5,594.2 279.5,596.6 274.7,599.2 C269.8,601.8 265.1,604.6 260.5,607.5 C255.9,610.5 251.5,613.7 247.1,617.0 C242.8,620.4 238.6,623.9 234.5,627.6 C230.4,631.2 226.4,635.1 222.6,639.0 C218.8,643.0 215.0,647.1 211.5,651.3 C208.0,655.5 203.1,662.2 201.5,664.3 L193.0,673.9 C192.1,674.2 189.8,676.5 187.8,676.0 C185.9,675.5 182.1,673.1 181.3,670.8 C180.5,668.5 181.2,665.4 183.0,662.0 C184.8,658.6 189.8,653.3 192.0,650.5 C194.2,647.7 194.2,647.4 196.3,645.2 C198.5,642.9 202.1,639.7 204.9,636.9 C207.8,634.1 210.6,631.2 213.4,628.4 C216.2,625.6 219.0,622.8 221.8,620.0 C224.7,617.2 227.5,614.4 230.4,611.6 C233.3,608.9 236.2,606.2 239.2,603.6 C242.2,601.0 245.3,598.5 248.4,596.1 C251.5,593.7 254.7,591.3 258.0,589.1 C261.3,586.9 264.7,584.8 268.2,582.9 C271.7,581.0 275.4,579.3 279.1,577.6 C282.8,575.9 288.4,573.6 290.2,572.8 Z" fill="url(#stR)"/>
<path d="M186.5,692.9 C187.5,690.4 190.3,682.8 192.8,678.0 C195.3,673.3 198.3,668.8 201.5,664.3 C204.6,659.9 208.0,655.5 211.5,651.3 C215.0,647.1 218.8,643.0 222.6,639.0 C226.4,635.1 230.4,631.2 234.5,627.6 C238.6,623.9 242.8,620.4 247.1,617.0 C251.5,613.7 255.9,610.5 260.5,607.5 C265.1,604.6 269.8,601.8 274.7,599.2 C279.5,596.6 284.5,594.2 289.5,592.1 C294.6,589.9 299.7,587.9 304.9,586.1 C310.1,584.3 315.4,582.6 320.7,581.2 C326.1,579.8 331.5,578.5 336.9,577.4 C342.3,576.3 347.8,575.5 353.2,574.7 C358.7,574.0 364.1,573.4 369.6,573.1 C375.1,572.7 380.5,572.5 386.0,572.5 C391.5,572.5 396.9,572.7 402.4,573.1 C407.9,573.4 413.3,574.0 418.8,574.7 C424.2,575.5 429.7,576.3 435.1,577.4 C440.5,578.5 445.9,579.8 451.3,581.2 C456.6,582.6 461.9,584.3 467.1,586.1 C472.3,587.9 477.4,589.9 482.5,592.1 C487.5,594.2 492.6,596.6 497.3,599.2 C502.0,601.8 506.4,604.6 510.7,607.5 C515.0,610.5 519.2,613.7 523.2,617.0 C527.2,620.4 531.1,623.9 534.8,627.6 C538.5,631.2 542.1,635.1 545.5,639.0 C548.9,643.0 552.2,647.1 555.3,651.3 C558.4,655.5 561.3,659.9 564.1,664.3 C566.9,668.8 569.8,673.3 572.2,678.0 C574.6,682.8 577.5,690.4 578.5,692.9" fill="none" stroke="#134a96" stroke-width="2.7"/>
<path d="M192.0,650.5 C190.5,652.4 184.8,658.6 183.0,662.0 C181.2,665.4 180.5,668.5 181.3,670.8 C182.1,673.1 185.9,675.5 187.8,676.0 C189.8,676.5 192.1,674.2 193.0,673.9" fill="none" stroke="#134a96" stroke-width="2.2"/>
<path d="M580.0,650.5 C581.1,652.2 585.2,657.7 586.5,661.0 C587.8,664.3 588.4,667.8 587.5,670.5 C586.6,673.2 583.6,676.4 581.0,677.0 C578.4,677.6 573.5,674.4 572.0,673.9" fill="none" stroke="#134a96" stroke-width="2.2"/>
<path d="M147.0,677.6 C148.9,676.9 154.7,674.9 158.3,673.1 C161.9,671.4 165.3,669.3 168.6,667.2 C172.0,665.1 175.2,662.9 178.3,660.5 C181.5,658.1 184.5,655.6 187.5,653.1 C190.5,650.5 193.4,647.9 196.3,645.2 C199.2,642.5 202.1,639.7 204.9,636.9 C207.8,634.1 210.6,631.2 213.4,628.4 C216.2,625.6 219.0,622.8 221.8,620.0 C224.7,617.2 227.5,614.4 230.4,611.6 C233.3,608.9 236.2,606.2 239.2,603.6 C242.2,601.0 245.3,598.5 248.4,596.1 C251.5,593.7 254.7,591.3 258.0,589.1 C261.3,586.9 264.7,584.8 268.2,582.9 C271.7,581.0 275.4,579.3 279.1,577.6 C282.8,575.9 288.4,573.6 290.2,572.8" fill="none" stroke="#1c4f9b" stroke-width="6.4"/>
<path d="M147.0,677.6 C148.9,676.9 154.7,674.9 158.3,673.1 C161.9,671.4 165.3,669.3 168.6,667.2 C172.0,665.1 175.2,662.9 178.3,660.5 C181.5,658.1 184.5,655.6 187.5,653.1 C190.5,650.5 193.4,647.9 196.3,645.2 C199.2,642.5 202.1,639.7 204.9,636.9 C207.8,634.1 210.6,631.2 213.4,628.4 C216.2,625.6 219.0,622.8 221.8,620.0 C224.7,617.2 227.5,614.4 230.4,611.6 C233.3,608.9 236.2,606.2 239.2,603.6 C242.2,601.0 245.3,598.5 248.4,596.1 C251.5,593.7 254.7,591.3 258.0,589.1 C261.3,586.9 264.7,584.8 268.2,582.9 C271.7,581.0 275.4,579.3 279.1,577.6 C282.8,575.9 288.4,573.6 290.2,572.8" fill="none" stroke="#6aa6ee" stroke-width="2.9"/>
<path d="M625.0,677.6 C623.1,676.9 617.3,674.9 613.7,673.1 C610.1,671.4 606.7,669.3 603.4,667.2 C600.0,665.1 596.8,662.9 593.7,660.5 C590.5,658.1 587.5,655.6 584.5,653.1 C581.5,650.5 578.6,647.9 575.7,645.2 C572.8,642.5 569.9,639.7 567.1,636.9 C564.2,634.1 561.4,631.2 558.6,628.4 C555.8,625.6 553.0,622.8 550.2,620.0 C547.3,617.2 544.5,614.4 541.6,611.6 C538.7,608.9 535.8,606.2 532.8,603.6 C529.8,601.0 526.7,598.5 523.6,596.1 C520.5,593.7 517.3,591.3 514.0,589.1 C510.7,586.9 507.3,584.8 503.8,582.9 C500.3,581.0 496.6,579.3 492.9,577.6 C489.2,575.9 483.6,573.6 481.8,572.8" fill="none" stroke="#1c4f9b" stroke-width="6.4"/>
<path d="M625.0,677.6 C623.1,676.9 617.3,674.9 613.7,673.1 C610.1,671.4 606.7,669.3 603.4,667.2 C600.0,665.1 596.8,662.9 593.7,660.5 C590.5,658.1 587.5,655.6 584.5,653.1 C581.5,650.5 578.6,647.9 575.7,645.2 C572.8,642.5 569.9,639.7 567.1,636.9 C564.2,634.1 561.4,631.2 558.6,628.4 C555.8,625.6 553.0,622.8 550.2,620.0 C547.3,617.2 544.5,614.4 541.6,611.6 C538.7,608.9 535.8,606.2 532.8,603.6 C529.8,601.0 526.7,598.5 523.6,596.1 C520.5,593.7 517.3,591.3 514.0,589.1 C510.7,586.9 507.3,584.8 503.8,582.9 C500.3,581.0 496.6,579.3 492.9,577.6 C489.2,575.9 483.6,573.6 481.8,572.8" fill="none" stroke="#6aa6ee" stroke-width="2.9"/>
<path d="M290.2,572.8 C291.5,570.7 294.7,563.7 298.2,560.4 C301.6,557.1 306.4,555.0 310.9,553.0 C315.5,551.0 320.5,549.6 325.5,548.2 C330.4,546.9 335.6,545.8 340.6,544.9 C345.7,544.0 350.9,543.4 356.0,542.8 C361.1,542.2 366.2,541.8 371.2,541.4 C376.2,541.1 381.1,540.6 386.0,540.6 C390.9,540.6 395.8,541.1 400.8,541.4 C405.8,541.8 410.9,542.2 416.0,542.8 C421.1,543.4 426.3,544.0 431.4,544.9 C436.4,545.8 441.6,546.9 446.5,548.2 C451.5,549.6 456.5,551.0 461.1,553.0 C465.6,555.0 470.4,557.1 473.8,560.4 C477.3,563.7 480.5,570.7 481.8,572.8 L481.8,573.2 C479.6,572.7 472.8,571.1 468.3,570.0 C463.8,569.0 459.3,567.9 454.8,567.0 C450.3,566.1 445.7,565.2 441.2,564.4 C436.6,563.7 432.1,563.0 427.5,562.4 C422.9,561.8 418.3,561.3 413.7,560.9 C409.1,560.5 404.5,560.3 399.9,560.1 C395.3,559.9 390.6,560.0 386.0,560.0 C381.4,560.0 376.7,559.9 372.1,560.1 C367.5,560.3 362.9,560.5 358.3,560.9 C353.7,561.3 349.1,561.8 344.5,562.4 C339.9,563.0 335.4,563.7 330.8,564.4 C326.3,565.2 321.7,566.1 317.2,567.0 C312.7,567.9 308.2,569.0 303.7,570.0 C299.2,571.1 292.4,572.7 290.2,573.2 Z" fill="#c4d9f2" opacity="0.0"/>
<path d="M290.2,573.2 C292.4,572.7 299.2,571.1 303.7,570.0 C308.2,569.0 312.7,567.9 317.2,567.0 C321.7,566.1 326.3,565.2 330.8,564.4 C335.4,563.7 339.9,563.0 344.5,562.4 C349.1,561.8 353.7,561.3 358.3,560.9 C362.9,560.5 367.5,560.3 372.1,560.1 C376.7,559.9 381.4,560.0 386.0,560.0 C390.6,560.0 395.3,559.9 399.9,560.1 C404.5,560.3 409.1,560.5 413.7,560.9 C418.3,561.3 422.9,561.8 427.5,562.4 C432.1,563.0 436.6,563.7 441.2,564.4 C445.7,565.2 450.3,566.1 454.8,567.0 C459.3,567.9 463.8,569.0 468.3,570.0 C472.8,571.1 479.6,572.7 481.8,573.2" fill="none" stroke="#235593" stroke-width="1.5"/>
<path d="M290.2,572.8 C291.5,570.7 294.7,563.7 298.2,560.4 C301.6,557.1 306.4,555.0 310.9,553.0 C315.5,551.0 320.5,549.6 325.5,548.2 C330.4,546.9 335.6,545.8 340.6,544.9 C345.7,544.0 350.9,543.4 356.0,542.8 C361.1,542.2 366.2,541.8 371.2,541.4 C376.2,541.1 381.1,540.6 386.0,540.6 C390.9,540.6 395.8,541.1 400.8,541.4 C405.8,541.8 410.9,542.2 416.0,542.8 C421.1,543.4 426.3,544.0 431.4,544.9 C436.4,545.8 441.6,546.9 446.5,548.2 C451.5,549.6 456.5,551.0 461.1,553.0 C465.6,555.0 470.4,557.1 473.8,560.4 C477.3,563.7 480.5,570.7 481.8,572.8" fill="none" stroke="#245a9e" stroke-width="3.2"/>
<path d="M290.2,572.8 C291.5,570.7 294.7,563.7 298.2,560.4 C301.6,557.1 306.4,555.0 310.9,553.0 C315.5,551.0 320.5,549.6 325.5,548.2 C330.4,546.9 335.6,545.8 340.6,544.9 C345.7,544.0 350.9,543.4 356.0,542.8 C361.1,542.2 366.2,541.8 371.2,541.4 C376.2,541.1 381.1,540.6 386.0,540.6 C390.9,540.6 395.8,541.1 400.8,541.4 C405.8,541.8 410.9,542.2 416.0,542.8 C421.1,543.4 426.3,544.0 431.4,544.9 C436.4,545.8 441.6,546.9 446.5,548.2 C451.5,549.6 456.5,551.0 461.1,553.0 C465.6,555.0 470.4,557.1 473.8,560.4 C477.3,563.7 480.5,570.7 481.8,572.8" fill="none" stroke="#b3cdee" stroke-width="1.1"/>
<path d="M199.0,637.5 C200.7,635.2 205.8,628.3 209.3,623.9 C212.8,619.4 216.4,614.9 220.2,610.7 C224.0,606.4 228.0,602.2 232.1,598.3 C236.1,594.3 240.4,590.4 244.7,586.8 C249.1,583.1 253.6,579.6 258.2,576.2 C262.8,572.9 267.5,569.7 272.3,566.8 C277.1,563.8 282.1,561.0 287.1,558.4 C292.2,555.8 297.3,553.4 302.5,551.2 C307.7,549.0 313.1,547.0 318.4,545.2 C323.8,543.5 329.3,541.9 334.8,540.6 C340.4,539.3 346.0,538.2 351.7,537.4 C357.3,536.6 363.1,536.0 368.8,535.6 C374.5,535.2 380.3,535.0 386.0,535.0 C391.7,535.0 397.5,535.2 403.2,535.6 C408.9,536.0 414.7,536.6 420.3,537.4 C426.0,538.2 431.6,539.3 437.2,540.6 C442.7,541.9 448.2,543.5 453.6,545.2 C458.9,547.0 464.3,549.0 469.5,551.2 C474.7,553.4 479.8,555.8 484.9,558.4 C489.9,561.0 494.9,563.8 499.7,566.8 C504.5,569.7 509.2,572.9 513.8,576.2 C518.4,579.6 522.9,583.1 527.3,586.8 C531.6,590.4 535.9,594.3 539.9,598.3 C544.0,602.2 548.0,606.4 551.8,610.7 C555.6,614.9 559.2,619.4 562.7,623.9 C566.2,628.3 571.3,635.2 573.0,637.5" fill="none" stroke="#34587e" stroke-width="1.4"/>
</g></g>
<path d="M743.5,523.5 C737.5,538 733,555 732.3,575" fill="none" stroke="#111" stroke-width="2.5"/>
<path d="M726.4,572 L737.6,572 L731.3,593.2 Z" fill="#111"/>
<path d="M1038,521 C1044,536 1049,553 1050,575" fill="none" stroke="#111" stroke-width="2.5"/>
<path d="M1044.6,572 L1055.8,572 L1050.4,592.5 Z" fill="#111"/>
<!-- laser tube -->
<rect x="354" y="1.2" width="32" height="353.8" fill="url(#tube)"/><path d="M354,1.2 L354,355 L386,355 L386,1.2" fill="none" stroke="#111" stroke-width="2.2"/>
<!-- beam -->
<rect x="358.3" y="356" width="23" height="178" fill="url(#beam)"/><rect x="358.3" y="534" width="23" height="27" fill="url(#beam)" opacity="0.7"/>
<rect x="368.3" y="356" width="3.4" height="206" fill="#d8061f"/>
<!-- arrows -->
<line x1="296" y1="308" x2="353" y2="308" stroke="#000" stroke-width="3.2"/>
<line x1="387" y1="308" x2="442" y2="308" stroke="#000" stroke-width="3.2"/>
<path d="M284.5,308 L313,300 L313,316 Z" fill="#000"/>
<path d="M454.5,308 L426,300 L426,316 Z" fill="#000"/>
<!-- label pointer -->
<circle cx="373" cy="127" r="2.8" fill="#000"/>
<line x1="375" y1="127" x2="452" y2="127" stroke="#222" stroke-width="1.3" stroke-dasharray="7,4.5"/>
</svg>
<div class="t" style="left:467px;top:116px;color:#5c5f64;transform:scaleX(0.94)">Laser excimer</div>
<div class="t" style="left:185px;top:865px;">L’épithélium est retiré lors du remodelage de la cornée.</div>
<div class="t" style="left:736px;top:850px;">Une lentille de contact souple, semblable
 à un pansement, est appliquée sur la
cornée.</div>
</body></html>
